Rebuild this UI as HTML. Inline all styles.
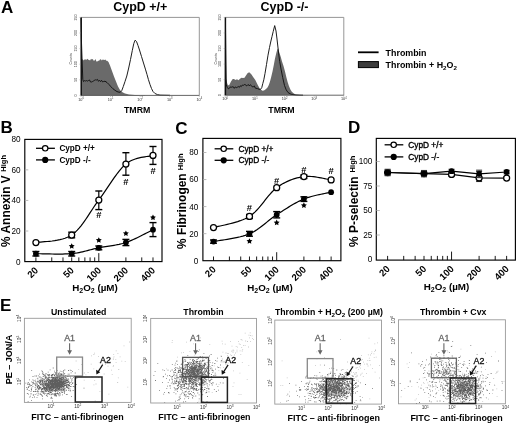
<!DOCTYPE html>
<html><head><meta charset="utf-8"><style>
html,body{margin:0;padding:0;background:#fff;}
svg{display:block;filter:blur(0.4px);}
text{font-family:'Liberation Sans', sans-serif;}
</style></head><body>
<svg width="520" height="424" viewBox="0 0 520 424">
<rect width="520" height="424" fill="#fff"/>
<text x="1.00" y="12.80" font-size="17" font-weight="700" text-anchor="start" fill="#000">A</text>
<text x="140.30" y="10.60" font-size="12.5" font-weight="700" text-anchor="middle" fill="#000">CypD +/+</text>
<text x="284.50" y="10.60" font-size="12.5" font-weight="700" text-anchor="middle" fill="#000">CypD -/-</text>
<path d="M81.00,95.40 L81.00,58.50 L82.00,59.18 L82.90,59.51 L83.80,60.51 L84.70,59.37 L85.60,59.54 L86.50,59.80 L87.40,58.80 L88.30,59.71 L89.20,60.07 L90.10,60.55 L91.00,58.78 L91.90,59.38 L92.80,58.88 L93.70,60.81 L94.60,60.56 L95.50,58.92 L96.40,61.42 L97.30,61.43 L98.20,60.67 L99.10,60.63 L100.00,59.49 L100.90,59.17 L101.80,60.56 L102.70,59.40 L103.60,59.79 L104.50,59.98 L105.40,59.48 L106.30,60.66 L107.20,60.66 L108.50,62.00 L110.00,65.50 L112.00,71.00 L114.00,76.50 L116.00,81.50 L118.00,86.50 L120.00,90.00 L122.00,92.00 L125.00,93.50 L129.00,94.40 L135.00,95.00 L145.00,95.30 L145.00,95.40 Z" fill="#6a6a6a" stroke="none" stroke-width="1" stroke-linejoin="round"/>
<path d="M81.00,17.60 L81.40,40.00 L82.30,66.00 L82.80,79.50 L83.50,81.56 L84.50,80.65 L85.50,80.99 L86.50,80.60 L87.50,81.05 L88.50,80.48 L89.50,79.98 L90.50,81.99 L91.50,81.99 L92.50,81.55 L93.50,81.18 L94.50,80.08 L95.50,79.84 L96.50,80.01 L97.50,79.40 L98.50,81.35 L99.50,80.32 L100.50,81.57 L101.50,80.28 L102.50,81.88 L103.50,81.57 L105.00,81.20 L107.00,82.50 L109.00,84.50 L111.00,86.80 L113.00,88.80 L115.00,90.30 L117.00,91.60 L119.00,92.20 L120.30,92.20 L121.80,90.50 L123.30,86.50 L125.00,81.50 L126.80,76.00 L128.70,68.00 L130.50,59.50 L132.30,50.50 L133.80,43.50 L135.10,40.20 L136.50,41.50 L138.00,45.50 L139.50,50.00 L141.50,56.50 L143.50,63.00 L145.40,69.10 L147.00,74.50 L148.40,79.50 L150.00,84.50 L151.50,88.50 L153.00,91.50 L155.10,93.60 L157.50,94.60 L160.00,95.10 L170.00,95.30" fill="none" stroke="#111" stroke-width="0.95" stroke-linejoin="round"/>
<line x1="81.00" y1="17.40" x2="199.30" y2="17.40" stroke="#8a8a8a" stroke-width="0.9"/>
<line x1="199.30" y1="17.40" x2="199.30" y2="95.40" stroke="#8a8a8a" stroke-width="0.9"/>
<line x1="81.00" y1="95.40" x2="199.30" y2="95.40" stroke="#555" stroke-width="0.9"/>
<line x1="81.20" y1="17.40" x2="81.20" y2="95.40" stroke="#111" stroke-width="1.5"/>
<line x1="79.50" y1="95.40" x2="81.00" y2="95.40" stroke="#888" stroke-width="0.5"/>
<text x="0.00" y="0.00" transform="translate(77.00,95.40) rotate(-90)" font-size="3.6" font-weight="400" text-anchor="middle" fill="#333">0</text>
<line x1="79.50" y1="79.80" x2="81.00" y2="79.80" stroke="#888" stroke-width="0.5"/>
<text x="0.00" y="0.00" transform="translate(77.00,79.80) rotate(-90)" font-size="3.6" font-weight="400" text-anchor="middle" fill="#333">50</text>
<line x1="79.50" y1="64.20" x2="81.00" y2="64.20" stroke="#888" stroke-width="0.5"/>
<text x="0.00" y="0.00" transform="translate(77.00,64.20) rotate(-90)" font-size="3.6" font-weight="400" text-anchor="middle" fill="#333">100</text>
<line x1="79.50" y1="48.60" x2="81.00" y2="48.60" stroke="#888" stroke-width="0.5"/>
<text x="0.00" y="0.00" transform="translate(77.00,48.60) rotate(-90)" font-size="3.6" font-weight="400" text-anchor="middle" fill="#333">150</text>
<line x1="79.50" y1="33.00" x2="81.00" y2="33.00" stroke="#888" stroke-width="0.5"/>
<text x="0.00" y="0.00" transform="translate(77.00,33.00) rotate(-90)" font-size="3.6" font-weight="400" text-anchor="middle" fill="#333">200</text>
<line x1="79.50" y1="17.40" x2="81.00" y2="17.40" stroke="#888" stroke-width="0.5"/>
<text x="0.00" y="0.00" transform="translate(77.00,17.40) rotate(-90)" font-size="3.6" font-weight="400" text-anchor="middle" fill="#333">250</text>
<text x="0.00" y="0.00" transform="translate(72.40,58.90) rotate(-90)" font-size="3.6" font-weight="400" text-anchor="middle" fill="#444">Counts</text>
<line x1="81.00" y1="95.40" x2="81.00" y2="96.90" stroke="#888" stroke-width="0.5"/>
<text x="81.00" y="100.60" font-size="3.8" font-weight="400" text-anchor="middle" fill="#333">10<tspan font-size="2.6" dy="-1.4">0</tspan></text>
<line x1="110.58" y1="95.40" x2="110.58" y2="96.90" stroke="#888" stroke-width="0.5"/>
<text x="110.58" y="100.60" font-size="3.8" font-weight="400" text-anchor="middle" fill="#333">10<tspan font-size="2.6" dy="-1.4">1</tspan></text>
<line x1="140.15" y1="95.40" x2="140.15" y2="96.90" stroke="#888" stroke-width="0.5"/>
<text x="140.15" y="100.60" font-size="3.8" font-weight="400" text-anchor="middle" fill="#333">10<tspan font-size="2.6" dy="-1.4">2</tspan></text>
<line x1="169.73" y1="95.40" x2="169.73" y2="96.90" stroke="#888" stroke-width="0.5"/>
<text x="169.73" y="100.60" font-size="3.8" font-weight="400" text-anchor="middle" fill="#333">10<tspan font-size="2.6" dy="-1.4">3</tspan></text>
<line x1="199.30" y1="95.40" x2="199.30" y2="96.90" stroke="#888" stroke-width="0.5"/>
<text x="199.30" y="100.60" font-size="3.8" font-weight="400" text-anchor="middle" fill="#333">10<tspan font-size="2.6" dy="-1.4">4</tspan></text>
<text x="137.20" y="112.70" font-size="8.8" font-weight="700" text-anchor="middle" fill="#000">TMRM</text>
<path d="M225.20,95.20 L225.20,84.00 L226.20,79.00 L227.50,84.50 L229.00,85.50 L231.00,81.50 L232.70,79.10 L234.00,79.08 L235.50,79.94 L237.00,79.35 L238.50,80.16 L240.00,78.72 L241.50,77.63 L243.00,78.03 L244.50,77.70 L246.00,75.39 L247.50,73.26 L249.20,72.20 L251.30,74.20 L253.30,77.30 L255.30,80.00 L257.50,84.50 L259.80,88.80 L262.40,90.80 L264.00,90.50 L266.00,88.90 L267.50,87.50 L268.80,85.00 L270.00,81.50 L271.20,77.00 L272.50,71.50 L273.80,65.00 L275.00,58.50 L276.30,53.00 L277.40,49.30 L278.20,48.50 L279.30,52.50 L280.70,56.80 L282.00,61.50 L283.50,66.00 L285.00,71.50 L286.30,77.00 L287.60,82.00 L289.00,86.20 L290.40,89.50 L291.80,91.70 L293.50,93.20 L295.40,94.40 L300.00,95.00 L310.00,95.20 Z" fill="#6a6a6a" stroke="none" stroke-width="1" stroke-linejoin="round"/>
<path d="M225.40,95.00 L225.50,27.50 L225.90,60.00 L226.30,85.00 L227.30,87.43 L228.30,88.82 L229.30,88.36 L230.30,86.95 L231.30,87.22 L232.30,86.89 L233.30,86.77 L234.30,88.34 L235.30,86.91 L236.30,87.64 L237.30,87.24 L238.30,86.48 L239.30,87.42 L240.30,85.79 L241.30,86.57 L242.30,85.04 L243.30,85.36 L244.30,84.58 L245.30,84.47 L246.30,85.87 L247.30,85.47 L248.30,84.47 L249.30,85.95 L250.30,84.76 L251.30,85.51 L252.30,86.89 L253.30,86.78 L254.30,85.91 L255.30,88.14 L257.50,88.60 L259.00,89.20 L260.50,89.40 L261.80,87.50 L262.80,83.50 L263.80,79.80 L265.00,73.50 L266.50,64.50 L268.00,55.20 L269.50,47.50 L270.70,42.00 L272.00,36.50 L273.20,31.50 L274.70,25.60 L276.00,31.00 L277.00,39.00 L277.80,46.00 L278.70,54.00 L279.70,61.50 L281.00,69.00 L282.70,77.50 L284.50,85.50 L286.20,89.80 L288.00,92.50 L291.00,94.30 L296.00,95.00 L303.00,95.20" fill="none" stroke="#111" stroke-width="0.95" stroke-linejoin="round"/>
<line x1="225.20" y1="17.40" x2="343.80" y2="17.40" stroke="#8a8a8a" stroke-width="0.9"/>
<line x1="343.80" y1="17.40" x2="343.80" y2="95.20" stroke="#8a8a8a" stroke-width="0.9"/>
<line x1="225.20" y1="95.20" x2="343.80" y2="95.20" stroke="#555" stroke-width="0.9"/>
<line x1="225.40" y1="17.40" x2="225.40" y2="95.20" stroke="#111" stroke-width="1.5"/>
<line x1="223.70" y1="95.20" x2="225.20" y2="95.20" stroke="#888" stroke-width="0.5"/>
<text x="0.00" y="0.00" transform="translate(221.20,95.20) rotate(-90)" font-size="3.6" font-weight="400" text-anchor="middle" fill="#333">0</text>
<line x1="223.70" y1="79.64" x2="225.20" y2="79.64" stroke="#888" stroke-width="0.5"/>
<text x="0.00" y="0.00" transform="translate(221.20,79.64) rotate(-90)" font-size="3.6" font-weight="400" text-anchor="middle" fill="#333">50</text>
<line x1="223.70" y1="64.08" x2="225.20" y2="64.08" stroke="#888" stroke-width="0.5"/>
<text x="0.00" y="0.00" transform="translate(221.20,64.08) rotate(-90)" font-size="3.6" font-weight="400" text-anchor="middle" fill="#333">100</text>
<line x1="223.70" y1="48.52" x2="225.20" y2="48.52" stroke="#888" stroke-width="0.5"/>
<text x="0.00" y="0.00" transform="translate(221.20,48.52) rotate(-90)" font-size="3.6" font-weight="400" text-anchor="middle" fill="#333">150</text>
<line x1="223.70" y1="32.96" x2="225.20" y2="32.96" stroke="#888" stroke-width="0.5"/>
<text x="0.00" y="0.00" transform="translate(221.20,32.96) rotate(-90)" font-size="3.6" font-weight="400" text-anchor="middle" fill="#333">200</text>
<line x1="223.70" y1="17.40" x2="225.20" y2="17.40" stroke="#888" stroke-width="0.5"/>
<text x="0.00" y="0.00" transform="translate(221.20,17.40) rotate(-90)" font-size="3.6" font-weight="400" text-anchor="middle" fill="#333">250</text>
<text x="0.00" y="0.00" transform="translate(216.60,58.80) rotate(-90)" font-size="3.6" font-weight="400" text-anchor="middle" fill="#444">Counts</text>
<line x1="225.20" y1="95.20" x2="225.20" y2="96.70" stroke="#888" stroke-width="0.5"/>
<text x="225.20" y="100.40" font-size="3.8" font-weight="400" text-anchor="middle" fill="#333">10<tspan font-size="2.6" dy="-1.4">0</tspan></text>
<line x1="254.85" y1="95.20" x2="254.85" y2="96.70" stroke="#888" stroke-width="0.5"/>
<text x="254.85" y="100.40" font-size="3.8" font-weight="400" text-anchor="middle" fill="#333">10<tspan font-size="2.6" dy="-1.4">1</tspan></text>
<line x1="284.50" y1="95.20" x2="284.50" y2="96.70" stroke="#888" stroke-width="0.5"/>
<text x="284.50" y="100.40" font-size="3.8" font-weight="400" text-anchor="middle" fill="#333">10<tspan font-size="2.6" dy="-1.4">2</tspan></text>
<line x1="314.15" y1="95.20" x2="314.15" y2="96.70" stroke="#888" stroke-width="0.5"/>
<text x="314.15" y="100.40" font-size="3.8" font-weight="400" text-anchor="middle" fill="#333">10<tspan font-size="2.6" dy="-1.4">3</tspan></text>
<line x1="343.80" y1="95.20" x2="343.80" y2="96.70" stroke="#888" stroke-width="0.5"/>
<text x="343.80" y="100.40" font-size="3.8" font-weight="400" text-anchor="middle" fill="#333">10<tspan font-size="2.6" dy="-1.4">4</tspan></text>
<text x="281.50" y="112.70" font-size="8.8" font-weight="700" text-anchor="middle" fill="#000">TMRM</text>
<line x1="358.00" y1="52.30" x2="378.60" y2="52.30" stroke="#000" stroke-width="1.8"/>
<rect x="358.40" y="61.60" width="20.00" height="6.00" stroke="#000" stroke-width="1.0" fill="#3c3c3c"/>
<text x="385.60" y="56.00" font-size="8.9" font-weight="700" text-anchor="start" fill="#000">Thrombin</text>
<text x="385.60" y="68.30" font-size="8.9" font-weight="700" text-anchor="start" fill="#000">Thrombin + H<tspan font-size="6.2" dy="1.8">2</tspan><tspan dy="-1.8">O</tspan><tspan font-size="6.2" dy="1.8">2</tspan></text>
<text x="0.40" y="132.60" font-size="17" font-weight="700" text-anchor="start" fill="#000">B</text>
<rect x="24.80" y="139.40" width="137.20" height="122.20" stroke="#000" stroke-width="1.15" fill="none"/>
<text x="20.60" y="264.50" font-size="8.2" font-weight="400" text-anchor="end" fill="#000">0</text>
<line x1="24.80" y1="231.02" x2="28.30" y2="231.02" stroke="#aaa" stroke-width="0.8"/>
<text x="20.60" y="233.92" font-size="8.2" font-weight="400" text-anchor="end" fill="#000">20</text>
<line x1="24.80" y1="200.44" x2="28.30" y2="200.44" stroke="#aaa" stroke-width="0.8"/>
<text x="20.60" y="203.34" font-size="8.2" font-weight="400" text-anchor="end" fill="#000">40</text>
<line x1="24.80" y1="169.86" x2="28.30" y2="169.86" stroke="#aaa" stroke-width="0.8"/>
<text x="20.60" y="172.76" font-size="8.2" font-weight="400" text-anchor="end" fill="#000">60</text>
<text x="20.60" y="142.18" font-size="8.2" font-weight="400" text-anchor="end" fill="#000">80</text>
<line x1="35.90" y1="261.60" x2="35.90" y2="257.40" stroke="#000" stroke-width="0.9"/>
<line x1="51.75" y1="261.60" x2="51.75" y2="257.40" stroke="#000" stroke-width="0.9"/>
<line x1="62.99" y1="261.60" x2="62.99" y2="257.40" stroke="#000" stroke-width="0.9"/>
<line x1="71.71" y1="261.60" x2="71.71" y2="257.40" stroke="#000" stroke-width="0.9"/>
<line x1="78.84" y1="261.60" x2="78.84" y2="257.40" stroke="#000" stroke-width="0.9"/>
<line x1="84.87" y1="261.60" x2="84.87" y2="257.40" stroke="#000" stroke-width="0.9"/>
<line x1="90.09" y1="261.60" x2="90.09" y2="257.40" stroke="#000" stroke-width="0.9"/>
<line x1="94.69" y1="261.60" x2="94.69" y2="257.40" stroke="#000" stroke-width="0.9"/>
<line x1="98.81" y1="261.60" x2="98.81" y2="253.10" stroke="#000" stroke-width="0.9"/>
<line x1="125.90" y1="261.60" x2="125.90" y2="257.40" stroke="#000" stroke-width="0.9"/>
<line x1="141.75" y1="261.60" x2="141.75" y2="257.40" stroke="#000" stroke-width="0.9"/>
<line x1="152.99" y1="261.60" x2="152.99" y2="257.40" stroke="#000" stroke-width="0.9"/>
<text x="0.00" y="0.00" transform="translate(38.80,271.00) rotate(-45)" font-size="9.6" font-weight="700" text-anchor="end" fill="#000">20</text>
<text x="0.00" y="0.00" transform="translate(74.61,271.00) rotate(-45)" font-size="9.6" font-weight="700" text-anchor="end" fill="#000">50</text>
<text x="0.00" y="0.00" transform="translate(101.71,271.00) rotate(-45)" font-size="9.6" font-weight="700" text-anchor="end" fill="#000">100</text>
<text x="0.00" y="0.00" transform="translate(128.80,271.00) rotate(-45)" font-size="9.6" font-weight="700" text-anchor="end" fill="#000">200</text>
<text x="0.00" y="0.00" transform="translate(155.89,271.00) rotate(-45)" font-size="9.6" font-weight="700" text-anchor="end" fill="#000">400</text>
<text x="95.00" y="290.50" font-size="9.8" font-weight="700" text-anchor="middle" fill="#000">H<tspan font-size="7" dy="2">2</tspan><tspan dy="-2">O</tspan><tspan font-size="7" dy="2">2</tspan><tspan dy="-2"> (µM)</tspan></text>
<text x="0.00" y="0.00" transform="translate(10.30,246.90) rotate(-90)" font-size="11.9" font-weight="700" text-anchor="start" fill="#000">% Annexin V</text>
<text x="0.00" y="0.00" transform="translate(6.10,171.80) rotate(-90)" font-size="7.6" font-weight="700" text-anchor="start" fill="#000">High</text>
<line x1="36.00" y1="148.30" x2="54.90" y2="148.30" stroke="#000" stroke-width="1.3"/>
<circle cx="45.2" cy="148.3" r="2.7" fill="#fff" stroke="#000" stroke-width="1.2"/>
<text x="59.40" y="151.30" font-size="8.2" font-weight="700" text-anchor="start" fill="#000">CypD +/+</text>
<line x1="36.00" y1="159.90" x2="54.90" y2="159.90" stroke="#000" stroke-width="1.3"/>
<circle cx="45.2" cy="159.9" r="3.1" fill="#000"/>
<text x="59.40" y="162.90" font-size="8.2" font-weight="700" text-anchor="start" fill="#000">CypD -/-</text>
<path d="M35.90,242.60 L37.17,242.38 L38.72,242.20 L40.52,242.04 L42.54,241.88 L44.74,241.71 L47.09,241.51 L49.56,241.28 L52.11,240.99 L54.72,240.63 L57.35,240.19 L59.96,239.65 L62.53,239.00 L65.03,238.23 L67.41,237.31 L69.65,236.24 L71.71,235.00 L73.65,233.57 L75.52,231.94 L77.33,230.15 L79.10,228.20 L80.83,226.12 L82.51,223.93 L84.17,221.64 L85.81,219.28 L87.42,216.86 L89.03,214.40 L90.63,211.93 L92.24,209.46 L93.85,207.02 L95.48,204.61 L97.13,202.27 L98.81,200.00 L100.50,197.73 L102.19,195.36 L103.89,192.92 L105.58,190.43 L107.27,187.90 L108.97,185.37 L110.66,182.84 L112.35,180.35 L114.05,177.91 L115.74,175.54 L117.43,173.26 L119.13,171.10 L120.82,169.07 L122.51,167.20 L124.21,165.50 L125.90,164.00 L127.64,162.69 L129.47,161.56 L131.37,160.57 L133.31,159.72 L135.28,159.00 L137.25,158.39 L139.21,157.88 L141.14,157.45 L143.01,157.09 L144.82,156.79 L146.53,156.53 L148.12,156.30 L149.59,156.09 L150.90,155.88 L152.04,155.65 L152.99,155.40" fill="none" stroke="#000" stroke-width="1.2" stroke-linejoin="round" fill="none"/>
<line x1="71.71" y1="232.20" x2="71.71" y2="237.80" stroke="#000" stroke-width="1.2"/>
<line x1="68.21" y1="232.20" x2="75.21" y2="232.20" stroke="#000" stroke-width="1.4"/>
<line x1="68.21" y1="237.80" x2="75.21" y2="237.80" stroke="#000" stroke-width="1.4"/>
<line x1="98.81" y1="191.00" x2="98.81" y2="209.60" stroke="#000" stroke-width="1.2"/>
<line x1="95.31" y1="191.00" x2="102.31" y2="191.00" stroke="#000" stroke-width="1.4"/>
<line x1="95.31" y1="209.60" x2="102.31" y2="209.60" stroke="#000" stroke-width="1.4"/>
<line x1="125.90" y1="152.70" x2="125.90" y2="175.20" stroke="#000" stroke-width="1.2"/>
<line x1="122.40" y1="152.70" x2="129.40" y2="152.70" stroke="#000" stroke-width="1.4"/>
<line x1="122.40" y1="175.20" x2="129.40" y2="175.20" stroke="#000" stroke-width="1.4"/>
<line x1="152.99" y1="146.50" x2="152.99" y2="164.40" stroke="#000" stroke-width="1.2"/>
<line x1="149.49" y1="146.50" x2="156.49" y2="146.50" stroke="#000" stroke-width="1.4"/>
<line x1="149.49" y1="164.40" x2="156.49" y2="164.40" stroke="#000" stroke-width="1.4"/>
<circle cx="35.90" cy="242.60" r="3.0" fill="#fff" stroke="#000" stroke-width="1.25"/>
<circle cx="71.71" cy="235.00" r="3.0" fill="#fff" stroke="#000" stroke-width="1.25"/>
<circle cx="98.81" cy="200.00" r="3.0" fill="#fff" stroke="#000" stroke-width="1.25"/>
<circle cx="125.90" cy="164.00" r="3.0" fill="#fff" stroke="#000" stroke-width="1.25"/>
<circle cx="152.99" cy="155.40" r="3.0" fill="#fff" stroke="#000" stroke-width="1.25"/>
<path d="M35.90,253.70 L37.17,253.71 L38.72,253.73 L40.52,253.77 L42.54,253.82 L44.74,253.87 L47.09,253.92 L49.56,253.97 L52.11,254.01 L54.72,254.04 L57.35,254.06 L59.96,254.06 L62.53,254.03 L65.03,253.97 L67.41,253.89 L69.65,253.76 L71.71,253.60 L73.65,253.39 L75.52,253.14 L77.33,252.86 L79.10,252.54 L80.83,252.19 L82.51,251.82 L84.17,251.43 L85.81,251.02 L87.42,250.61 L89.03,250.19 L90.63,249.77 L92.24,249.35 L93.85,248.94 L95.48,248.54 L97.13,248.16 L98.81,247.80 L100.50,247.47 L102.19,247.16 L103.89,246.88 L105.58,246.62 L107.27,246.36 L108.97,246.11 L110.66,245.85 L112.35,245.59 L114.05,245.31 L115.74,245.01 L117.43,244.69 L119.13,244.34 L120.82,243.95 L122.51,243.52 L124.21,243.04 L125.90,242.50 L127.64,241.88 L129.47,241.17 L131.37,240.38 L133.31,239.53 L135.28,238.62 L137.25,237.69 L139.21,236.73 L141.14,235.77 L143.01,234.82 L144.82,233.89 L146.53,233.01 L148.12,232.18 L149.59,231.41 L150.90,230.74 L152.04,230.16 L152.99,229.70" fill="none" stroke="#000" stroke-width="1.2" stroke-linejoin="round" fill="none"/>
<line x1="35.90" y1="251.50" x2="35.90" y2="256.00" stroke="#000" stroke-width="1.2"/>
<line x1="32.40" y1="251.50" x2="39.40" y2="251.50" stroke="#000" stroke-width="1.4"/>
<line x1="32.40" y1="256.00" x2="39.40" y2="256.00" stroke="#000" stroke-width="1.4"/>
<line x1="71.71" y1="251.50" x2="71.71" y2="256.00" stroke="#000" stroke-width="1.2"/>
<line x1="68.21" y1="251.50" x2="75.21" y2="251.50" stroke="#000" stroke-width="1.4"/>
<line x1="68.21" y1="256.00" x2="75.21" y2="256.00" stroke="#000" stroke-width="1.4"/>
<line x1="98.81" y1="246.00" x2="98.81" y2="249.80" stroke="#000" stroke-width="1.2"/>
<line x1="95.31" y1="246.00" x2="102.31" y2="246.00" stroke="#000" stroke-width="1.4"/>
<line x1="95.31" y1="249.80" x2="102.31" y2="249.80" stroke="#000" stroke-width="1.4"/>
<line x1="125.90" y1="239.40" x2="125.90" y2="245.60" stroke="#000" stroke-width="1.2"/>
<line x1="122.40" y1="239.40" x2="129.40" y2="239.40" stroke="#000" stroke-width="1.4"/>
<line x1="122.40" y1="245.60" x2="129.40" y2="245.60" stroke="#000" stroke-width="1.4"/>
<line x1="152.99" y1="222.60" x2="152.99" y2="236.60" stroke="#000" stroke-width="1.2"/>
<line x1="149.49" y1="222.60" x2="156.49" y2="222.60" stroke="#000" stroke-width="1.4"/>
<line x1="149.49" y1="236.60" x2="156.49" y2="236.60" stroke="#000" stroke-width="1.4"/>
<circle cx="35.90" cy="253.70" r="2.9" fill="#000"/>
<circle cx="71.71" cy="253.60" r="2.9" fill="#000"/>
<circle cx="98.81" cy="247.80" r="2.9" fill="#000"/>
<circle cx="125.90" cy="242.50" r="2.9" fill="#000"/>
<circle cx="152.99" cy="229.70" r="2.9" fill="#000"/>
<path d="M71.71,243.20 L72.63,245.05 L74.66,245.34 L73.19,246.78 L73.54,248.81 L71.71,247.85 L69.89,248.81 L70.24,246.78 L68.77,245.34 L70.80,245.05 Z" fill="#000" stroke="none" stroke-width="1" stroke-linejoin="round"/>
<path d="M98.81,237.20 L99.72,239.05 L101.76,239.34 L100.28,240.78 L100.63,242.81 L98.81,241.85 L96.99,242.81 L97.33,240.78 L95.86,239.34 L97.90,239.05 Z" fill="#000" stroke="none" stroke-width="1" stroke-linejoin="round"/>
<path d="M125.90,230.40 L126.81,232.25 L128.85,232.54 L127.37,233.98 L127.72,236.01 L125.90,235.05 L124.08,236.01 L124.43,233.98 L122.95,232.54 L124.99,232.25 Z" fill="#000" stroke="none" stroke-width="1" stroke-linejoin="round"/>
<path d="M152.99,214.50 L153.90,216.35 L155.94,216.64 L154.47,218.08 L154.81,220.11 L152.99,219.15 L151.17,220.11 L151.52,218.08 L150.04,216.64 L152.08,216.35 Z" fill="#000" stroke="none" stroke-width="1" stroke-linejoin="round"/>
<text x="98.81" y="218.30" font-size="9.4" font-weight="700" text-anchor="middle" fill="#000">#</text>
<text x="125.90" y="184.90" font-size="9.4" font-weight="700" text-anchor="middle" fill="#000">#</text>
<text x="152.99" y="173.60" font-size="9.4" font-weight="700" text-anchor="middle" fill="#000">#</text>
<text x="175.30" y="134.00" font-size="17" font-weight="700" text-anchor="start" fill="#000">C</text>
<rect x="202.90" y="138.40" width="138.00" height="122.30" stroke="#000" stroke-width="1.15" fill="none"/>
<text x="198.40" y="263.60" font-size="8.2" font-weight="400" text-anchor="end" fill="#000">0</text>
<line x1="202.90" y1="233.65" x2="206.40" y2="233.65" stroke="#aaa" stroke-width="0.8"/>
<text x="198.40" y="236.55" font-size="8.2" font-weight="400" text-anchor="end" fill="#000">20</text>
<line x1="202.90" y1="206.60" x2="206.40" y2="206.60" stroke="#aaa" stroke-width="0.8"/>
<text x="198.40" y="209.50" font-size="8.2" font-weight="400" text-anchor="end" fill="#000">40</text>
<line x1="202.90" y1="179.55" x2="206.40" y2="179.55" stroke="#aaa" stroke-width="0.8"/>
<text x="198.40" y="182.45" font-size="8.2" font-weight="400" text-anchor="end" fill="#000">60</text>
<line x1="202.90" y1="152.50" x2="206.40" y2="152.50" stroke="#aaa" stroke-width="0.8"/>
<text x="198.40" y="155.40" font-size="8.2" font-weight="400" text-anchor="end" fill="#000">80</text>
<line x1="213.50" y1="260.70" x2="213.50" y2="256.50" stroke="#000" stroke-width="0.9"/>
<line x1="229.42" y1="260.70" x2="229.42" y2="256.50" stroke="#000" stroke-width="0.9"/>
<line x1="240.71" y1="260.70" x2="240.71" y2="256.50" stroke="#000" stroke-width="0.9"/>
<line x1="249.47" y1="260.70" x2="249.47" y2="256.50" stroke="#000" stroke-width="0.9"/>
<line x1="256.63" y1="260.70" x2="256.63" y2="256.50" stroke="#000" stroke-width="0.9"/>
<line x1="262.68" y1="260.70" x2="262.68" y2="256.50" stroke="#000" stroke-width="0.9"/>
<line x1="267.93" y1="260.70" x2="267.93" y2="256.50" stroke="#000" stroke-width="0.9"/>
<line x1="272.55" y1="260.70" x2="272.55" y2="256.50" stroke="#000" stroke-width="0.9"/>
<line x1="276.69" y1="260.70" x2="276.69" y2="252.20" stroke="#000" stroke-width="0.9"/>
<line x1="303.90" y1="260.70" x2="303.90" y2="256.50" stroke="#000" stroke-width="0.9"/>
<line x1="319.82" y1="260.70" x2="319.82" y2="256.50" stroke="#000" stroke-width="0.9"/>
<line x1="331.11" y1="260.70" x2="331.11" y2="256.50" stroke="#000" stroke-width="0.9"/>
<text x="0.00" y="0.00" transform="translate(216.40,270.10) rotate(-45)" font-size="9.6" font-weight="700" text-anchor="end" fill="#000">20</text>
<text x="0.00" y="0.00" transform="translate(252.37,270.10) rotate(-45)" font-size="9.6" font-weight="700" text-anchor="end" fill="#000">50</text>
<text x="0.00" y="0.00" transform="translate(279.59,270.10) rotate(-45)" font-size="9.6" font-weight="700" text-anchor="end" fill="#000">100</text>
<text x="0.00" y="0.00" transform="translate(306.80,270.10) rotate(-45)" font-size="9.6" font-weight="700" text-anchor="end" fill="#000">200</text>
<text x="0.00" y="0.00" transform="translate(334.01,270.10) rotate(-45)" font-size="9.6" font-weight="700" text-anchor="end" fill="#000">400</text>
<text x="270.00" y="290.50" font-size="9.8" font-weight="700" text-anchor="middle" fill="#000">H<tspan font-size="7" dy="2">2</tspan><tspan dy="-2">O</tspan><tspan font-size="7" dy="2">2</tspan><tspan dy="-2"> (µM)</tspan></text>
<text x="0.00" y="0.00" transform="translate(186.40,249.00) rotate(-90)" font-size="11.95" font-weight="700" text-anchor="start" fill="#000">% Fibrinogen</text>
<text x="0.00" y="0.00" transform="translate(182.60,170.30) rotate(-90)" font-size="7.6" font-weight="700" text-anchor="start" fill="#000">High</text>
<line x1="214.60" y1="148.80" x2="233.30" y2="148.80" stroke="#000" stroke-width="1.3"/>
<circle cx="223.7" cy="148.8" r="2.7" fill="#fff" stroke="#000" stroke-width="1.2"/>
<text x="238.40" y="151.80" font-size="8.3" font-weight="400" text-anchor="start" fill="#000" stroke="#000" stroke-width="0.35">CypD +/+</text>
<line x1="214.60" y1="160.30" x2="233.30" y2="160.30" stroke="#000" stroke-width="1.3"/>
<circle cx="223.7" cy="160.3" r="3.1" fill="#000"/>
<text x="238.40" y="163.30" font-size="8.3" font-weight="400" text-anchor="start" fill="#000" stroke="#000" stroke-width="0.35">CypD -/-</text>
<path d="M213.50,227.60 L214.78,227.24 L216.34,226.86 L218.14,226.44 L220.17,226.00 L222.38,225.51 L224.74,224.99 L227.22,224.42 L229.79,223.79 L232.41,223.11 L235.04,222.37 L237.67,221.57 L240.25,220.69 L242.76,219.74 L245.15,218.71 L247.40,217.60 L249.47,216.40 L251.42,215.05 L253.29,213.53 L255.12,211.85 L256.89,210.04 L258.62,208.13 L260.32,206.15 L261.99,204.11 L263.63,202.04 L265.25,199.98 L266.87,197.94 L268.48,195.96 L270.09,194.05 L271.71,192.24 L273.35,190.56 L275.00,189.04 L276.69,187.70 L278.39,186.50 L280.09,185.37 L281.79,184.32 L283.49,183.35 L285.19,182.45 L286.89,181.62 L288.59,180.85 L290.29,180.15 L291.99,179.51 L293.70,178.93 L295.40,178.41 L297.10,177.95 L298.80,177.54 L300.50,177.18 L302.20,176.87 L303.90,176.60 L305.65,176.42 L307.49,176.35 L309.39,176.37 L311.34,176.49 L313.32,176.68 L315.30,176.93 L317.27,177.22 L319.21,177.56 L321.09,177.91 L322.90,178.27 L324.62,178.63 L326.22,178.97 L327.69,179.28 L329.01,179.55 L330.16,179.76 L331.11,179.90" fill="none" stroke="#000" stroke-width="1.2" stroke-linejoin="round" fill="none"/>
<line x1="249.47" y1="214.50" x2="249.47" y2="218.50" stroke="#000" stroke-width="1.2"/>
<line x1="245.97" y1="214.50" x2="252.97" y2="214.50" stroke="#000" stroke-width="1.4"/>
<line x1="245.97" y1="218.50" x2="252.97" y2="218.50" stroke="#000" stroke-width="1.4"/>
<line x1="303.90" y1="175.00" x2="303.90" y2="178.50" stroke="#000" stroke-width="1.2"/>
<line x1="300.40" y1="175.00" x2="307.40" y2="175.00" stroke="#000" stroke-width="1.4"/>
<line x1="300.40" y1="178.50" x2="307.40" y2="178.50" stroke="#000" stroke-width="1.4"/>
<circle cx="213.50" cy="227.60" r="3.0" fill="#fff" stroke="#000" stroke-width="1.25"/>
<circle cx="249.47" cy="216.40" r="3.0" fill="#fff" stroke="#000" stroke-width="1.25"/>
<circle cx="276.69" cy="187.70" r="3.0" fill="#fff" stroke="#000" stroke-width="1.25"/>
<circle cx="303.90" cy="176.60" r="3.0" fill="#fff" stroke="#000" stroke-width="1.25"/>
<circle cx="331.11" cy="179.90" r="3.0" fill="#fff" stroke="#000" stroke-width="1.25"/>
<path d="M213.50,241.60 L214.78,241.35 L216.34,241.08 L218.14,240.78 L220.17,240.46 L222.38,240.12 L224.74,239.74 L227.22,239.34 L229.79,238.89 L232.41,238.41 L235.04,237.90 L237.67,237.33 L240.25,236.73 L242.76,236.07 L245.15,235.37 L247.40,234.61 L249.47,233.80 L251.42,232.91 L253.29,231.93 L255.12,230.87 L256.89,229.74 L258.62,228.55 L260.32,227.32 L261.99,226.04 L263.63,224.74 L265.25,223.43 L266.87,222.11 L268.48,220.80 L270.09,219.50 L271.71,218.23 L273.35,217.00 L275.00,215.82 L276.69,214.70 L278.39,213.61 L280.09,212.51 L281.79,211.42 L283.49,210.33 L285.19,209.24 L286.89,208.17 L288.59,207.12 L290.29,206.08 L291.99,205.07 L293.70,204.09 L295.40,203.13 L297.10,202.22 L298.80,201.34 L300.50,200.51 L302.20,199.73 L303.90,199.00 L305.65,198.32 L307.49,197.68 L309.39,197.08 L311.34,196.51 L313.32,195.99 L315.30,195.50 L317.27,195.04 L319.21,194.62 L321.09,194.23 L322.90,193.86 L324.62,193.52 L326.22,193.21 L327.69,192.93 L329.01,192.66 L330.16,192.42 L331.11,192.20" fill="none" stroke="#000" stroke-width="1.2" stroke-linejoin="round" fill="none"/>
<line x1="213.50" y1="240.00" x2="213.50" y2="243.20" stroke="#000" stroke-width="1.2"/>
<line x1="210.00" y1="240.00" x2="217.00" y2="240.00" stroke="#000" stroke-width="1.4"/>
<line x1="210.00" y1="243.20" x2="217.00" y2="243.20" stroke="#000" stroke-width="1.4"/>
<line x1="249.47" y1="231.40" x2="249.47" y2="236.20" stroke="#000" stroke-width="1.2"/>
<line x1="245.97" y1="231.40" x2="252.97" y2="231.40" stroke="#000" stroke-width="1.4"/>
<line x1="245.97" y1="236.20" x2="252.97" y2="236.20" stroke="#000" stroke-width="1.4"/>
<line x1="276.69" y1="211.60" x2="276.69" y2="217.90" stroke="#000" stroke-width="1.2"/>
<line x1="273.19" y1="211.60" x2="280.19" y2="211.60" stroke="#000" stroke-width="1.4"/>
<line x1="273.19" y1="217.90" x2="280.19" y2="217.90" stroke="#000" stroke-width="1.4"/>
<line x1="303.90" y1="196.80" x2="303.90" y2="201.40" stroke="#000" stroke-width="1.2"/>
<line x1="300.40" y1="196.80" x2="307.40" y2="196.80" stroke="#000" stroke-width="1.4"/>
<line x1="300.40" y1="201.40" x2="307.40" y2="201.40" stroke="#000" stroke-width="1.4"/>
<circle cx="213.50" cy="241.60" r="2.9" fill="#000"/>
<circle cx="249.47" cy="233.80" r="2.9" fill="#000"/>
<circle cx="276.69" cy="214.70" r="2.9" fill="#000"/>
<circle cx="303.90" cy="199.00" r="2.9" fill="#000"/>
<circle cx="331.11" cy="192.20" r="2.9" fill="#000"/>
<path d="M249.47,238.20 L250.38,240.05 L252.42,240.34 L250.95,241.78 L251.30,243.81 L249.47,242.85 L247.65,243.81 L248.00,241.78 L246.53,240.34 L248.56,240.05 Z" fill="#000" stroke="none" stroke-width="1" stroke-linejoin="round"/>
<path d="M276.69,219.60 L277.60,221.45 L279.64,221.74 L278.16,223.18 L278.51,225.21 L276.69,224.25 L274.86,225.21 L275.21,223.18 L273.74,221.74 L275.78,221.45 Z" fill="#000" stroke="none" stroke-width="1" stroke-linejoin="round"/>
<path d="M303.90,202.30 L304.81,204.15 L306.85,204.44 L305.37,205.88 L305.72,207.91 L303.90,206.95 L302.08,207.91 L302.43,205.88 L300.95,204.44 L302.99,204.15 Z" fill="#000" stroke="none" stroke-width="1" stroke-linejoin="round"/>
<text x="249.47" y="211.00" font-size="9.4" font-weight="700" text-anchor="middle" fill="#000">#</text>
<text x="276.69" y="184.30" font-size="9.4" font-weight="700" text-anchor="middle" fill="#000">#</text>
<text x="303.90" y="172.60" font-size="9.4" font-weight="700" text-anchor="middle" fill="#000">#</text>
<text x="331.11" y="173.60" font-size="9.4" font-weight="700" text-anchor="middle" fill="#000">#</text>
<text x="348.00" y="133.30" font-size="17" font-weight="700" text-anchor="start" fill="#000">D</text>
<rect x="376.30" y="138.40" width="139.10" height="121.70" stroke="#000" stroke-width="1.15" fill="none"/>
<text x="372.40" y="262.40" font-size="8.2" font-weight="400" text-anchor="end" fill="#000">0</text>
<line x1="376.30" y1="235.00" x2="379.80" y2="235.00" stroke="#aaa" stroke-width="0.8"/>
<text x="372.40" y="237.90" font-size="8.2" font-weight="400" text-anchor="end" fill="#000">25</text>
<line x1="376.30" y1="210.50" x2="379.80" y2="210.50" stroke="#aaa" stroke-width="0.8"/>
<text x="372.40" y="213.40" font-size="8.2" font-weight="400" text-anchor="end" fill="#000">50</text>
<line x1="376.30" y1="186.00" x2="379.80" y2="186.00" stroke="#aaa" stroke-width="0.8"/>
<text x="372.40" y="188.90" font-size="8.2" font-weight="400" text-anchor="end" fill="#000">75</text>
<line x1="376.30" y1="161.50" x2="379.80" y2="161.50" stroke="#aaa" stroke-width="0.8"/>
<text x="372.40" y="164.40" font-size="8.2" font-weight="400" text-anchor="end" fill="#000">100</text>
<line x1="387.60" y1="260.10" x2="387.60" y2="255.90" stroke="#000" stroke-width="0.9"/>
<line x1="403.71" y1="260.10" x2="403.71" y2="255.90" stroke="#000" stroke-width="0.9"/>
<line x1="415.14" y1="260.10" x2="415.14" y2="255.90" stroke="#000" stroke-width="0.9"/>
<line x1="424.01" y1="260.10" x2="424.01" y2="255.90" stroke="#000" stroke-width="0.9"/>
<line x1="431.26" y1="260.10" x2="431.26" y2="255.90" stroke="#000" stroke-width="0.9"/>
<line x1="437.38" y1="260.10" x2="437.38" y2="255.90" stroke="#000" stroke-width="0.9"/>
<line x1="442.69" y1="260.10" x2="442.69" y2="255.90" stroke="#000" stroke-width="0.9"/>
<line x1="447.37" y1="260.10" x2="447.37" y2="255.90" stroke="#000" stroke-width="0.9"/>
<line x1="451.56" y1="260.10" x2="451.56" y2="251.60" stroke="#000" stroke-width="0.9"/>
<line x1="479.10" y1="260.10" x2="479.10" y2="255.90" stroke="#000" stroke-width="0.9"/>
<line x1="495.21" y1="260.10" x2="495.21" y2="255.90" stroke="#000" stroke-width="0.9"/>
<line x1="506.64" y1="260.10" x2="506.64" y2="255.90" stroke="#000" stroke-width="0.9"/>
<text x="0.00" y="0.00" transform="translate(390.50,269.50) rotate(-45)" font-size="9.6" font-weight="700" text-anchor="end" fill="#000">20</text>
<text x="0.00" y="0.00" transform="translate(426.91,269.50) rotate(-45)" font-size="9.6" font-weight="700" text-anchor="end" fill="#000">50</text>
<text x="0.00" y="0.00" transform="translate(454.46,269.50) rotate(-45)" font-size="9.6" font-weight="700" text-anchor="end" fill="#000">100</text>
<text x="0.00" y="0.00" transform="translate(482.00,269.50) rotate(-45)" font-size="9.6" font-weight="700" text-anchor="end" fill="#000">200</text>
<text x="0.00" y="0.00" transform="translate(509.54,269.50) rotate(-45)" font-size="9.6" font-weight="700" text-anchor="end" fill="#000">400</text>
<text x="446.50" y="289.50" font-size="9.8" font-weight="700" text-anchor="middle" fill="#000">H<tspan font-size="7" dy="2">2</tspan><tspan dy="-2">O</tspan><tspan font-size="7" dy="2">2</tspan><tspan dy="-2"> (µM)</tspan></text>
<text x="0.00" y="0.00" transform="translate(357.90,247.00) rotate(-90)" font-size="12.0" font-weight="700" text-anchor="start" fill="#000">% P-selectin</text>
<text x="0.00" y="0.00" transform="translate(354.60,172.40) rotate(-90)" font-size="7.6" font-weight="700" text-anchor="start" fill="#000">High</text>
<line x1="384.60" y1="144.80" x2="403.30" y2="144.80" stroke="#000" stroke-width="1.3"/>
<circle cx="393.7" cy="144.8" r="2.7" fill="#fff" stroke="#000" stroke-width="1.2"/>
<text x="408.30" y="147.80" font-size="8.3" font-weight="400" text-anchor="start" fill="#000" stroke="#000" stroke-width="0.35">CypD +/+</text>
<line x1="384.60" y1="156.90" x2="403.30" y2="156.90" stroke="#000" stroke-width="1.3"/>
<circle cx="393.7" cy="156.9" r="3.1" fill="#000"/>
<text x="408.30" y="159.90" font-size="8.3" font-weight="400" text-anchor="start" fill="#000" stroke="#000" stroke-width="0.35">CypD -/-</text>
<path d="M387.60,172.50 L424.01,173.60 L451.56,174.40 L479.10,177.90 L506.64,178.10" fill="none" stroke="#000" stroke-width="1.2" stroke-linejoin="round" fill="none"/>
<line x1="387.60" y1="170.00" x2="387.60" y2="175.00" stroke="#333" stroke-width="0.9"/>
<line x1="384.60" y1="170.00" x2="390.60" y2="170.00" stroke="#333" stroke-width="1.1"/>
<line x1="384.60" y1="175.00" x2="390.60" y2="175.00" stroke="#333" stroke-width="1.1"/>
<line x1="424.01" y1="171.00" x2="424.01" y2="176.20" stroke="#333" stroke-width="0.9"/>
<line x1="421.01" y1="171.00" x2="427.01" y2="171.00" stroke="#333" stroke-width="1.1"/>
<line x1="421.01" y1="176.20" x2="427.01" y2="176.20" stroke="#333" stroke-width="1.1"/>
<line x1="451.56" y1="172.50" x2="451.56" y2="176.50" stroke="#333" stroke-width="0.9"/>
<line x1="448.56" y1="172.50" x2="454.56" y2="172.50" stroke="#333" stroke-width="1.1"/>
<line x1="448.56" y1="176.50" x2="454.56" y2="176.50" stroke="#333" stroke-width="1.1"/>
<line x1="479.10" y1="171.50" x2="479.10" y2="181.50" stroke="#333" stroke-width="0.9"/>
<line x1="476.10" y1="171.50" x2="482.10" y2="171.50" stroke="#333" stroke-width="1.1"/>
<line x1="476.10" y1="181.50" x2="482.10" y2="181.50" stroke="#333" stroke-width="1.1"/>
<line x1="506.64" y1="176.50" x2="506.64" y2="179.70" stroke="#333" stroke-width="0.9"/>
<line x1="503.64" y1="176.50" x2="509.64" y2="176.50" stroke="#333" stroke-width="1.1"/>
<line x1="503.64" y1="179.70" x2="509.64" y2="179.70" stroke="#333" stroke-width="1.1"/>
<circle cx="387.60" cy="172.50" r="3.0" fill="#fff" stroke="#000" stroke-width="1.25"/>
<circle cx="424.01" cy="173.60" r="3.0" fill="#fff" stroke="#000" stroke-width="1.25"/>
<circle cx="451.56" cy="174.40" r="3.0" fill="#fff" stroke="#000" stroke-width="1.25"/>
<circle cx="479.10" cy="177.90" r="3.0" fill="#fff" stroke="#000" stroke-width="1.25"/>
<circle cx="506.64" cy="178.10" r="3.0" fill="#fff" stroke="#000" stroke-width="1.25"/>
<path d="M387.60,172.50 L424.01,173.60 L451.56,171.20 L479.10,173.90 L506.64,172.00" fill="none" stroke="#000" stroke-width="1.2" stroke-linejoin="round" fill="none"/>
<line x1="387.60" y1="169.30" x2="387.60" y2="175.70" stroke="#333" stroke-width="0.9"/>
<line x1="384.60" y1="169.30" x2="390.60" y2="169.30" stroke="#333" stroke-width="1.1"/>
<line x1="384.60" y1="175.70" x2="390.60" y2="175.70" stroke="#333" stroke-width="1.1"/>
<line x1="424.01" y1="170.50" x2="424.01" y2="176.80" stroke="#333" stroke-width="0.9"/>
<line x1="421.01" y1="170.50" x2="427.01" y2="170.50" stroke="#333" stroke-width="1.1"/>
<line x1="421.01" y1="176.80" x2="427.01" y2="176.80" stroke="#333" stroke-width="1.1"/>
<line x1="451.56" y1="169.30" x2="451.56" y2="173.20" stroke="#333" stroke-width="0.9"/>
<line x1="448.56" y1="169.30" x2="454.56" y2="169.30" stroke="#333" stroke-width="1.1"/>
<line x1="448.56" y1="173.20" x2="454.56" y2="173.20" stroke="#333" stroke-width="1.1"/>
<line x1="479.10" y1="170.20" x2="479.10" y2="177.60" stroke="#333" stroke-width="0.9"/>
<line x1="476.10" y1="170.20" x2="482.10" y2="170.20" stroke="#333" stroke-width="1.1"/>
<line x1="476.10" y1="177.60" x2="482.10" y2="177.60" stroke="#333" stroke-width="1.1"/>
<line x1="506.64" y1="170.30" x2="506.64" y2="173.80" stroke="#333" stroke-width="0.9"/>
<line x1="503.64" y1="170.30" x2="509.64" y2="170.30" stroke="#333" stroke-width="1.1"/>
<line x1="503.64" y1="173.80" x2="509.64" y2="173.80" stroke="#333" stroke-width="1.1"/>
<circle cx="387.60" cy="172.50" r="2.9" fill="#000"/>
<circle cx="424.01" cy="173.60" r="2.9" fill="#000"/>
<circle cx="451.56" cy="171.20" r="2.9" fill="#000"/>
<circle cx="479.10" cy="173.90" r="2.9" fill="#000"/>
<circle cx="506.64" cy="172.00" r="2.9" fill="#000"/>
<text x="0.00" y="311.40" font-size="17" font-weight="700" text-anchor="start" fill="#000">E</text>
<text x="78.75" y="314.90" font-size="8.75" font-weight="700" text-anchor="middle" fill="#000">Unstimulated</text>
<path d="M53.6,385.6h0.8v0.8h-0.8zM53.8,381.8h0.8v0.8h-0.8zM48.9,382.7h0.8v0.8h-0.8zM63.1,384.2h0.8v0.8h-0.8zM62.6,383.5h0.8v0.8h-0.8zM58.1,383.6h0.8v0.8h-0.8zM43.8,388.1h0.8v0.8h-0.8zM58.9,385.0h0.8v0.8h-0.8zM43.6,376.3h0.8v0.8h-0.8zM49.2,381.5h0.8v0.8h-0.8zM57.5,382.6h0.8v0.8h-0.8zM59.0,379.8h0.8v0.8h-0.8zM57.5,384.6h0.8v0.8h-0.8zM50.8,391.4h0.8v0.8h-0.8zM59.2,388.1h0.8v0.8h-0.8zM51.1,380.1h0.8v0.8h-0.8zM53.0,382.8h0.8v0.8h-0.8zM59.8,383.8h0.8v0.8h-0.8zM52.3,379.0h0.8v0.8h-0.8zM51.8,389.0h0.8v0.8h-0.8zM49.8,384.7h0.8v0.8h-0.8zM58.3,375.9h0.8v0.8h-0.8zM55.7,389.0h0.8v0.8h-0.8zM41.4,383.0h0.8v0.8h-0.8zM54.6,379.4h0.8v0.8h-0.8zM58.8,382.4h0.8v0.8h-0.8zM45.2,387.9h0.8v0.8h-0.8zM60.0,386.9h0.8v0.8h-0.8zM65.4,383.7h0.8v0.8h-0.8zM56.2,377.0h0.8v0.8h-0.8zM59.6,379.8h0.8v0.8h-0.8zM52.2,377.6h0.8v0.8h-0.8zM48.7,381.3h0.8v0.8h-0.8zM64.3,372.9h0.8v0.8h-0.8zM45.3,385.2h0.8v0.8h-0.8zM65.4,384.7h0.8v0.8h-0.8zM42.2,372.9h0.8v0.8h-0.8zM57.9,379.4h0.8v0.8h-0.8zM47.6,388.3h0.8v0.8h-0.8zM63.0,383.0h0.8v0.8h-0.8zM57.1,384.9h0.8v0.8h-0.8zM66.4,384.8h0.8v0.8h-0.8zM59.0,385.2h0.8v0.8h-0.8zM44.5,390.0h0.8v0.8h-0.8zM62.0,384.8h0.8v0.8h-0.8zM41.7,381.5h0.8v0.8h-0.8zM61.2,374.2h0.8v0.8h-0.8zM54.1,387.8h0.8v0.8h-0.8zM46.3,391.3h0.8v0.8h-0.8zM59.2,382.0h0.8v0.8h-0.8zM57.6,385.8h0.8v0.8h-0.8zM56.2,388.2h0.8v0.8h-0.8zM50.8,381.6h0.8v0.8h-0.8zM62.6,382.5h0.8v0.8h-0.8zM49.3,388.0h0.8v0.8h-0.8zM65.5,380.0h0.8v0.8h-0.8zM45.8,383.4h0.8v0.8h-0.8zM54.3,381.8h0.8v0.8h-0.8zM65.1,377.4h0.8v0.8h-0.8zM64.1,376.4h0.8v0.8h-0.8zM49.9,386.5h0.8v0.8h-0.8zM63.2,386.2h0.8v0.8h-0.8zM57.8,383.5h0.8v0.8h-0.8zM56.4,385.6h0.8v0.8h-0.8zM54.1,384.4h0.8v0.8h-0.8zM59.3,382.7h0.8v0.8h-0.8zM60.7,385.1h0.8v0.8h-0.8zM69.3,383.1h0.8v0.8h-0.8zM52.4,381.6h0.8v0.8h-0.8zM55.3,387.3h0.8v0.8h-0.8zM53.0,385.1h0.8v0.8h-0.8zM68.1,370.1h0.8v0.8h-0.8zM47.6,385.0h0.8v0.8h-0.8zM58.1,383.9h0.8v0.8h-0.8zM52.4,386.4h0.8v0.8h-0.8zM57.3,380.5h0.8v0.8h-0.8zM72.2,383.0h0.8v0.8h-0.8zM51.5,383.0h0.8v0.8h-0.8zM53.8,382.9h0.8v0.8h-0.8zM36.4,382.7h0.8v0.8h-0.8zM62.4,377.0h0.8v0.8h-0.8zM54.9,387.5h0.8v0.8h-0.8zM61.3,389.3h0.8v0.8h-0.8zM43.6,382.6h0.8v0.8h-0.8zM53.0,386.1h0.8v0.8h-0.8zM63.0,370.0h0.8v0.8h-0.8zM62.9,375.7h0.8v0.8h-0.8zM60.1,375.8h0.8v0.8h-0.8zM56.6,388.4h0.8v0.8h-0.8zM54.3,384.0h0.8v0.8h-0.8zM60.9,383.2h0.8v0.8h-0.8zM54.8,390.1h0.8v0.8h-0.8zM62.7,381.0h0.8v0.8h-0.8zM74.4,375.9h0.8v0.8h-0.8zM61.7,381.2h0.8v0.8h-0.8zM56.3,386.2h0.8v0.8h-0.8zM56.9,385.8h0.8v0.8h-0.8zM44.8,377.2h0.8v0.8h-0.8zM59.6,378.2h0.8v0.8h-0.8zM48.2,377.0h0.8v0.8h-0.8zM64.2,385.6h0.8v0.8h-0.8zM65.6,377.7h0.8v0.8h-0.8zM55.4,377.8h0.8v0.8h-0.8zM60.7,389.8h0.8v0.8h-0.8zM49.2,390.8h0.8v0.8h-0.8zM62.2,381.6h0.8v0.8h-0.8zM41.7,390.9h0.8v0.8h-0.8zM54.7,380.4h0.8v0.8h-0.8zM58.1,384.7h0.8v0.8h-0.8zM65.8,377.4h0.8v0.8h-0.8zM63.3,389.1h0.8v0.8h-0.8zM65.5,381.2h0.8v0.8h-0.8zM50.2,388.2h0.8v0.8h-0.8zM56.2,383.5h0.8v0.8h-0.8zM65.3,380.9h0.8v0.8h-0.8zM39.4,382.9h0.8v0.8h-0.8zM42.5,388.1h0.8v0.8h-0.8zM57.6,380.0h0.8v0.8h-0.8zM55.3,386.9h0.8v0.8h-0.8zM55.9,389.1h0.8v0.8h-0.8zM54.9,387.9h0.8v0.8h-0.8zM65.7,389.4h0.8v0.8h-0.8zM50.7,387.5h0.8v0.8h-0.8zM42.3,379.4h0.8v0.8h-0.8zM41.7,389.3h0.8v0.8h-0.8zM46.8,383.9h0.8v0.8h-0.8zM54.0,383.1h0.8v0.8h-0.8zM51.3,384.5h0.8v0.8h-0.8zM67.8,382.0h0.8v0.8h-0.8zM59.1,387.3h0.8v0.8h-0.8zM54.0,377.4h0.8v0.8h-0.8zM51.5,388.4h0.8v0.8h-0.8zM43.9,381.5h0.8v0.8h-0.8zM62.4,386.0h0.8v0.8h-0.8zM55.4,386.7h0.8v0.8h-0.8zM56.5,377.6h0.8v0.8h-0.8zM44.5,381.2h0.8v0.8h-0.8zM61.8,379.8h0.8v0.8h-0.8zM49.1,380.2h0.8v0.8h-0.8zM44.7,383.6h0.8v0.8h-0.8zM47.2,385.5h0.8v0.8h-0.8zM39.0,386.2h0.8v0.8h-0.8zM50.9,374.6h0.8v0.8h-0.8zM60.4,381.3h0.8v0.8h-0.8zM39.9,380.6h0.8v0.8h-0.8zM57.4,380.8h0.8v0.8h-0.8zM60.8,385.9h0.8v0.8h-0.8zM60.0,384.1h0.8v0.8h-0.8zM64.6,385.1h0.8v0.8h-0.8zM58.5,373.2h0.8v0.8h-0.8zM61.6,388.4h0.8v0.8h-0.8zM53.3,381.1h0.8v0.8h-0.8zM68.8,373.7h0.8v0.8h-0.8zM58.6,393.8h0.8v0.8h-0.8zM48.9,386.9h0.8v0.8h-0.8zM68.5,381.2h0.8v0.8h-0.8zM59.3,386.8h0.8v0.8h-0.8zM49.1,383.3h0.8v0.8h-0.8zM57.4,386.6h0.8v0.8h-0.8zM55.1,382.2h0.8v0.8h-0.8zM48.3,382.1h0.8v0.8h-0.8zM61.6,382.9h0.8v0.8h-0.8zM49.5,379.8h0.8v0.8h-0.8zM73.9,386.4h0.8v0.8h-0.8zM59.8,370.8h0.8v0.8h-0.8zM59.7,384.8h0.8v0.8h-0.8zM67.1,383.8h0.8v0.8h-0.8zM54.9,385.5h0.8v0.8h-0.8zM41.9,389.1h0.8v0.8h-0.8zM57.6,379.6h0.8v0.8h-0.8zM64.6,390.4h0.8v0.8h-0.8zM45.6,381.0h0.8v0.8h-0.8zM57.4,383.7h0.8v0.8h-0.8zM52.6,378.9h0.8v0.8h-0.8zM70.1,386.3h0.8v0.8h-0.8zM47.1,377.7h0.8v0.8h-0.8zM67.2,386.4h0.8v0.8h-0.8zM68.0,385.5h0.8v0.8h-0.8zM49.3,384.9h0.8v0.8h-0.8zM40.4,381.1h0.8v0.8h-0.8zM55.0,385.5h0.8v0.8h-0.8zM50.3,383.0h0.8v0.8h-0.8zM58.6,384.5h0.8v0.8h-0.8zM59.8,383.6h0.8v0.8h-0.8zM53.1,386.9h0.8v0.8h-0.8zM55.7,379.2h0.8v0.8h-0.8zM51.0,383.5h0.8v0.8h-0.8zM54.6,383.9h0.8v0.8h-0.8zM55.4,383.9h0.8v0.8h-0.8zM54.4,377.4h0.8v0.8h-0.8zM58.3,387.6h0.8v0.8h-0.8zM58.4,381.9h0.8v0.8h-0.8zM58.5,378.3h0.8v0.8h-0.8zM42.2,384.6h0.8v0.8h-0.8zM48.9,387.1h0.8v0.8h-0.8zM47.8,371.8h0.8v0.8h-0.8zM48.2,391.0h0.8v0.8h-0.8zM52.7,377.1h0.8v0.8h-0.8zM50.1,386.0h0.8v0.8h-0.8zM58.8,383.5h0.8v0.8h-0.8zM65.7,385.3h0.8v0.8h-0.8zM55.2,385.8h0.8v0.8h-0.8zM66.9,386.4h0.8v0.8h-0.8zM62.5,377.4h0.8v0.8h-0.8zM54.3,386.5h0.8v0.8h-0.8zM53.3,388.2h0.8v0.8h-0.8zM59.5,386.8h0.8v0.8h-0.8zM53.9,394.8h0.8v0.8h-0.8zM64.0,381.2h0.8v0.8h-0.8zM56.0,394.9h0.8v0.8h-0.8zM53.0,387.3h0.8v0.8h-0.8zM62.2,382.4h0.8v0.8h-0.8zM47.3,384.7h0.8v0.8h-0.8zM57.9,388.0h0.8v0.8h-0.8zM60.8,382.6h0.8v0.8h-0.8zM61.3,384.9h0.8v0.8h-0.8zM56.8,383.2h0.8v0.8h-0.8zM53.7,386.4h0.8v0.8h-0.8zM48.1,380.9h0.8v0.8h-0.8zM55.4,376.4h0.8v0.8h-0.8zM52.3,374.2h0.8v0.8h-0.8zM50.6,386.1h0.8v0.8h-0.8zM59.3,382.4h0.8v0.8h-0.8zM53.8,376.7h0.8v0.8h-0.8zM68.1,384.1h0.8v0.8h-0.8zM63.0,378.3h0.8v0.8h-0.8zM54.1,374.9h0.8v0.8h-0.8zM60.8,386.8h0.8v0.8h-0.8zM42.2,384.1h0.8v0.8h-0.8zM59.7,374.6h0.8v0.8h-0.8zM42.7,379.5h0.8v0.8h-0.8zM51.0,377.1h0.8v0.8h-0.8zM55.6,384.2h0.8v0.8h-0.8zM59.8,385.8h0.8v0.8h-0.8zM65.8,387.3h0.8v0.8h-0.8zM46.3,381.7h0.8v0.8h-0.8zM48.0,378.9h0.8v0.8h-0.8zM54.8,383.1h0.8v0.8h-0.8zM58.8,375.5h0.8v0.8h-0.8zM46.8,383.8h0.8v0.8h-0.8zM54.0,381.8h0.8v0.8h-0.8zM54.9,379.6h0.8v0.8h-0.8zM60.2,384.2h0.8v0.8h-0.8zM54.8,380.0h0.8v0.8h-0.8zM54.2,370.7h0.8v0.8h-0.8zM48.6,383.9h0.8v0.8h-0.8zM44.9,385.0h0.8v0.8h-0.8zM56.4,376.7h0.8v0.8h-0.8zM53.6,381.8h0.8v0.8h-0.8zM58.6,385.5h0.8v0.8h-0.8zM55.1,379.2h0.8v0.8h-0.8zM54.4,382.9h0.8v0.8h-0.8zM60.5,383.9h0.8v0.8h-0.8zM50.4,377.4h0.8v0.8h-0.8zM52.8,379.9h0.8v0.8h-0.8zM47.7,383.3h0.8v0.8h-0.8zM52.0,383.9h0.8v0.8h-0.8zM59.0,380.8h0.8v0.8h-0.8zM71.5,380.0h0.8v0.8h-0.8zM63.0,382.8h0.8v0.8h-0.8zM63.1,371.4h0.8v0.8h-0.8zM50.2,384.7h0.8v0.8h-0.8zM59.6,393.3h0.8v0.8h-0.8zM57.6,388.7h0.8v0.8h-0.8zM60.7,386.9h0.8v0.8h-0.8zM58.9,382.0h0.8v0.8h-0.8zM58.9,377.8h0.8v0.8h-0.8zM63.6,377.6h0.8v0.8h-0.8zM57.1,392.6h0.8v0.8h-0.8zM53.8,383.3h0.8v0.8h-0.8zM63.4,382.4h0.8v0.8h-0.8zM49.8,384.8h0.8v0.8h-0.8zM59.4,385.9h0.8v0.8h-0.8zM50.0,391.6h0.8v0.8h-0.8zM66.9,382.0h0.8v0.8h-0.8zM57.2,380.9h0.8v0.8h-0.8zM65.2,378.9h0.8v0.8h-0.8zM60.1,380.4h0.8v0.8h-0.8zM50.6,386.8h0.8v0.8h-0.8zM64.6,382.1h0.8v0.8h-0.8zM50.7,387.2h0.8v0.8h-0.8zM55.0,384.5h0.8v0.8h-0.8zM65.9,387.2h0.8v0.8h-0.8zM51.8,393.9h0.8v0.8h-0.8zM55.4,386.6h0.8v0.8h-0.8zM50.9,383.3h0.8v0.8h-0.8zM43.2,392.4h0.8v0.8h-0.8zM64.9,376.6h0.8v0.8h-0.8zM44.9,376.7h0.8v0.8h-0.8zM63.5,380.1h0.8v0.8h-0.8zM55.0,381.7h0.8v0.8h-0.8zM54.5,378.2h0.8v0.8h-0.8zM55.5,376.5h0.8v0.8h-0.8zM54.9,384.5h0.8v0.8h-0.8zM58.6,381.7h0.8v0.8h-0.8zM49.1,384.4h0.8v0.8h-0.8zM52.0,390.6h0.8v0.8h-0.8zM60.7,382.0h0.8v0.8h-0.8zM52.1,380.2h0.8v0.8h-0.8zM48.9,382.1h0.8v0.8h-0.8zM57.4,385.2h0.8v0.8h-0.8zM59.3,392.3h0.8v0.8h-0.8zM50.5,383.6h0.8v0.8h-0.8zM74.8,372.6h0.8v0.8h-0.8zM51.8,384.2h0.8v0.8h-0.8zM56.4,384.8h0.8v0.8h-0.8zM53.7,384.9h0.8v0.8h-0.8zM55.7,386.5h0.8v0.8h-0.8zM42.2,380.3h0.8v0.8h-0.8zM55.4,378.3h0.8v0.8h-0.8zM48.1,386.7h0.8v0.8h-0.8zM50.9,386.4h0.8v0.8h-0.8zM60.5,383.9h0.8v0.8h-0.8zM58.9,382.2h0.8v0.8h-0.8zM45.6,383.9h0.8v0.8h-0.8zM58.5,380.3h0.8v0.8h-0.8zM54.7,386.6h0.8v0.8h-0.8zM49.3,386.6h0.8v0.8h-0.8zM68.3,379.2h0.8v0.8h-0.8zM56.4,382.3h0.8v0.8h-0.8zM66.1,383.4h0.8v0.8h-0.8zM61.6,379.3h0.8v0.8h-0.8zM55.3,383.0h0.8v0.8h-0.8zM43.0,390.9h0.8v0.8h-0.8zM61.6,374.4h0.8v0.8h-0.8zM60.5,381.9h0.8v0.8h-0.8zM58.5,384.4h0.8v0.8h-0.8zM45.0,383.1h0.8v0.8h-0.8zM65.7,379.4h0.8v0.8h-0.8zM48.3,377.5h0.8v0.8h-0.8zM46.9,385.4h0.8v0.8h-0.8zM67.1,383.8h0.8v0.8h-0.8zM57.1,393.1h0.8v0.8h-0.8zM51.8,380.3h0.8v0.8h-0.8zM59.0,385.2h0.8v0.8h-0.8zM48.3,378.4h0.8v0.8h-0.8zM57.4,384.0h0.8v0.8h-0.8zM46.3,383.0h0.8v0.8h-0.8zM51.6,385.5h0.8v0.8h-0.8zM54.6,382.7h0.8v0.8h-0.8zM52.9,388.1h0.8v0.8h-0.8zM65.0,380.4h0.8v0.8h-0.8zM61.2,379.0h0.8v0.8h-0.8zM55.9,386.4h0.8v0.8h-0.8zM65.9,380.3h0.8v0.8h-0.8zM54.9,384.0h0.8v0.8h-0.8zM45.0,384.2h0.8v0.8h-0.8zM50.7,385.2h0.8v0.8h-0.8zM47.5,374.8h0.8v0.8h-0.8zM55.6,384.2h0.8v0.8h-0.8zM51.6,387.5h0.8v0.8h-0.8zM53.5,380.5h0.8v0.8h-0.8zM58.7,375.6h0.8v0.8h-0.8zM50.7,383.4h0.8v0.8h-0.8zM61.3,381.7h0.8v0.8h-0.8zM57.5,379.8h0.8v0.8h-0.8zM57.5,390.5h0.8v0.8h-0.8zM50.6,394.4h0.8v0.8h-0.8zM50.9,383.6h0.8v0.8h-0.8zM56.6,387.6h0.8v0.8h-0.8zM46.8,374.3h0.8v0.8h-0.8zM59.6,386.3h0.8v0.8h-0.8zM59.7,394.7h0.8v0.8h-0.8zM56.8,384.1h0.8v0.8h-0.8zM61.8,384.1h0.8v0.8h-0.8zM66.9,376.2h0.8v0.8h-0.8zM52.8,367.6h0.8v0.8h-0.8zM61.0,380.8h0.8v0.8h-0.8zM61.8,392.3h0.8v0.8h-0.8zM55.3,381.9h0.8v0.8h-0.8zM51.9,379.6h0.8v0.8h-0.8zM51.0,386.4h0.8v0.8h-0.8zM55.6,383.3h0.8v0.8h-0.8zM54.2,387.4h0.8v0.8h-0.8zM58.8,382.1h0.8v0.8h-0.8zM60.0,381.9h0.8v0.8h-0.8zM47.4,390.5h0.8v0.8h-0.8zM58.6,378.4h0.8v0.8h-0.8zM62.9,383.9h0.8v0.8h-0.8zM44.5,391.5h0.8v0.8h-0.8zM57.7,386.9h0.8v0.8h-0.8zM56.7,382.2h0.8v0.8h-0.8zM44.6,388.6h0.8v0.8h-0.8zM55.6,381.7h0.8v0.8h-0.8zM57.8,383.2h0.8v0.8h-0.8zM60.1,380.9h0.8v0.8h-0.8zM55.1,373.3h0.8v0.8h-0.8zM52.4,386.4h0.8v0.8h-0.8zM64.7,380.5h0.8v0.8h-0.8zM54.5,390.4h0.8v0.8h-0.8zM53.1,386.6h0.8v0.8h-0.8zM67.0,382.1h0.8v0.8h-0.8zM63.9,379.0h0.8v0.8h-0.8zM56.8,382.6h0.8v0.8h-0.8zM56.2,388.1h0.8v0.8h-0.8zM72.0,378.4h0.8v0.8h-0.8zM51.4,385.7h0.8v0.8h-0.8zM48.0,386.1h0.8v0.8h-0.8zM59.3,381.4h0.8v0.8h-0.8zM59.1,375.6h0.8v0.8h-0.8zM60.6,375.5h0.8v0.8h-0.8zM50.5,381.0h0.8v0.8h-0.8zM52.6,387.3h0.8v0.8h-0.8zM55.9,381.2h0.8v0.8h-0.8zM59.1,389.9h0.8v0.8h-0.8zM55.4,384.7h0.8v0.8h-0.8zM64.0,383.4h0.8v0.8h-0.8zM46.5,395.3h0.8v0.8h-0.8zM70.7,372.4h0.8v0.8h-0.8zM55.1,385.0h0.8v0.8h-0.8zM62.1,385.4h0.8v0.8h-0.8zM53.5,378.4h0.8v0.8h-0.8zM56.1,387.7h0.8v0.8h-0.8zM47.8,379.1h0.8v0.8h-0.8zM55.2,374.2h0.8v0.8h-0.8zM53.6,381.2h0.8v0.8h-0.8zM58.5,379.5h0.8v0.8h-0.8zM49.2,381.9h0.8v0.8h-0.8zM55.0,380.1h0.8v0.8h-0.8zM55.5,386.5h0.8v0.8h-0.8zM63.6,390.0h0.8v0.8h-0.8zM49.9,381.7h0.8v0.8h-0.8zM38.1,393.5h0.8v0.8h-0.8zM50.3,383.4h0.8v0.8h-0.8zM59.0,376.5h0.8v0.8h-0.8zM58.6,382.6h0.8v0.8h-0.8zM42.7,385.7h0.8v0.8h-0.8zM63.7,373.7h0.8v0.8h-0.8zM61.0,383.5h0.8v0.8h-0.8zM58.7,384.7h0.8v0.8h-0.8zM64.4,381.1h0.8v0.8h-0.8zM61.4,380.6h0.8v0.8h-0.8zM60.4,378.8h0.8v0.8h-0.8zM54.6,391.0h0.8v0.8h-0.8zM58.5,382.0h0.8v0.8h-0.8zM47.4,380.2h0.8v0.8h-0.8zM56.7,387.2h0.8v0.8h-0.8zM58.3,385.2h0.8v0.8h-0.8zM55.1,389.3h0.8v0.8h-0.8zM52.7,380.8h0.8v0.8h-0.8zM61.5,382.7h0.8v0.8h-0.8zM53.4,380.6h0.8v0.8h-0.8zM53.6,386.1h0.8v0.8h-0.8zM57.8,377.3h0.8v0.8h-0.8zM58.3,383.6h0.8v0.8h-0.8zM48.4,387.3h0.8v0.8h-0.8zM53.4,381.7h0.8v0.8h-0.8zM60.9,388.5h0.8v0.8h-0.8zM50.6,385.5h0.8v0.8h-0.8zM49.3,394.2h0.8v0.8h-0.8zM51.9,388.9h0.8v0.8h-0.8zM50.9,387.2h0.8v0.8h-0.8zM70.8,369.9h0.8v0.8h-0.8zM52.4,385.6h0.8v0.8h-0.8zM54.7,380.1h0.8v0.8h-0.8zM70.3,381.9h0.8v0.8h-0.8zM44.0,388.1h0.8v0.8h-0.8zM43.4,389.5h0.8v0.8h-0.8zM51.4,384.1h0.8v0.8h-0.8zM64.1,382.7h0.8v0.8h-0.8zM45.7,376.3h0.8v0.8h-0.8zM63.6,385.6h0.8v0.8h-0.8zM49.7,387.6h0.8v0.8h-0.8zM58.8,385.7h0.8v0.8h-0.8zM39.7,383.2h0.8v0.8h-0.8zM61.6,385.8h0.8v0.8h-0.8zM61.5,371.2h0.8v0.8h-0.8zM56.5,385.2h0.8v0.8h-0.8zM73.1,376.9h0.8v0.8h-0.8zM53.1,383.4h0.8v0.8h-0.8zM61.5,380.4h0.8v0.8h-0.8zM63.3,378.7h0.8v0.8h-0.8zM57.2,380.5h0.8v0.8h-0.8zM56.5,379.8h0.8v0.8h-0.8zM44.3,389.2h0.8v0.8h-0.8zM57.5,380.3h0.8v0.8h-0.8zM56.8,387.4h0.8v0.8h-0.8zM48.6,383.2h0.8v0.8h-0.8zM59.1,385.1h0.8v0.8h-0.8zM53.0,373.7h0.8v0.8h-0.8zM64.0,383.7h0.8v0.8h-0.8zM55.5,381.8h0.8v0.8h-0.8zM57.2,380.9h0.8v0.8h-0.8zM48.3,380.4h0.8v0.8h-0.8zM51.2,380.7h0.8v0.8h-0.8zM47.3,386.8h0.8v0.8h-0.8zM46.3,387.0h0.8v0.8h-0.8zM48.3,385.4h0.8v0.8h-0.8zM64.9,383.0h0.8v0.8h-0.8zM50.3,383.8h0.8v0.8h-0.8zM56.4,375.0h0.8v0.8h-0.8zM51.2,384.2h0.8v0.8h-0.8zM52.1,383.7h0.8v0.8h-0.8zM60.5,386.1h0.8v0.8h-0.8zM61.7,385.1h0.8v0.8h-0.8zM53.4,383.2h0.8v0.8h-0.8zM53.5,381.8h0.8v0.8h-0.8zM54.1,375.3h0.8v0.8h-0.8zM53.1,383.2h0.8v0.8h-0.8zM48.6,383.6h0.8v0.8h-0.8zM59.0,381.9h0.8v0.8h-0.8zM69.8,369.7h0.8v0.8h-0.8zM53.9,374.9h0.8v0.8h-0.8zM62.2,394.5h0.8v0.8h-0.8zM38.0,385.4h0.8v0.8h-0.8zM59.0,381.3h0.8v0.8h-0.8zM59.2,372.4h0.8v0.8h-0.8zM61.3,384.2h0.8v0.8h-0.8zM55.5,380.4h0.8v0.8h-0.8zM59.8,380.4h0.8v0.8h-0.8zM56.9,380.6h0.8v0.8h-0.8zM39.8,384.5h0.8v0.8h-0.8zM56.8,386.4h0.8v0.8h-0.8zM49.3,383.5h0.8v0.8h-0.8zM59.7,383.3h0.8v0.8h-0.8zM64.0,391.3h0.8v0.8h-0.8zM49.1,374.9h0.8v0.8h-0.8zM61.3,389.5h0.8v0.8h-0.8zM61.8,386.1h0.8v0.8h-0.8zM51.1,380.2h0.8v0.8h-0.8zM61.5,378.3h0.8v0.8h-0.8zM42.8,379.8h0.8v0.8h-0.8zM72.7,390.1h0.8v0.8h-0.8zM50.6,380.2h0.8v0.8h-0.8zM57.0,379.5h0.8v0.8h-0.8zM64.5,381.8h0.8v0.8h-0.8zM47.8,389.8h0.8v0.8h-0.8zM51.3,384.5h0.8v0.8h-0.8zM55.3,381.6h0.8v0.8h-0.8zM57.6,379.7h0.8v0.8h-0.8zM42.6,374.2h0.8v0.8h-0.8zM46.6,380.5h0.8v0.8h-0.8zM55.2,383.3h0.8v0.8h-0.8zM59.2,383.2h0.8v0.8h-0.8zM49.9,380.4h0.8v0.8h-0.8zM40.7,383.8h0.8v0.8h-0.8zM58.7,385.1h0.8v0.8h-0.8zM54.5,382.3h0.8v0.8h-0.8zM61.9,382.5h0.8v0.8h-0.8zM60.5,385.2h0.8v0.8h-0.8zM56.9,388.9h0.8v0.8h-0.8zM51.4,381.8h0.8v0.8h-0.8zM49.8,380.0h0.8v0.8h-0.8zM66.2,390.0h0.8v0.8h-0.8zM55.5,385.6h0.8v0.8h-0.8zM63.5,385.9h0.8v0.8h-0.8zM63.7,376.4h0.8v0.8h-0.8zM50.9,385.6h0.8v0.8h-0.8zM65.3,382.5h0.8v0.8h-0.8zM49.4,382.0h0.8v0.8h-0.8zM50.8,379.6h0.8v0.8h-0.8zM65.8,379.2h0.8v0.8h-0.8zM55.5,392.9h0.8v0.8h-0.8zM63.6,383.8h0.8v0.8h-0.8zM51.1,385.4h0.8v0.8h-0.8zM66.6,384.8h0.8v0.8h-0.8zM64.1,382.6h0.8v0.8h-0.8zM59.0,381.8h0.8v0.8h-0.8zM58.3,388.7h0.8v0.8h-0.8zM45.4,383.8h0.8v0.8h-0.8zM57.0,380.3h0.8v0.8h-0.8zM53.2,386.9h0.8v0.8h-0.8zM69.3,384.5h0.8v0.8h-0.8zM57.6,375.7h0.8v0.8h-0.8zM68.8,382.1h0.8v0.8h-0.8zM55.1,378.0h0.8v0.8h-0.8zM55.0,378.1h0.8v0.8h-0.8zM55.9,385.1h0.8v0.8h-0.8zM55.6,384.3h0.8v0.8h-0.8zM49.5,390.2h0.8v0.8h-0.8zM50.8,375.2h0.8v0.8h-0.8zM54.1,379.7h0.8v0.8h-0.8zM48.4,382.1h0.8v0.8h-0.8zM57.4,377.5h0.8v0.8h-0.8zM54.4,389.7h0.8v0.8h-0.8zM60.1,381.9h0.8v0.8h-0.8zM56.3,382.4h0.8v0.8h-0.8zM55.0,386.4h0.8v0.8h-0.8zM54.7,372.1h0.8v0.8h-0.8zM55.2,379.0h0.8v0.8h-0.8zM59.9,379.8h0.8v0.8h-0.8zM56.4,392.9h0.8v0.8h-0.8zM48.1,378.6h0.8v0.8h-0.8zM45.6,373.1h0.8v0.8h-0.8zM42.3,386.0h0.8v0.8h-0.8zM50.9,375.0h0.8v0.8h-0.8zM45.1,386.9h0.8v0.8h-0.8zM50.0,381.9h0.8v0.8h-0.8zM57.7,389.0h0.8v0.8h-0.8zM68.8,386.4h0.8v0.8h-0.8zM56.4,383.8h0.8v0.8h-0.8zM67.9,388.3h0.8v0.8h-0.8zM53.2,385.4h0.8v0.8h-0.8zM57.4,383.1h0.8v0.8h-0.8zM51.9,377.3h0.8v0.8h-0.8zM51.7,376.4h0.8v0.8h-0.8zM63.9,384.7h0.8v0.8h-0.8zM47.0,390.3h0.8v0.8h-0.8zM61.6,373.7h0.8v0.8h-0.8zM68.2,385.5h0.8v0.8h-0.8zM69.7,376.0h0.8v0.8h-0.8zM59.1,384.6h0.8v0.8h-0.8zM56.8,383.7h0.8v0.8h-0.8zM62.7,375.5h0.8v0.8h-0.8zM46.7,377.5h0.8v0.8h-0.8zM51.5,380.7h0.8v0.8h-0.8zM57.9,384.0h0.8v0.8h-0.8zM55.6,379.9h0.8v0.8h-0.8zM52.3,387.7h0.8v0.8h-0.8zM60.7,383.0h0.8v0.8h-0.8zM53.1,390.4h0.8v0.8h-0.8zM51.2,386.4h0.8v0.8h-0.8zM63.4,381.0h0.8v0.8h-0.8zM61.1,377.4h0.8v0.8h-0.8zM62.4,383.3h0.8v0.8h-0.8zM44.4,387.2h0.8v0.8h-0.8zM49.2,389.5h0.8v0.8h-0.8zM50.7,382.8h0.8v0.8h-0.8zM57.3,381.3h0.8v0.8h-0.8zM57.2,380.3h0.8v0.8h-0.8zM60.0,382.6h0.8v0.8h-0.8zM56.8,370.3h0.8v0.8h-0.8zM63.4,382.4h0.8v0.8h-0.8zM43.0,384.7h0.8v0.8h-0.8zM58.6,387.6h0.8v0.8h-0.8zM47.9,390.9h0.8v0.8h-0.8zM54.3,394.1h0.8v0.8h-0.8zM54.4,386.3h0.8v0.8h-0.8zM52.8,378.2h0.8v0.8h-0.8zM63.0,386.4h0.8v0.8h-0.8zM66.1,385.9h0.8v0.8h-0.8zM51.4,375.9h0.8v0.8h-0.8zM50.9,380.4h0.8v0.8h-0.8zM49.7,386.3h0.8v0.8h-0.8zM57.6,381.6h0.8v0.8h-0.8zM56.6,382.3h0.8v0.8h-0.8zM56.8,386.3h0.8v0.8h-0.8zM62.0,379.3h0.8v0.8h-0.8zM44.9,390.6h0.8v0.8h-0.8zM56.2,388.0h0.8v0.8h-0.8zM44.0,382.7h0.8v0.8h-0.8zM55.6,376.4h0.8v0.8h-0.8zM51.8,386.7h0.8v0.8h-0.8zM62.9,389.6h0.8v0.8h-0.8zM49.4,377.2h0.8v0.8h-0.8zM59.0,387.0h0.8v0.8h-0.8zM56.7,377.0h0.8v0.8h-0.8zM60.8,386.1h0.8v0.8h-0.8zM59.2,380.4h0.8v0.8h-0.8zM57.5,386.5h0.8v0.8h-0.8zM51.5,375.0h0.8v0.8h-0.8zM57.7,385.0h0.8v0.8h-0.8zM55.5,387.1h0.8v0.8h-0.8zM51.3,383.1h0.8v0.8h-0.8zM53.3,385.9h0.8v0.8h-0.8zM66.4,380.8h0.8v0.8h-0.8zM69.6,388.6h0.8v0.8h-0.8zM60.9,385.2h0.8v0.8h-0.8zM67.7,381.0h0.8v0.8h-0.8zM54.6,378.3h0.8v0.8h-0.8zM58.7,388.9h0.8v0.8h-0.8zM59.1,384.6h0.8v0.8h-0.8zM54.0,384.0h0.8v0.8h-0.8zM45.5,388.8h0.8v0.8h-0.8zM52.5,378.3h0.8v0.8h-0.8zM50.2,379.8h0.8v0.8h-0.8zM61.3,387.3h0.8v0.8h-0.8zM45.9,388.2h0.8v0.8h-0.8zM61.5,379.8h0.8v0.8h-0.8zM45.1,380.7h0.8v0.8h-0.8zM51.0,385.1h0.8v0.8h-0.8zM52.9,374.0h0.8v0.8h-0.8zM57.0,375.9h0.8v0.8h-0.8zM61.7,376.9h0.8v0.8h-0.8zM50.6,379.6h0.8v0.8h-0.8zM51.6,389.4h0.8v0.8h-0.8zM61.3,385.2h0.8v0.8h-0.8zM57.6,375.8h0.8v0.8h-0.8zM51.8,380.9h0.8v0.8h-0.8zM48.6,386.1h0.8v0.8h-0.8zM50.2,380.3h0.8v0.8h-0.8zM48.1,374.4h0.8v0.8h-0.8zM59.5,388.7h0.8v0.8h-0.8zM56.6,378.5h0.8v0.8h-0.8zM36.6,385.7h0.8v0.8h-0.8zM63.8,383.6h0.8v0.8h-0.8zM61.8,389.2h0.8v0.8h-0.8zM63.2,380.3h0.8v0.8h-0.8zM62.7,385.9h0.8v0.8h-0.8zM44.7,382.3h0.8v0.8h-0.8zM45.5,383.5h0.8v0.8h-0.8zM59.4,377.8h0.8v0.8h-0.8zM41.1,390.4h0.8v0.8h-0.8zM58.0,389.5h0.8v0.8h-0.8zM46.2,388.8h0.8v0.8h-0.8zM69.8,390.8h0.8v0.8h-0.8zM53.9,384.4h0.8v0.8h-0.8zM54.3,387.7h0.8v0.8h-0.8zM62.6,382.7h0.8v0.8h-0.8zM45.9,387.4h0.8v0.8h-0.8zM52.1,386.3h0.8v0.8h-0.8zM57.2,390.3h0.8v0.8h-0.8zM63.3,380.2h0.8v0.8h-0.8zM57.8,390.9h0.8v0.8h-0.8zM51.6,385.4h0.8v0.8h-0.8zM63.6,388.0h0.8v0.8h-0.8zM59.0,376.7h0.8v0.8h-0.8zM46.6,385.1h0.8v0.8h-0.8zM58.1,394.4h0.8v0.8h-0.8zM49.4,388.9h0.8v0.8h-0.8zM60.7,374.9h0.8v0.8h-0.8zM49.7,384.4h0.8v0.8h-0.8zM51.9,382.7h0.8v0.8h-0.8zM58.6,379.0h0.8v0.8h-0.8zM58.6,379.8h0.8v0.8h-0.8zM51.6,385.9h0.8v0.8h-0.8zM51.4,384.8h0.8v0.8h-0.8zM66.5,382.1h0.8v0.8h-0.8zM54.4,386.5h0.8v0.8h-0.8zM52.8,388.3h0.8v0.8h-0.8zM46.5,386.8h0.8v0.8h-0.8zM51.8,379.8h0.8v0.8h-0.8zM67.7,377.9h0.8v0.8h-0.8zM67.6,384.8h0.8v0.8h-0.8zM65.5,377.6h0.8v0.8h-0.8zM63.7,388.9h0.8v0.8h-0.8zM54.6,382.5h0.8v0.8h-0.8zM72.4,382.2h0.8v0.8h-0.8zM52.4,380.5h0.8v0.8h-0.8zM58.5,384.3h0.8v0.8h-0.8zM56.6,390.8h0.8v0.8h-0.8zM53.1,385.4h0.8v0.8h-0.8zM65.5,377.5h0.8v0.8h-0.8zM62.6,390.7h0.8v0.8h-0.8zM46.0,379.0h0.8v0.8h-0.8zM48.2,375.3h0.8v0.8h-0.8zM58.5,374.3h0.8v0.8h-0.8zM58.8,389.4h0.8v0.8h-0.8zM44.2,382.7h0.8v0.8h-0.8zM42.1,388.0h0.8v0.8h-0.8zM50.3,382.4h0.8v0.8h-0.8zM55.7,385.5h0.8v0.8h-0.8zM53.0,383.4h0.8v0.8h-0.8zM51.6,384.0h0.8v0.8h-0.8zM47.2,384.2h0.8v0.8h-0.8zM42.0,382.2h0.8v0.8h-0.8zM68.7,382.1h0.8v0.8h-0.8zM46.6,385.1h0.8v0.8h-0.8zM48.6,376.2h0.8v0.8h-0.8zM50.3,386.9h0.8v0.8h-0.8zM58.0,382.3h0.8v0.8h-0.8zM48.9,378.8h0.8v0.8h-0.8zM64.7,383.2h0.8v0.8h-0.8zM48.8,374.1h0.8v0.8h-0.8zM45.9,395.3h0.8v0.8h-0.8zM47.4,383.5h0.8v0.8h-0.8zM56.8,382.2h0.8v0.8h-0.8zM53.4,377.0h0.8v0.8h-0.8zM48.1,391.5h0.8v0.8h-0.8zM50.1,387.4h0.8v0.8h-0.8zM43.6,383.0h0.8v0.8h-0.8zM57.2,387.6h0.8v0.8h-0.8zM47.6,386.6h0.8v0.8h-0.8zM58.1,379.4h0.8v0.8h-0.8zM58.7,378.6h0.8v0.8h-0.8zM49.8,383.5h0.8v0.8h-0.8zM36.5,384.4h0.8v0.8h-0.8zM48.4,377.1h0.8v0.8h-0.8zM52.4,386.8h0.8v0.8h-0.8zM52.6,389.1h0.8v0.8h-0.8zM47.3,377.9h0.8v0.8h-0.8zM66.1,383.8h0.8v0.8h-0.8zM61.9,378.6h0.8v0.8h-0.8zM61.0,383.7h0.8v0.8h-0.8zM59.9,382.7h0.8v0.8h-0.8zM63.7,379.3h0.8v0.8h-0.8zM48.7,377.0h0.8v0.8h-0.8zM63.4,378.9h0.8v0.8h-0.8zM48.1,379.5h0.8v0.8h-0.8zM52.3,377.6h0.8v0.8h-0.8zM53.4,380.4h0.8v0.8h-0.8zM51.5,379.1h0.8v0.8h-0.8zM55.6,380.9h0.8v0.8h-0.8zM56.2,384.1h0.8v0.8h-0.8zM57.7,372.8h0.8v0.8h-0.8zM51.7,379.8h0.8v0.8h-0.8zM60.7,375.3h0.8v0.8h-0.8zM50.4,382.2h0.8v0.8h-0.8zM53.0,387.8h0.8v0.8h-0.8zM52.3,387.8h0.8v0.8h-0.8zM45.2,375.8h0.8v0.8h-0.8zM63.8,384.2h0.8v0.8h-0.8zM58.8,383.3h0.8v0.8h-0.8zM58.7,377.2h0.8v0.8h-0.8zM62.0,380.0h0.8v0.8h-0.8zM62.2,382.8h0.8v0.8h-0.8zM41.7,378.5h0.8v0.8h-0.8zM63.2,381.6h0.8v0.8h-0.8zM52.6,384.4h0.8v0.8h-0.8zM52.4,380.9h0.8v0.8h-0.8zM56.1,383.6h0.8v0.8h-0.8zM65.9,382.2h0.8v0.8h-0.8zM68.4,390.0h0.8v0.8h-0.8zM67.3,386.7h0.8v0.8h-0.8zM56.3,383.6h0.8v0.8h-0.8zM54.4,379.8h0.8v0.8h-0.8zM54.9,380.2h0.8v0.8h-0.8zM66.8,384.4h0.8v0.8h-0.8zM52.3,374.6h0.8v0.8h-0.8zM55.0,381.2h0.8v0.8h-0.8zM47.8,378.6h0.8v0.8h-0.8zM39.8,387.2h0.8v0.8h-0.8zM54.9,394.9h0.8v0.8h-0.8zM55.2,382.4h0.8v0.8h-0.8zM65.4,382.7h0.8v0.8h-0.8zM56.5,381.2h0.8v0.8h-0.8zM51.2,390.3h0.8v0.8h-0.8zM62.3,390.2h0.8v0.8h-0.8zM52.9,383.4h0.8v0.8h-0.8zM49.3,388.1h0.8v0.8h-0.8zM45.7,386.6h0.8v0.8h-0.8zM63.0,388.8h0.8v0.8h-0.8zM48.8,388.7h0.8v0.8h-0.8zM50.4,380.1h0.8v0.8h-0.8zM46.2,389.3h0.8v0.8h-0.8zM66.8,379.2h0.8v0.8h-0.8zM50.1,382.0h0.8v0.8h-0.8zM72.8,385.9h0.8v0.8h-0.8zM51.6,375.2h0.8v0.8h-0.8zM50.7,389.0h0.8v0.8h-0.8zM68.3,380.5h0.8v0.8h-0.8zM50.6,381.2h0.8v0.8h-0.8zM42.3,388.5h0.8v0.8h-0.8zM47.8,388.7h0.8v0.8h-0.8zM43.5,378.4h0.8v0.8h-0.8zM57.4,379.4h0.8v0.8h-0.8zM60.8,382.6h0.8v0.8h-0.8zM47.2,386.7h0.8v0.8h-0.8zM61.2,373.7h0.8v0.8h-0.8zM68.0,384.1h0.8v0.8h-0.8zM60.6,374.0h0.8v0.8h-0.8zM50.4,382.0h0.8v0.8h-0.8zM62.8,375.6h0.8v0.8h-0.8zM49.2,374.4h0.8v0.8h-0.8zM53.7,384.8h0.8v0.8h-0.8zM43.7,381.5h0.8v0.8h-0.8zM58.9,390.0h0.8v0.8h-0.8zM60.0,381.2h0.8v0.8h-0.8zM47.2,379.6h0.8v0.8h-0.8zM50.8,384.2h0.8v0.8h-0.8zM55.0,390.7h0.8v0.8h-0.8zM57.4,378.0h0.8v0.8h-0.8zM66.1,386.3h0.8v0.8h-0.8zM56.1,379.7h0.8v0.8h-0.8zM42.4,379.7h0.8v0.8h-0.8zM61.7,378.8h0.8v0.8h-0.8zM46.2,384.9h0.8v0.8h-0.8zM57.1,385.7h0.8v0.8h-0.8zM59.9,389.0h0.8v0.8h-0.8zM49.5,388.1h0.8v0.8h-0.8zM48.5,386.9h0.8v0.8h-0.8zM56.6,384.0h0.8v0.8h-0.8zM62.1,382.3h0.8v0.8h-0.8zM63.1,386.3h0.8v0.8h-0.8zM56.3,380.4h0.8v0.8h-0.8zM50.1,381.2h0.8v0.8h-0.8zM54.0,383.1h0.8v0.8h-0.8zM76.1,383.9h0.8v0.8h-0.8zM60.7,378.6h0.8v0.8h-0.8zM50.4,382.1h0.8v0.8h-0.8zM56.7,378.2h0.8v0.8h-0.8zM66.6,379.4h0.8v0.8h-0.8zM62.9,371.6h0.8v0.8h-0.8zM55.3,384.3h0.8v0.8h-0.8zM56.7,385.7h0.8v0.8h-0.8zM57.3,383.6h0.8v0.8h-0.8zM42.2,381.1h0.8v0.8h-0.8zM39.1,387.6h0.8v0.8h-0.8zM57.5,382.0h0.8v0.8h-0.8zM49.7,381.0h0.8v0.8h-0.8zM68.2,389.7h0.8v0.8h-0.8zM55.0,389.0h0.8v0.8h-0.8zM44.3,375.3h0.8v0.8h-0.8zM52.0,379.4h0.8v0.8h-0.8zM51.5,384.3h0.8v0.8h-0.8zM76.4,377.9h0.8v0.8h-0.8zM55.7,384.3h0.8v0.8h-0.8zM55.1,387.3h0.8v0.8h-0.8zM67.7,376.1h0.8v0.8h-0.8zM56.5,381.7h0.8v0.8h-0.8zM57.8,375.8h0.8v0.8h-0.8zM43.2,373.7h0.8v0.8h-0.8zM59.0,383.6h0.8v0.8h-0.8zM55.9,372.2h0.8v0.8h-0.8zM52.8,379.9h0.8v0.8h-0.8zM45.6,379.9h0.8v0.8h-0.8zM60.2,385.1h0.8v0.8h-0.8zM55.2,385.4h0.8v0.8h-0.8zM51.2,383.8h0.8v0.8h-0.8zM55.7,385.6h0.8v0.8h-0.8zM54.9,382.5h0.8v0.8h-0.8zM54.4,380.2h0.8v0.8h-0.8zM70.9,383.9h0.8v0.8h-0.8zM58.3,393.2h0.8v0.8h-0.8zM65.1,375.0h0.8v0.8h-0.8zM60.2,386.4h0.8v0.8h-0.8zM68.5,387.8h0.8v0.8h-0.8zM60.7,377.1h0.8v0.8h-0.8zM49.3,384.9h0.8v0.8h-0.8zM58.9,378.0h0.8v0.8h-0.8zM52.7,381.5h0.8v0.8h-0.8zM55.8,384.6h0.8v0.8h-0.8zM53.4,377.6h0.8v0.8h-0.8zM64.0,389.5h0.8v0.8h-0.8zM54.6,387.8h0.8v0.8h-0.8zM58.5,385.8h0.8v0.8h-0.8zM58.7,379.2h0.8v0.8h-0.8zM59.4,387.3h0.8v0.8h-0.8zM49.2,392.7h0.8v0.8h-0.8zM69.9,389.9h0.8v0.8h-0.8zM69.2,385.1h0.8v0.8h-0.8zM53.0,380.5h0.8v0.8h-0.8zM49.7,384.2h0.8v0.8h-0.8zM55.1,386.1h0.8v0.8h-0.8zM41.4,395.0h0.8v0.8h-0.8zM71.2,381.4h0.8v0.8h-0.8zM60.1,384.8h0.8v0.8h-0.8zM57.3,381.9h0.8v0.8h-0.8zM54.5,379.4h0.8v0.8h-0.8zM56.6,382.8h0.8v0.8h-0.8zM57.6,378.9h0.8v0.8h-0.8zM55.6,383.2h0.8v0.8h-0.8zM59.6,377.8h0.8v0.8h-0.8zM58.3,387.3h0.8v0.8h-0.8zM59.5,381.0h0.8v0.8h-0.8zM52.0,382.3h0.8v0.8h-0.8zM60.4,389.7h0.8v0.8h-0.8zM54.3,380.2h0.8v0.8h-0.8zM58.0,383.7h0.8v0.8h-0.8zM49.1,380.3h0.8v0.8h-0.8zM54.7,386.2h0.8v0.8h-0.8zM47.1,379.2h0.8v0.8h-0.8zM58.8,377.1h0.8v0.8h-0.8zM56.1,384.6h0.8v0.8h-0.8zM54.6,378.5h0.8v0.8h-0.8zM55.0,381.6h0.8v0.8h-0.8zM57.7,379.0h0.8v0.8h-0.8zM62.9,374.6h0.8v0.8h-0.8zM54.1,383.2h0.8v0.8h-0.8zM62.0,379.6h0.8v0.8h-0.8zM59.2,380.1h0.8v0.8h-0.8zM60.5,390.5h0.8v0.8h-0.8zM52.6,385.4h0.8v0.8h-0.8zM48.9,388.2h0.8v0.8h-0.8zM63.8,382.4h0.8v0.8h-0.8zM47.5,385.7h0.8v0.8h-0.8zM63.3,387.2h0.8v0.8h-0.8zM61.0,374.1h0.8v0.8h-0.8zM50.7,390.0h0.8v0.8h-0.8zM46.9,389.1h0.8v0.8h-0.8zM68.4,385.2h0.8v0.8h-0.8zM63.1,380.8h0.8v0.8h-0.8zM46.9,383.4h0.8v0.8h-0.8zM54.0,383.0h0.8v0.8h-0.8zM60.2,381.9h0.8v0.8h-0.8zM56.7,384.9h0.8v0.8h-0.8zM55.3,391.5h0.8v0.8h-0.8zM58.4,383.1h0.8v0.8h-0.8zM53.9,380.3h0.8v0.8h-0.8zM64.7,382.8h0.8v0.8h-0.8zM47.9,381.2h0.8v0.8h-0.8zM54.4,381.1h0.8v0.8h-0.8zM62.9,377.0h0.8v0.8h-0.8zM58.8,383.4h0.8v0.8h-0.8zM47.2,384.1h0.8v0.8h-0.8zM54.7,385.4h0.8v0.8h-0.8zM52.2,384.8h0.8v0.8h-0.8zM43.8,379.3h0.8v0.8h-0.8zM60.8,387.3h0.8v0.8h-0.8zM55.3,380.3h0.8v0.8h-0.8zM62.9,372.7h0.8v0.8h-0.8zM49.8,386.7h0.8v0.8h-0.8zM59.9,377.9h0.8v0.8h-0.8zM42.3,391.0h0.8v0.8h-0.8zM56.4,378.9h0.8v0.8h-0.8zM55.8,387.1h0.8v0.8h-0.8zM37.4,389.9h0.8v0.8h-0.8zM60.5,373.0h0.8v0.8h-0.8zM60.7,374.4h0.8v0.8h-0.8zM63.3,384.1h0.8v0.8h-0.8zM71.0,378.7h0.8v0.8h-0.8zM55.4,387.8h0.8v0.8h-0.8zM50.9,380.3h0.8v0.8h-0.8zM52.8,383.0h0.8v0.8h-0.8zM47.9,386.0h0.8v0.8h-0.8zM59.1,383.0h0.8v0.8h-0.8zM67.2,380.4h0.8v0.8h-0.8zM64.4,379.7h0.8v0.8h-0.8zM60.6,373.7h0.8v0.8h-0.8zM56.7,382.1h0.8v0.8h-0.8zM51.9,380.6h0.8v0.8h-0.8zM53.0,380.0h0.8v0.8h-0.8zM40.1,381.9h0.8v0.8h-0.8zM51.6,381.0h0.8v0.8h-0.8zM48.0,383.2h0.8v0.8h-0.8zM60.8,381.4h0.8v0.8h-0.8zM52.0,389.6h0.8v0.8h-0.8zM62.2,386.6h0.8v0.8h-0.8zM63.4,380.8h0.8v0.8h-0.8zM54.5,388.2h0.8v0.8h-0.8zM51.5,382.9h0.8v0.8h-0.8zM58.0,384.5h0.8v0.8h-0.8zM53.5,387.7h0.8v0.8h-0.8zM54.1,386.5h0.8v0.8h-0.8zM62.8,385.3h0.8v0.8h-0.8zM60.5,377.2h0.8v0.8h-0.8zM46.3,381.1h0.8v0.8h-0.8zM58.7,389.6h0.8v0.8h-0.8zM46.9,385.3h0.8v0.8h-0.8zM49.4,380.3h0.8v0.8h-0.8zM53.5,386.4h0.8v0.8h-0.8zM56.8,388.3h0.8v0.8h-0.8zM48.5,387.8h0.8v0.8h-0.8zM61.8,382.7h0.8v0.8h-0.8zM58.7,380.1h0.8v0.8h-0.8zM47.8,382.0h0.8v0.8h-0.8zM50.9,396.7h0.8v0.8h-0.8zM52.0,390.9h0.8v0.8h-0.8zM56.8,384.3h0.8v0.8h-0.8zM60.5,379.0h0.8v0.8h-0.8zM61.7,384.1h0.8v0.8h-0.8zM44.8,386.9h0.8v0.8h-0.8zM59.2,384.7h0.8v0.8h-0.8zM66.4,380.1h0.8v0.8h-0.8zM58.9,386.1h0.8v0.8h-0.8zM49.1,389.2h0.8v0.8h-0.8zM45.3,378.1h0.8v0.8h-0.8zM59.0,377.7h0.8v0.8h-0.8zM54.6,375.6h0.8v0.8h-0.8zM55.9,377.8h0.8v0.8h-0.8zM57.7,375.8h0.8v0.8h-0.8zM58.5,381.5h0.8v0.8h-0.8zM55.8,382.7h0.8v0.8h-0.8zM56.3,376.9h0.8v0.8h-0.8zM37.6,385.0h0.8v0.8h-0.8zM48.9,381.6h0.8v0.8h-0.8zM58.3,373.7h0.8v0.8h-0.8zM50.1,380.8h0.8v0.8h-0.8zM48.0,385.3h0.8v0.8h-0.8zM54.4,379.4h0.8v0.8h-0.8zM48.5,387.4h0.8v0.8h-0.8zM50.8,386.2h0.8v0.8h-0.8zM58.5,374.1h0.8v0.8h-0.8zM47.9,383.8h0.8v0.8h-0.8zM57.7,386.4h0.8v0.8h-0.8zM60.9,387.2h0.8v0.8h-0.8zM52.8,382.4h0.8v0.8h-0.8zM60.8,380.6h0.8v0.8h-0.8zM62.7,375.1h0.8v0.8h-0.8zM59.9,381.8h0.8v0.8h-0.8zM41.7,388.9h0.8v0.8h-0.8zM57.5,382.9h0.8v0.8h-0.8zM47.9,381.7h0.8v0.8h-0.8zM65.9,378.2h0.8v0.8h-0.8zM31.3,381.5h0.8v0.8h-0.8zM47.0,383.3h0.8v0.8h-0.8zM52.6,379.2h0.8v0.8h-0.8zM49.5,388.4h0.8v0.8h-0.8zM45.4,393.0h0.8v0.8h-0.8zM51.6,378.4h0.8v0.8h-0.8zM60.8,385.1h0.8v0.8h-0.8zM48.1,387.2h0.8v0.8h-0.8zM42.6,380.1h0.8v0.8h-0.8zM63.2,381.1h0.8v0.8h-0.8zM46.3,386.3h0.8v0.8h-0.8zM61.7,382.3h0.8v0.8h-0.8zM42.8,382.7h0.8v0.8h-0.8zM58.3,386.3h0.8v0.8h-0.8zM68.2,380.6h0.8v0.8h-0.8zM52.0,383.2h0.8v0.8h-0.8zM63.7,377.9h0.8v0.8h-0.8zM64.4,369.6h0.8v0.8h-0.8zM60.9,379.4h0.8v0.8h-0.8zM58.6,385.9h0.8v0.8h-0.8zM47.2,383.5h0.8v0.8h-0.8zM57.0,385.6h0.8v0.8h-0.8zM48.9,379.2h0.8v0.8h-0.8zM42.0,396.0h0.8v0.8h-0.8zM54.0,382.2h0.8v0.8h-0.8zM45.0,388.3h0.8v0.8h-0.8zM51.7,390.0h0.8v0.8h-0.8zM61.3,382.6h0.8v0.8h-0.8zM60.4,377.5h0.8v0.8h-0.8zM53.1,380.6h0.8v0.8h-0.8zM46.6,384.0h0.8v0.8h-0.8zM54.4,389.7h0.8v0.8h-0.8zM32.1,382.3h0.8v0.8h-0.8zM49.0,381.6h0.8v0.8h-0.8zM58.3,384.6h0.8v0.8h-0.8zM55.6,380.9h0.8v0.8h-0.8zM58.8,384.4h0.8v0.8h-0.8zM42.6,383.1h0.8v0.8h-0.8zM45.8,378.6h0.8v0.8h-0.8zM56.4,383.2h0.8v0.8h-0.8zM56.2,379.0h0.8v0.8h-0.8zM54.0,379.0h0.8v0.8h-0.8zM58.0,385.9h0.8v0.8h-0.8zM67.6,387.6h0.8v0.8h-0.8zM49.8,381.5h0.8v0.8h-0.8zM48.9,385.1h0.8v0.8h-0.8zM69.1,384.9h0.8v0.8h-0.8zM40.1,378.8h0.8v0.8h-0.8zM46.4,386.3h0.8v0.8h-0.8zM55.4,384.4h0.8v0.8h-0.8zM67.7,378.0h0.8v0.8h-0.8zM49.5,392.6h0.8v0.8h-0.8zM57.7,379.3h0.8v0.8h-0.8zM41.3,377.5h0.8v0.8h-0.8zM38.4,385.1h0.8v0.8h-0.8zM55.7,387.6h0.8v0.8h-0.8zM54.4,380.0h0.8v0.8h-0.8zM50.2,392.3h0.8v0.8h-0.8zM43.1,385.1h0.8v0.8h-0.8zM55.5,385.9h0.8v0.8h-0.8zM52.6,385.6h0.8v0.8h-0.8zM61.0,381.8h0.8v0.8h-0.8zM52.2,382.5h0.8v0.8h-0.8zM48.7,382.8h0.8v0.8h-0.8zM53.3,384.2h0.8v0.8h-0.8zM64.6,388.1h0.8v0.8h-0.8zM52.3,386.1h0.8v0.8h-0.8zM57.4,386.3h0.8v0.8h-0.8zM55.5,384.3h0.8v0.8h-0.8zM52.1,379.8h0.8v0.8h-0.8zM61.4,388.4h0.8v0.8h-0.8zM60.0,384.6h0.8v0.8h-0.8zM57.2,380.8h0.8v0.8h-0.8zM43.0,387.3h0.8v0.8h-0.8zM56.8,380.4h0.8v0.8h-0.8zM48.7,389.6h0.8v0.8h-0.8zM42.8,392.4h0.8v0.8h-0.8zM59.8,393.5h0.8v0.8h-0.8zM50.4,383.5h0.8v0.8h-0.8zM51.9,384.1h0.8v0.8h-0.8zM53.9,379.8h0.8v0.8h-0.8zM62.8,378.7h0.8v0.8h-0.8zM51.8,385.9h0.8v0.8h-0.8zM51.6,381.4h0.8v0.8h-0.8zM57.8,381.1h0.8v0.8h-0.8zM46.7,383.5h0.8v0.8h-0.8zM41.9,395.6h0.8v0.8h-0.8zM30.6,391.3h0.8v0.8h-0.8zM34.6,383.5h0.8v0.8h-0.8zM40.5,387.2h0.8v0.8h-0.8zM55.8,395.9h0.8v0.8h-0.8zM36.5,393.4h0.8v0.8h-0.8zM57.4,390.4h0.8v0.8h-0.8zM35.0,390.9h0.8v0.8h-0.8zM43.3,387.7h0.8v0.8h-0.8zM41.2,389.5h0.8v0.8h-0.8zM59.0,392.2h0.8v0.8h-0.8zM42.1,391.4h0.8v0.8h-0.8zM63.3,380.1h0.8v0.8h-0.8zM63.6,377.7h0.8v0.8h-0.8zM51.6,389.1h0.8v0.8h-0.8zM63.7,387.2h0.8v0.8h-0.8zM38.5,380.9h0.8v0.8h-0.8zM28.7,390.1h0.8v0.8h-0.8zM41.7,381.4h0.8v0.8h-0.8zM51.5,381.1h0.8v0.8h-0.8zM39.1,382.9h0.8v0.8h-0.8zM65.9,394.2h0.8v0.8h-0.8zM42.7,376.3h0.8v0.8h-0.8zM48.2,386.0h0.8v0.8h-0.8zM49.2,388.9h0.8v0.8h-0.8zM40.6,391.0h0.8v0.8h-0.8zM55.4,386.8h0.8v0.8h-0.8zM39.5,382.8h0.8v0.8h-0.8zM53.6,379.1h0.8v0.8h-0.8zM42.6,381.2h0.8v0.8h-0.8zM26.8,389.1h0.8v0.8h-0.8zM44.4,385.8h0.8v0.8h-0.8zM55.9,376.8h0.8v0.8h-0.8zM43.8,387.3h0.8v0.8h-0.8zM55.4,379.2h0.8v0.8h-0.8zM53.9,386.9h0.8v0.8h-0.8zM62.1,392.3h0.8v0.8h-0.8zM51.7,398.2h0.8v0.8h-0.8zM44.7,383.1h0.8v0.8h-0.8zM40.3,380.0h0.8v0.8h-0.8zM44.3,374.5h0.8v0.8h-0.8zM43.6,388.1h0.8v0.8h-0.8zM57.4,383.5h0.8v0.8h-0.8zM62.5,381.7h0.8v0.8h-0.8zM43.0,374.5h0.8v0.8h-0.8zM34.9,380.9h0.8v0.8h-0.8zM63.4,388.6h0.8v0.8h-0.8zM30.9,388.6h0.8v0.8h-0.8zM50.7,384.2h0.8v0.8h-0.8zM45.0,383.8h0.8v0.8h-0.8zM37.9,375.4h0.8v0.8h-0.8zM43.6,393.0h0.8v0.8h-0.8zM62.6,384.0h0.8v0.8h-0.8zM35.3,384.4h0.8v0.8h-0.8zM55.9,387.6h0.8v0.8h-0.8zM37.4,387.7h0.8v0.8h-0.8zM42.1,388.5h0.8v0.8h-0.8zM39.6,377.1h0.8v0.8h-0.8zM45.4,389.9h0.8v0.8h-0.8zM30.8,385.0h0.8v0.8h-0.8zM55.7,383.4h0.8v0.8h-0.8zM36.6,397.2h0.8v0.8h-0.8zM55.1,391.5h0.8v0.8h-0.8zM32.9,394.9h0.8v0.8h-0.8zM53.9,393.2h0.8v0.8h-0.8zM33.1,381.8h0.8v0.8h-0.8zM47.1,374.5h0.8v0.8h-0.8zM52.7,388.8h0.8v0.8h-0.8zM39.1,388.7h0.8v0.8h-0.8zM54.4,387.3h0.8v0.8h-0.8zM51.2,394.2h0.8v0.8h-0.8zM38.7,386.5h0.8v0.8h-0.8zM38.2,391.5h0.8v0.8h-0.8zM39.6,388.3h0.8v0.8h-0.8zM46.4,386.0h0.8v0.8h-0.8zM66.0,385.1h0.8v0.8h-0.8zM62.3,390.3h0.8v0.8h-0.8zM61.1,384.6h0.8v0.8h-0.8zM56.2,389.9h0.8v0.8h-0.8zM37.1,387.1h0.8v0.8h-0.8zM43.1,385.4h0.8v0.8h-0.8zM60.8,381.5h0.8v0.8h-0.8zM39.1,381.9h0.8v0.8h-0.8zM44.9,388.8h0.8v0.8h-0.8zM66.5,387.3h0.8v0.8h-0.8zM50.4,381.4h0.8v0.8h-0.8zM51.9,393.3h0.8v0.8h-0.8zM61.3,374.5h0.8v0.8h-0.8zM55.7,394.6h0.8v0.8h-0.8zM54.9,377.1h0.8v0.8h-0.8zM40.9,388.9h0.8v0.8h-0.8zM49.8,381.0h0.8v0.8h-0.8zM33.7,391.1h0.8v0.8h-0.8zM28.2,393.7h0.8v0.8h-0.8zM44.9,387.3h0.8v0.8h-0.8zM28.2,382.2h0.8v0.8h-0.8zM53.2,377.2h0.8v0.8h-0.8zM70.2,377.6h0.8v0.8h-0.8zM29.6,385.8h0.8v0.8h-0.8zM50.6,389.7h0.8v0.8h-0.8zM40.1,384.4h0.8v0.8h-0.8zM41.8,382.3h0.8v0.8h-0.8zM47.8,386.5h0.8v0.8h-0.8zM36.9,387.0h0.8v0.8h-0.8zM44.5,385.1h0.8v0.8h-0.8zM58.3,375.8h0.8v0.8h-0.8zM47.8,379.5h0.8v0.8h-0.8zM40.8,394.1h0.8v0.8h-0.8zM31.3,385.0h0.8v0.8h-0.8zM37.4,391.0h0.8v0.8h-0.8zM32.6,376.1h0.8v0.8h-0.8zM51.0,383.6h0.8v0.8h-0.8zM40.8,391.7h0.8v0.8h-0.8zM33.8,383.5h0.8v0.8h-0.8zM46.5,387.9h0.8v0.8h-0.8zM38.3,391.4h0.8v0.8h-0.8zM72.3,383.3h0.8v0.8h-0.8zM67.7,373.7h0.8v0.8h-0.8zM62.0,383.6h0.8v0.8h-0.8zM46.4,383.7h0.8v0.8h-0.8zM36.9,378.4h0.8v0.8h-0.8zM39.8,392.9h0.8v0.8h-0.8zM58.7,383.6h0.8v0.8h-0.8zM38.2,381.6h0.8v0.8h-0.8zM29.9,395.8h0.8v0.8h-0.8zM52.9,386.2h0.8v0.8h-0.8zM38.6,379.8h0.8v0.8h-0.8zM60.9,390.0h0.8v0.8h-0.8zM33.0,391.2h0.8v0.8h-0.8zM31.1,389.2h0.8v0.8h-0.8zM32.9,383.2h0.8v0.8h-0.8zM50.8,388.0h0.8v0.8h-0.8zM57.1,380.9h0.8v0.8h-0.8zM64.1,393.2h0.8v0.8h-0.8zM44.6,388.2h0.8v0.8h-0.8zM35.1,384.7h0.8v0.8h-0.8zM28.4,386.1h0.8v0.8h-0.8zM47.1,393.2h0.8v0.8h-0.8zM56.4,390.2h0.8v0.8h-0.8zM40.2,384.3h0.8v0.8h-0.8zM40.5,386.8h0.8v0.8h-0.8zM25.4,382.7h0.8v0.8h-0.8zM45.0,382.7h0.8v0.8h-0.8zM65.2,385.0h0.8v0.8h-0.8zM64.0,392.2h0.8v0.8h-0.8zM38.6,387.8h0.8v0.8h-0.8zM60.7,383.7h0.8v0.8h-0.8zM45.8,382.4h0.8v0.8h-0.8zM45.4,383.6h0.8v0.8h-0.8zM45.7,391.2h0.8v0.8h-0.8zM61.8,386.3h0.8v0.8h-0.8zM47.2,390.4h0.8v0.8h-0.8zM41.1,379.6h0.8v0.8h-0.8zM58.4,380.3h0.8v0.8h-0.8zM56.1,380.1h0.8v0.8h-0.8zM67.2,379.7h0.8v0.8h-0.8zM55.1,394.1h0.8v0.8h-0.8zM32.9,394.0h0.8v0.8h-0.8zM34.6,375.6h0.8v0.8h-0.8zM53.6,389.5h0.8v0.8h-0.8zM42.2,371.3h0.8v0.8h-0.8zM44.0,383.9h0.8v0.8h-0.8zM40.0,383.9h0.8v0.8h-0.8zM66.8,394.3h0.8v0.8h-0.8zM40.2,381.6h0.8v0.8h-0.8zM49.6,391.6h0.8v0.8h-0.8zM53.6,379.0h0.8v0.8h-0.8zM46.7,386.4h0.8v0.8h-0.8zM62.4,392.3h0.8v0.8h-0.8zM51.1,392.5h0.8v0.8h-0.8zM39.8,394.3h0.8v0.8h-0.8zM39.5,387.8h0.8v0.8h-0.8zM56.0,380.4h0.8v0.8h-0.8zM36.1,375.6h0.8v0.8h-0.8zM46.7,385.3h0.8v0.8h-0.8zM40.7,388.4h0.8v0.8h-0.8zM45.8,384.1h0.8v0.8h-0.8zM54.5,395.5h0.8v0.8h-0.8zM39.2,380.3h0.8v0.8h-0.8zM37.3,386.1h0.8v0.8h-0.8zM51.9,380.7h0.8v0.8h-0.8zM57.0,379.8h0.8v0.8h-0.8zM54.9,388.0h0.8v0.8h-0.8zM50.4,397.8h0.8v0.8h-0.8zM41.4,384.6h0.8v0.8h-0.8zM50.6,390.5h0.8v0.8h-0.8zM28.2,387.1h0.8v0.8h-0.8zM35.6,389.1h0.8v0.8h-0.8zM61.5,385.9h0.8v0.8h-0.8zM43.4,386.6h0.8v0.8h-0.8zM51.6,386.5h0.8v0.8h-0.8zM39.8,381.4h0.8v0.8h-0.8zM42.5,392.4h0.8v0.8h-0.8zM43.4,393.2h0.8v0.8h-0.8zM48.1,385.5h0.8v0.8h-0.8zM60.1,378.3h0.8v0.8h-0.8zM32.5,379.4h0.8v0.8h-0.8zM37.9,389.2h0.8v0.8h-0.8zM52.0,374.1h0.8v0.8h-0.8zM62.7,382.2h0.8v0.8h-0.8zM37.5,395.0h0.8v0.8h-0.8zM43.7,378.6h0.8v0.8h-0.8zM36.8,381.5h0.8v0.8h-0.8zM32.3,383.7h0.8v0.8h-0.8zM55.5,387.6h0.8v0.8h-0.8zM27.7,401.3h0.8v0.8h-0.8zM32.5,386.2h0.8v0.8h-0.8zM45.1,389.9h0.8v0.8h-0.8zM40.7,388.2h0.8v0.8h-0.8zM70.6,386.1h0.8v0.8h-0.8zM31.4,387.4h0.8v0.8h-0.8zM34.8,383.5h0.8v0.8h-0.8zM47.0,387.5h0.8v0.8h-0.8zM41.2,390.4h0.8v0.8h-0.8zM42.3,378.2h0.8v0.8h-0.8zM55.5,383.5h0.8v0.8h-0.8zM59.6,381.9h0.8v0.8h-0.8zM51.7,387.4h0.8v0.8h-0.8zM30.9,393.5h0.8v0.8h-0.8zM58.1,388.4h0.8v0.8h-0.8zM53.0,382.8h0.8v0.8h-0.8zM44.6,386.9h0.8v0.8h-0.8zM49.9,389.6h0.8v0.8h-0.8zM42.1,381.6h0.8v0.8h-0.8zM37.8,387.9h0.8v0.8h-0.8zM39.6,382.5h0.8v0.8h-0.8zM41.4,370.5h0.8v0.8h-0.8zM40.5,384.2h0.8v0.8h-0.8zM54.2,374.4h0.8v0.8h-0.8zM40.9,388.3h0.8v0.8h-0.8zM50.7,392.3h0.8v0.8h-0.8zM57.7,379.6h0.8v0.8h-0.8zM52.5,383.7h0.8v0.8h-0.8zM34.8,394.3h0.8v0.8h-0.8zM36.9,380.7h0.8v0.8h-0.8zM39.7,380.8h0.8v0.8h-0.8zM57.1,387.7h0.8v0.8h-0.8zM61.9,387.9h0.8v0.8h-0.8zM37.1,391.5h0.8v0.8h-0.8zM36.6,383.0h0.8v0.8h-0.8zM42.6,385.8h0.8v0.8h-0.8zM59.4,382.1h0.8v0.8h-0.8zM49.0,385.4h0.8v0.8h-0.8zM29.2,379.4h0.8v0.8h-0.8zM42.0,387.9h0.8v0.8h-0.8zM48.6,388.3h0.8v0.8h-0.8zM45.3,383.0h0.8v0.8h-0.8zM50.0,379.9h0.8v0.8h-0.8zM28.1,383.7h0.8v0.8h-0.8zM27.0,382.7h0.8v0.8h-0.8zM35.5,382.4h0.8v0.8h-0.8zM44.1,381.0h0.8v0.8h-0.8zM39.5,375.9h0.8v0.8h-0.8zM46.5,380.6h0.8v0.8h-0.8zM49.7,369.5h0.8v0.8h-0.8zM34.8,387.0h0.8v0.8h-0.8zM45.9,386.2h0.8v0.8h-0.8zM26.2,386.9h0.8v0.8h-0.8zM46.5,380.1h0.8v0.8h-0.8zM53.9,385.3h0.8v0.8h-0.8zM44.9,383.0h0.8v0.8h-0.8zM51.5,386.1h0.8v0.8h-0.8zM58.8,388.1h0.8v0.8h-0.8zM37.1,384.3h0.8v0.8h-0.8zM56.1,383.5h0.8v0.8h-0.8zM49.4,388.5h0.8v0.8h-0.8zM42.5,372.3h0.8v0.8h-0.8zM46.3,386.8h0.8v0.8h-0.8zM46.4,381.3h0.8v0.8h-0.8zM59.7,384.8h0.8v0.8h-0.8zM37.0,381.5h0.8v0.8h-0.8zM49.1,379.4h0.8v0.8h-0.8zM32.3,397.0h0.8v0.8h-0.8zM60.9,391.6h0.8v0.8h-0.8zM61.6,389.0h0.8v0.8h-0.8zM60.1,388.4h0.8v0.8h-0.8zM61.6,382.8h0.8v0.8h-0.8zM46.3,390.0h0.8v0.8h-0.8zM43.6,391.8h0.8v0.8h-0.8zM45.7,389.5h0.8v0.8h-0.8zM45.8,377.1h0.8v0.8h-0.8zM48.2,393.1h0.8v0.8h-0.8zM58.8,395.4h0.8v0.8h-0.8zM51.6,382.2h0.8v0.8h-0.8zM44.9,374.6h0.8v0.8h-0.8zM42.4,390.8h0.8v0.8h-0.8zM54.9,393.2h0.8v0.8h-0.8zM33.2,381.9h0.8v0.8h-0.8zM51.3,397.4h0.8v0.8h-0.8zM30.4,393.5h0.8v0.8h-0.8zM50.0,382.8h0.8v0.8h-0.8zM72.0,371.2h0.8v0.8h-0.8zM43.9,386.8h0.8v0.8h-0.8zM71.2,395.9h0.8v0.8h-0.8zM72.9,386.3h0.8v0.8h-0.8zM56.9,393.4h0.8v0.8h-0.8zM51.1,387.6h0.8v0.8h-0.8zM42.4,383.2h0.8v0.8h-0.8zM29.4,396.7h0.8v0.8h-0.8zM39.1,373.7h0.8v0.8h-0.8zM48.0,385.4h0.8v0.8h-0.8zM46.9,396.0h0.8v0.8h-0.8zM43.4,384.1h0.8v0.8h-0.8zM35.4,385.5h0.8v0.8h-0.8zM39.2,386.8h0.8v0.8h-0.8zM83.6,387.8h0.8v0.8h-0.8zM34.0,396.6h0.8v0.8h-0.8zM55.5,390.3h0.8v0.8h-0.8zM53.6,390.3h0.8v0.8h-0.8zM53.1,393.7h0.8v0.8h-0.8zM57.2,393.3h0.8v0.8h-0.8zM38.4,385.6h0.8v0.8h-0.8zM35.6,391.1h0.8v0.8h-0.8zM55.1,382.9h0.8v0.8h-0.8zM52.0,400.6h0.8v0.8h-0.8zM60.1,379.2h0.8v0.8h-0.8zM43.5,389.2h0.8v0.8h-0.8zM44.2,387.8h0.8v0.8h-0.8zM59.4,387.5h0.8v0.8h-0.8zM31.0,389.7h0.8v0.8h-0.8zM43.5,386.2h0.8v0.8h-0.8zM37.6,377.7h0.8v0.8h-0.8zM29.1,383.6h0.8v0.8h-0.8zM31.3,370.0h0.8v0.8h-0.8zM59.0,378.9h0.8v0.8h-0.8zM35.6,388.6h0.8v0.8h-0.8zM35.1,389.4h0.8v0.8h-0.8zM38.7,387.3h0.8v0.8h-0.8zM46.0,385.6h0.8v0.8h-0.8zM44.2,393.7h0.8v0.8h-0.8zM37.9,388.6h0.8v0.8h-0.8zM46.7,388.4h0.8v0.8h-0.8zM57.1,377.0h0.8v0.8h-0.8zM48.1,384.6h0.8v0.8h-0.8zM40.8,380.7h0.8v0.8h-0.8zM34.9,379.7h0.8v0.8h-0.8zM31.0,400.0h0.8v0.8h-0.8zM65.9,385.6h0.8v0.8h-0.8zM54.0,380.0h0.8v0.8h-0.8zM46.5,393.8h0.8v0.8h-0.8zM44.2,379.8h0.8v0.8h-0.8zM41.7,379.9h0.8v0.8h-0.8zM27.3,384.2h0.8v0.8h-0.8zM39.7,380.9h0.8v0.8h-0.8zM33.6,380.2h0.8v0.8h-0.8zM47.6,393.6h0.8v0.8h-0.8zM42.1,398.4h0.8v0.8h-0.8zM30.2,384.7h0.8v0.8h-0.8zM46.0,388.8h0.8v0.8h-0.8zM58.8,382.4h0.8v0.8h-0.8zM29.2,384.5h0.8v0.8h-0.8zM48.4,381.6h0.8v0.8h-0.8zM55.9,395.2h0.8v0.8h-0.8zM26.9,387.7h0.8v0.8h-0.8zM57.4,374.6h0.8v0.8h-0.8zM47.3,384.3h0.8v0.8h-0.8zM26.9,393.1h0.8v0.8h-0.8zM47.4,382.8h0.8v0.8h-0.8z" fill="#1a1a1a" fill-opacity="0.7"/>
<path d="M81.2,364.2h0.8v0.8h-0.8zM78.3,369.3h0.8v0.8h-0.8zM117.9,377.4h0.8v0.8h-0.8zM98.1,356.2h0.8v0.8h-0.8zM94.8,400.6h0.8v0.8h-0.8zM111.8,373.9h0.8v0.8h-0.8zM99.5,390.9h0.8v0.8h-0.8zM115.4,359.3h0.8v0.8h-0.8zM111.0,369.8h0.8v0.8h-0.8zM101.9,363.5h0.8v0.8h-0.8zM93.4,368.5h0.8v0.8h-0.8zM94.0,352.8h0.8v0.8h-0.8zM83.8,379.8h0.8v0.8h-0.8zM75.7,360.6h0.8v0.8h-0.8zM113.1,365.3h0.8v0.8h-0.8zM90.8,363.7h0.8v0.8h-0.8zM119.7,356.4h0.8v0.8h-0.8zM108.5,393.8h0.8v0.8h-0.8zM83.9,372.6h0.8v0.8h-0.8zM117.3,382.1h0.8v0.8h-0.8zM93.5,354.1h0.8v0.8h-0.8zM97.5,369.9h0.8v0.8h-0.8zM112.8,366.3h0.8v0.8h-0.8zM95.6,383.6h0.8v0.8h-0.8zM118.4,369.1h0.8v0.8h-0.8zM94.3,380.2h0.8v0.8h-0.8zM124.8,361.3h0.8v0.8h-0.8zM127.4,386.7h0.8v0.8h-0.8zM93.5,384.4h0.8v0.8h-0.8zM91.1,355.4h0.8v0.8h-0.8zM112.9,357.7h0.8v0.8h-0.8zM112.9,359.3h0.8v0.8h-0.8zM85.5,374.4h0.8v0.8h-0.8zM108.1,360.6h0.8v0.8h-0.8zM109.7,360.9h0.8v0.8h-0.8zM98.9,362.2h0.8v0.8h-0.8zM113.3,354.0h0.8v0.8h-0.8zM87.7,372.1h0.8v0.8h-0.8zM117.5,352.9h0.8v0.8h-0.8zM103.7,373.6h0.8v0.8h-0.8zM98.4,377.1h0.8v0.8h-0.8zM115.7,362.3h0.8v0.8h-0.8zM113.6,356.4h0.8v0.8h-0.8zM109.4,359.0h0.8v0.8h-0.8zM129.3,341.6h0.8v0.8h-0.8zM91.3,376.4h0.8v0.8h-0.8zM92.1,376.8h0.8v0.8h-0.8zM97.0,371.8h0.8v0.8h-0.8zM115.8,350.5h0.8v0.8h-0.8zM107.6,365.7h0.8v0.8h-0.8zM123.6,345.4h0.8v0.8h-0.8zM98.5,370.7h0.8v0.8h-0.8zM105.2,364.0h0.8v0.8h-0.8zM103.2,361.2h0.8v0.8h-0.8zM121.4,360.8h0.8v0.8h-0.8z" fill="#1a1a1a" fill-opacity="0.3"/>
<rect x="24.40" y="318.30" width="106.80" height="84.10" stroke="#999" stroke-width="0.9" fill="none"/>
<text x="51.10" y="408.00" font-size="4.8" font-weight="400" text-anchor="middle" fill="#333">10<tspan font-size="3.3" dy="-1.8">1</tspan></text>
<text x="0.00" y="0.00" transform="translate(21.10,381.38) rotate(-90)" font-size="4.8" font-weight="400" text-anchor="middle" fill="#333">10<tspan font-size="3.3" dy="-1.8">1</tspan></text>
<text x="77.80" y="408.00" font-size="4.8" font-weight="400" text-anchor="middle" fill="#333">10<tspan font-size="3.3" dy="-1.8">2</tspan></text>
<text x="0.00" y="0.00" transform="translate(21.10,360.35) rotate(-90)" font-size="4.8" font-weight="400" text-anchor="middle" fill="#333">10<tspan font-size="3.3" dy="-1.8">2</tspan></text>
<text x="104.50" y="408.00" font-size="4.8" font-weight="400" text-anchor="middle" fill="#333">10<tspan font-size="3.3" dy="-1.8">3</tspan></text>
<text x="0.00" y="0.00" transform="translate(21.10,339.32) rotate(-90)" font-size="4.8" font-weight="400" text-anchor="middle" fill="#333">10<tspan font-size="3.3" dy="-1.8">3</tspan></text>
<text x="131.20" y="408.00" font-size="4.8" font-weight="400" text-anchor="middle" fill="#333">10<tspan font-size="3.3" dy="-1.8">4</tspan></text>
<text x="0.00" y="0.00" transform="translate(21.10,318.30) rotate(-90)" font-size="4.8" font-weight="400" text-anchor="middle" fill="#333">10<tspan font-size="3.3" dy="-1.8">4</tspan></text>
<rect x="56.70" y="357.10" width="25.80" height="18.90" stroke="#888" stroke-width="1.3" fill="none"/>
<rect x="75.30" y="377.00" width="26.70" height="25.00" stroke="#222" stroke-width="1.5" fill="none"/>
<text x="69.60" y="341.30" font-size="8.9" font-weight="400" text-anchor="middle" fill="#666" stroke="#666" stroke-width="0.3">A1</text>
<line x1="69.60" y1="343.20" x2="69.60" y2="352.50" stroke="#666" stroke-width="1.1"/>
<path d="M67.20,350.20 L69.60,354.80 L72.00,350.20 Z" fill="#666" stroke="none" stroke-width="1" stroke-linejoin="round"/>
<text x="105.40" y="362.60" font-size="8.9" font-weight="400" text-anchor="middle" fill="#111" stroke="#111" stroke-width="0.3">A2</text>
<line x1="102.70" y1="364.70" x2="97.60" y2="372.60" stroke="#111" stroke-width="1.2"/>
<path d="M96.40,374.50 L96.10,369.70 L100.20,372.20 Z" fill="#111" stroke="none" stroke-width="1" stroke-linejoin="round"/>
<text x="77.50" y="420.00" font-size="8.95" font-weight="700" text-anchor="middle" fill="#000">FITC – anti-fibrinogen</text>
<text x="203.50" y="314.90" font-size="8.75" font-weight="700" text-anchor="middle" fill="#000">Thrombin</text>
<path d="M190.6,371.8h0.8v0.8h-0.8zM189.2,379.8h0.8v0.8h-0.8zM184.4,377.8h0.8v0.8h-0.8zM190.2,377.0h0.8v0.8h-0.8zM194.9,366.9h0.8v0.8h-0.8zM189.5,361.8h0.8v0.8h-0.8zM185.7,369.5h0.8v0.8h-0.8zM200.9,368.2h0.8v0.8h-0.8zM195.0,370.3h0.8v0.8h-0.8zM182.7,377.4h0.8v0.8h-0.8zM208.1,373.5h0.8v0.8h-0.8zM202.6,374.2h0.8v0.8h-0.8zM200.6,383.6h0.8v0.8h-0.8zM179.8,370.1h0.8v0.8h-0.8zM181.1,374.1h0.8v0.8h-0.8zM190.0,368.0h0.8v0.8h-0.8zM196.7,383.0h0.8v0.8h-0.8zM203.8,381.4h0.8v0.8h-0.8zM194.0,374.7h0.8v0.8h-0.8zM204.5,376.4h0.8v0.8h-0.8zM200.8,368.9h0.8v0.8h-0.8zM189.7,368.6h0.8v0.8h-0.8zM203.0,365.2h0.8v0.8h-0.8zM194.5,373.6h0.8v0.8h-0.8zM192.2,370.5h0.8v0.8h-0.8zM196.4,367.1h0.8v0.8h-0.8zM194.2,380.1h0.8v0.8h-0.8zM188.8,380.0h0.8v0.8h-0.8zM202.9,381.8h0.8v0.8h-0.8zM186.2,383.9h0.8v0.8h-0.8zM201.2,379.9h0.8v0.8h-0.8zM200.9,370.1h0.8v0.8h-0.8zM200.6,372.2h0.8v0.8h-0.8zM189.4,369.3h0.8v0.8h-0.8zM189.6,371.9h0.8v0.8h-0.8zM180.5,376.3h0.8v0.8h-0.8zM182.2,377.8h0.8v0.8h-0.8zM204.2,378.0h0.8v0.8h-0.8zM206.0,379.8h0.8v0.8h-0.8zM211.8,368.8h0.8v0.8h-0.8zM186.5,372.3h0.8v0.8h-0.8zM185.4,381.8h0.8v0.8h-0.8zM174.7,375.4h0.8v0.8h-0.8zM200.6,374.9h0.8v0.8h-0.8zM200.1,364.7h0.8v0.8h-0.8zM189.7,372.0h0.8v0.8h-0.8zM197.1,375.3h0.8v0.8h-0.8zM205.0,362.7h0.8v0.8h-0.8zM195.6,385.7h0.8v0.8h-0.8zM203.5,372.1h0.8v0.8h-0.8zM200.2,369.8h0.8v0.8h-0.8zM203.9,367.3h0.8v0.8h-0.8zM199.8,372.8h0.8v0.8h-0.8zM187.3,374.5h0.8v0.8h-0.8zM192.8,368.3h0.8v0.8h-0.8zM194.6,366.8h0.8v0.8h-0.8zM202.2,374.0h0.8v0.8h-0.8zM201.3,375.2h0.8v0.8h-0.8zM195.5,363.6h0.8v0.8h-0.8zM191.0,372.8h0.8v0.8h-0.8zM189.4,372.5h0.8v0.8h-0.8zM190.5,369.9h0.8v0.8h-0.8zM186.5,370.4h0.8v0.8h-0.8zM184.8,379.9h0.8v0.8h-0.8zM195.5,375.0h0.8v0.8h-0.8zM199.7,369.1h0.8v0.8h-0.8zM201.9,360.1h0.8v0.8h-0.8zM188.5,373.3h0.8v0.8h-0.8zM206.6,377.1h0.8v0.8h-0.8zM199.9,375.9h0.8v0.8h-0.8zM189.2,372.0h0.8v0.8h-0.8zM188.4,373.6h0.8v0.8h-0.8zM183.8,372.0h0.8v0.8h-0.8zM189.5,375.7h0.8v0.8h-0.8zM188.6,375.2h0.8v0.8h-0.8zM197.1,374.8h0.8v0.8h-0.8zM199.5,365.8h0.8v0.8h-0.8zM194.1,371.3h0.8v0.8h-0.8zM201.6,368.2h0.8v0.8h-0.8zM195.7,363.9h0.8v0.8h-0.8zM190.9,368.3h0.8v0.8h-0.8zM193.0,368.5h0.8v0.8h-0.8zM192.8,373.7h0.8v0.8h-0.8zM185.5,378.0h0.8v0.8h-0.8zM188.7,385.4h0.8v0.8h-0.8zM202.0,374.8h0.8v0.8h-0.8zM194.1,380.3h0.8v0.8h-0.8zM195.7,362.1h0.8v0.8h-0.8zM198.5,373.0h0.8v0.8h-0.8zM174.6,364.7h0.8v0.8h-0.8zM203.7,372.6h0.8v0.8h-0.8zM187.8,362.3h0.8v0.8h-0.8zM185.1,382.9h0.8v0.8h-0.8zM175.7,378.2h0.8v0.8h-0.8zM211.8,370.1h0.8v0.8h-0.8zM186.1,376.6h0.8v0.8h-0.8zM198.1,373.8h0.8v0.8h-0.8zM191.8,363.0h0.8v0.8h-0.8zM197.3,376.1h0.8v0.8h-0.8zM196.4,374.8h0.8v0.8h-0.8zM194.4,377.4h0.8v0.8h-0.8zM220.0,364.6h0.8v0.8h-0.8zM195.4,364.9h0.8v0.8h-0.8zM179.2,374.5h0.8v0.8h-0.8zM204.1,364.7h0.8v0.8h-0.8zM189.6,369.5h0.8v0.8h-0.8zM182.2,365.3h0.8v0.8h-0.8zM193.8,369.3h0.8v0.8h-0.8zM191.5,366.7h0.8v0.8h-0.8zM203.8,384.1h0.8v0.8h-0.8zM186.9,364.0h0.8v0.8h-0.8zM202.9,379.3h0.8v0.8h-0.8zM208.9,364.4h0.8v0.8h-0.8zM192.5,360.5h0.8v0.8h-0.8zM196.4,363.7h0.8v0.8h-0.8zM179.4,378.9h0.8v0.8h-0.8zM196.5,359.3h0.8v0.8h-0.8zM186.9,388.2h0.8v0.8h-0.8zM174.2,372.2h0.8v0.8h-0.8zM208.6,380.5h0.8v0.8h-0.8zM194.4,367.3h0.8v0.8h-0.8zM196.1,367.8h0.8v0.8h-0.8zM195.8,378.2h0.8v0.8h-0.8zM193.8,379.2h0.8v0.8h-0.8zM203.1,365.3h0.8v0.8h-0.8zM191.1,366.4h0.8v0.8h-0.8zM196.0,360.8h0.8v0.8h-0.8zM185.3,359.8h0.8v0.8h-0.8zM196.7,365.9h0.8v0.8h-0.8zM202.9,375.2h0.8v0.8h-0.8zM196.7,366.7h0.8v0.8h-0.8zM180.5,367.5h0.8v0.8h-0.8zM193.2,371.5h0.8v0.8h-0.8zM191.6,372.4h0.8v0.8h-0.8zM204.2,377.6h0.8v0.8h-0.8zM183.6,377.8h0.8v0.8h-0.8zM186.1,374.7h0.8v0.8h-0.8zM194.7,377.5h0.8v0.8h-0.8zM199.2,364.0h0.8v0.8h-0.8zM192.1,374.8h0.8v0.8h-0.8zM191.4,382.0h0.8v0.8h-0.8zM182.1,377.1h0.8v0.8h-0.8zM194.4,368.9h0.8v0.8h-0.8zM192.1,370.6h0.8v0.8h-0.8zM195.3,368.2h0.8v0.8h-0.8zM190.3,388.0h0.8v0.8h-0.8zM189.4,376.1h0.8v0.8h-0.8zM201.4,365.3h0.8v0.8h-0.8zM199.3,367.3h0.8v0.8h-0.8zM173.2,375.3h0.8v0.8h-0.8zM169.3,375.1h0.8v0.8h-0.8zM198.6,382.1h0.8v0.8h-0.8zM198.1,377.8h0.8v0.8h-0.8zM197.9,371.3h0.8v0.8h-0.8zM201.2,368.5h0.8v0.8h-0.8zM195.2,367.4h0.8v0.8h-0.8zM190.8,374.8h0.8v0.8h-0.8zM178.1,370.5h0.8v0.8h-0.8zM185.3,372.8h0.8v0.8h-0.8zM208.2,364.0h0.8v0.8h-0.8zM191.4,370.2h0.8v0.8h-0.8zM186.9,368.4h0.8v0.8h-0.8zM200.3,369.4h0.8v0.8h-0.8zM187.1,365.6h0.8v0.8h-0.8zM186.2,378.5h0.8v0.8h-0.8zM185.3,361.2h0.8v0.8h-0.8zM185.5,373.4h0.8v0.8h-0.8zM195.7,371.4h0.8v0.8h-0.8zM199.1,363.0h0.8v0.8h-0.8zM184.9,371.0h0.8v0.8h-0.8zM193.1,359.0h0.8v0.8h-0.8zM191.3,362.1h0.8v0.8h-0.8zM199.9,372.2h0.8v0.8h-0.8zM205.8,381.7h0.8v0.8h-0.8zM196.5,369.4h0.8v0.8h-0.8zM184.1,369.3h0.8v0.8h-0.8zM200.6,372.7h0.8v0.8h-0.8zM192.8,363.2h0.8v0.8h-0.8zM190.4,382.9h0.8v0.8h-0.8zM190.5,380.1h0.8v0.8h-0.8zM173.7,383.4h0.8v0.8h-0.8zM184.5,364.4h0.8v0.8h-0.8zM189.6,367.2h0.8v0.8h-0.8zM205.2,367.9h0.8v0.8h-0.8zM190.7,367.8h0.8v0.8h-0.8zM198.5,378.2h0.8v0.8h-0.8zM199.5,361.3h0.8v0.8h-0.8zM190.5,375.3h0.8v0.8h-0.8zM176.8,373.4h0.8v0.8h-0.8zM199.8,379.7h0.8v0.8h-0.8zM196.3,376.3h0.8v0.8h-0.8zM199.3,372.8h0.8v0.8h-0.8zM177.7,385.5h0.8v0.8h-0.8zM198.0,370.4h0.8v0.8h-0.8zM186.1,387.1h0.8v0.8h-0.8zM195.3,376.9h0.8v0.8h-0.8zM189.5,373.8h0.8v0.8h-0.8zM192.5,378.4h0.8v0.8h-0.8zM177.7,385.1h0.8v0.8h-0.8zM192.5,376.4h0.8v0.8h-0.8zM200.3,367.3h0.8v0.8h-0.8zM198.9,363.6h0.8v0.8h-0.8zM194.3,366.6h0.8v0.8h-0.8zM200.7,379.4h0.8v0.8h-0.8zM183.0,375.2h0.8v0.8h-0.8zM186.7,364.0h0.8v0.8h-0.8zM191.8,378.1h0.8v0.8h-0.8zM201.5,367.0h0.8v0.8h-0.8zM190.3,381.1h0.8v0.8h-0.8zM192.2,382.9h0.8v0.8h-0.8zM207.4,372.8h0.8v0.8h-0.8zM186.2,370.8h0.8v0.8h-0.8zM198.8,369.4h0.8v0.8h-0.8zM193.1,374.5h0.8v0.8h-0.8zM180.3,371.0h0.8v0.8h-0.8zM189.4,366.9h0.8v0.8h-0.8zM194.4,369.1h0.8v0.8h-0.8zM189.0,381.1h0.8v0.8h-0.8zM204.0,368.6h0.8v0.8h-0.8zM188.1,362.9h0.8v0.8h-0.8zM178.2,383.6h0.8v0.8h-0.8zM192.7,366.5h0.8v0.8h-0.8zM181.8,380.9h0.8v0.8h-0.8zM190.0,375.8h0.8v0.8h-0.8zM199.8,365.5h0.8v0.8h-0.8zM181.3,372.8h0.8v0.8h-0.8zM196.5,369.6h0.8v0.8h-0.8zM191.5,374.3h0.8v0.8h-0.8zM185.0,377.2h0.8v0.8h-0.8zM200.1,363.6h0.8v0.8h-0.8zM185.9,370.3h0.8v0.8h-0.8zM187.3,370.8h0.8v0.8h-0.8zM200.9,361.8h0.8v0.8h-0.8zM195.4,368.7h0.8v0.8h-0.8zM186.7,364.0h0.8v0.8h-0.8zM176.1,374.8h0.8v0.8h-0.8zM203.5,364.4h0.8v0.8h-0.8zM198.0,363.2h0.8v0.8h-0.8zM196.1,369.4h0.8v0.8h-0.8zM189.5,363.4h0.8v0.8h-0.8zM188.2,369.7h0.8v0.8h-0.8zM202.9,374.0h0.8v0.8h-0.8zM195.9,367.2h0.8v0.8h-0.8zM194.3,376.2h0.8v0.8h-0.8zM202.9,375.7h0.8v0.8h-0.8zM207.1,368.1h0.8v0.8h-0.8zM185.2,380.8h0.8v0.8h-0.8zM206.6,375.1h0.8v0.8h-0.8zM192.7,372.6h0.8v0.8h-0.8zM190.0,370.1h0.8v0.8h-0.8zM192.6,374.3h0.8v0.8h-0.8zM183.5,376.3h0.8v0.8h-0.8zM193.8,370.3h0.8v0.8h-0.8zM194.8,369.2h0.8v0.8h-0.8zM194.8,380.5h0.8v0.8h-0.8zM189.2,377.4h0.8v0.8h-0.8zM188.0,371.1h0.8v0.8h-0.8zM194.5,367.8h0.8v0.8h-0.8zM200.7,361.3h0.8v0.8h-0.8zM191.1,372.1h0.8v0.8h-0.8zM193.4,370.6h0.8v0.8h-0.8zM184.7,373.3h0.8v0.8h-0.8zM203.3,373.9h0.8v0.8h-0.8zM191.3,364.3h0.8v0.8h-0.8zM185.3,377.7h0.8v0.8h-0.8zM188.2,370.5h0.8v0.8h-0.8zM210.7,354.1h0.8v0.8h-0.8zM199.8,356.1h0.8v0.8h-0.8zM181.9,389.9h0.8v0.8h-0.8zM201.2,373.9h0.8v0.8h-0.8zM198.8,376.3h0.8v0.8h-0.8zM187.9,364.0h0.8v0.8h-0.8zM186.1,374.8h0.8v0.8h-0.8zM196.0,377.5h0.8v0.8h-0.8zM192.0,376.3h0.8v0.8h-0.8zM192.2,364.8h0.8v0.8h-0.8zM188.1,374.5h0.8v0.8h-0.8zM191.5,368.4h0.8v0.8h-0.8zM192.0,380.2h0.8v0.8h-0.8zM186.6,357.2h0.8v0.8h-0.8zM192.7,357.0h0.8v0.8h-0.8zM204.2,365.5h0.8v0.8h-0.8zM192.5,370.0h0.8v0.8h-0.8zM193.4,373.0h0.8v0.8h-0.8zM201.3,363.3h0.8v0.8h-0.8zM188.8,369.2h0.8v0.8h-0.8zM190.1,375.5h0.8v0.8h-0.8zM176.5,360.6h0.8v0.8h-0.8zM192.2,374.0h0.8v0.8h-0.8zM196.4,376.8h0.8v0.8h-0.8zM204.6,363.6h0.8v0.8h-0.8zM189.5,373.5h0.8v0.8h-0.8zM196.6,373.8h0.8v0.8h-0.8zM194.6,365.0h0.8v0.8h-0.8zM210.5,368.5h0.8v0.8h-0.8zM195.5,364.9h0.8v0.8h-0.8zM194.8,368.9h0.8v0.8h-0.8zM200.9,375.9h0.8v0.8h-0.8zM187.6,372.8h0.8v0.8h-0.8zM193.0,373.4h0.8v0.8h-0.8zM203.5,365.1h0.8v0.8h-0.8zM214.0,362.9h0.8v0.8h-0.8zM181.1,377.9h0.8v0.8h-0.8zM182.2,381.4h0.8v0.8h-0.8zM195.3,369.0h0.8v0.8h-0.8zM198.5,371.6h0.8v0.8h-0.8zM186.4,370.1h0.8v0.8h-0.8zM207.9,370.4h0.8v0.8h-0.8zM195.0,365.0h0.8v0.8h-0.8zM209.0,373.1h0.8v0.8h-0.8zM190.0,372.1h0.8v0.8h-0.8zM188.1,380.7h0.8v0.8h-0.8zM199.9,366.3h0.8v0.8h-0.8zM189.6,369.4h0.8v0.8h-0.8zM193.7,385.5h0.8v0.8h-0.8zM190.3,374.5h0.8v0.8h-0.8zM189.6,370.9h0.8v0.8h-0.8zM195.7,378.2h0.8v0.8h-0.8zM183.3,369.1h0.8v0.8h-0.8zM190.7,366.0h0.8v0.8h-0.8zM204.6,374.4h0.8v0.8h-0.8zM201.5,373.1h0.8v0.8h-0.8zM183.4,379.1h0.8v0.8h-0.8zM191.7,367.8h0.8v0.8h-0.8zM185.8,365.6h0.8v0.8h-0.8zM188.7,373.4h0.8v0.8h-0.8zM202.0,366.1h0.8v0.8h-0.8zM198.4,373.0h0.8v0.8h-0.8zM198.7,370.8h0.8v0.8h-0.8zM182.1,380.7h0.8v0.8h-0.8zM198.1,363.4h0.8v0.8h-0.8zM192.9,370.4h0.8v0.8h-0.8zM211.1,378.7h0.8v0.8h-0.8zM193.7,370.4h0.8v0.8h-0.8zM198.6,372.6h0.8v0.8h-0.8zM198.1,369.5h0.8v0.8h-0.8zM184.4,360.8h0.8v0.8h-0.8zM181.6,363.3h0.8v0.8h-0.8zM192.6,375.8h0.8v0.8h-0.8zM206.3,371.2h0.8v0.8h-0.8zM210.0,379.6h0.8v0.8h-0.8zM191.7,368.5h0.8v0.8h-0.8zM194.7,368.4h0.8v0.8h-0.8zM189.3,372.5h0.8v0.8h-0.8zM196.9,358.8h0.8v0.8h-0.8zM193.5,371.8h0.8v0.8h-0.8zM199.0,364.8h0.8v0.8h-0.8zM197.1,364.9h0.8v0.8h-0.8zM185.2,367.7h0.8v0.8h-0.8zM194.0,369.6h0.8v0.8h-0.8zM202.4,373.2h0.8v0.8h-0.8zM191.0,378.5h0.8v0.8h-0.8zM206.1,370.5h0.8v0.8h-0.8zM207.8,371.5h0.8v0.8h-0.8zM196.3,365.2h0.8v0.8h-0.8zM201.3,377.1h0.8v0.8h-0.8zM195.3,378.1h0.8v0.8h-0.8zM209.7,380.3h0.8v0.8h-0.8zM185.9,371.6h0.8v0.8h-0.8zM203.7,376.0h0.8v0.8h-0.8zM202.1,360.9h0.8v0.8h-0.8zM199.1,374.7h0.8v0.8h-0.8zM188.6,382.8h0.8v0.8h-0.8zM199.5,377.9h0.8v0.8h-0.8zM206.5,368.5h0.8v0.8h-0.8zM196.2,371.7h0.8v0.8h-0.8zM202.2,376.9h0.8v0.8h-0.8zM185.2,369.0h0.8v0.8h-0.8zM185.2,375.1h0.8v0.8h-0.8zM184.2,367.8h0.8v0.8h-0.8zM204.2,365.3h0.8v0.8h-0.8zM198.1,358.2h0.8v0.8h-0.8zM199.6,362.6h0.8v0.8h-0.8zM204.8,372.0h0.8v0.8h-0.8zM198.0,366.0h0.8v0.8h-0.8zM196.6,368.8h0.8v0.8h-0.8zM201.0,368.5h0.8v0.8h-0.8zM191.4,367.8h0.8v0.8h-0.8zM190.7,378.0h0.8v0.8h-0.8zM191.4,374.9h0.8v0.8h-0.8zM172.1,381.6h0.8v0.8h-0.8zM182.6,361.9h0.8v0.8h-0.8zM194.2,360.1h0.8v0.8h-0.8zM206.3,369.6h0.8v0.8h-0.8zM192.1,376.9h0.8v0.8h-0.8zM191.6,373.0h0.8v0.8h-0.8zM195.0,384.7h0.8v0.8h-0.8zM199.2,368.5h0.8v0.8h-0.8zM194.8,361.2h0.8v0.8h-0.8zM203.9,363.3h0.8v0.8h-0.8zM189.4,372.1h0.8v0.8h-0.8zM196.2,366.8h0.8v0.8h-0.8zM187.7,368.7h0.8v0.8h-0.8zM173.0,371.6h0.8v0.8h-0.8zM198.2,377.8h0.8v0.8h-0.8zM187.2,366.8h0.8v0.8h-0.8zM200.5,368.5h0.8v0.8h-0.8zM203.4,365.6h0.8v0.8h-0.8zM196.4,371.0h0.8v0.8h-0.8zM194.5,376.9h0.8v0.8h-0.8zM194.1,371.4h0.8v0.8h-0.8zM192.2,382.1h0.8v0.8h-0.8zM198.0,371.1h0.8v0.8h-0.8zM181.8,377.5h0.8v0.8h-0.8zM188.2,363.3h0.8v0.8h-0.8zM193.1,367.4h0.8v0.8h-0.8zM192.9,373.6h0.8v0.8h-0.8zM191.1,368.5h0.8v0.8h-0.8zM191.8,388.3h0.8v0.8h-0.8zM186.4,366.7h0.8v0.8h-0.8zM187.1,366.1h0.8v0.8h-0.8zM190.7,367.5h0.8v0.8h-0.8zM195.7,372.6h0.8v0.8h-0.8zM200.5,371.5h0.8v0.8h-0.8zM195.5,374.1h0.8v0.8h-0.8zM172.1,376.1h0.8v0.8h-0.8zM190.6,367.9h0.8v0.8h-0.8zM193.6,368.2h0.8v0.8h-0.8zM198.5,374.4h0.8v0.8h-0.8zM182.8,378.9h0.8v0.8h-0.8zM181.0,377.5h0.8v0.8h-0.8zM208.3,377.8h0.8v0.8h-0.8zM184.8,383.3h0.8v0.8h-0.8zM207.7,372.0h0.8v0.8h-0.8zM195.3,383.8h0.8v0.8h-0.8zM196.9,362.7h0.8v0.8h-0.8zM192.8,373.0h0.8v0.8h-0.8zM199.4,383.6h0.8v0.8h-0.8zM199.4,378.7h0.8v0.8h-0.8zM183.0,369.0h0.8v0.8h-0.8zM194.9,375.0h0.8v0.8h-0.8zM211.5,379.3h0.8v0.8h-0.8zM184.5,379.5h0.8v0.8h-0.8zM187.9,371.1h0.8v0.8h-0.8zM194.3,372.3h0.8v0.8h-0.8zM195.5,369.1h0.8v0.8h-0.8zM200.4,369.6h0.8v0.8h-0.8zM192.3,368.9h0.8v0.8h-0.8zM194.4,367.3h0.8v0.8h-0.8zM186.6,378.8h0.8v0.8h-0.8zM197.6,374.4h0.8v0.8h-0.8zM194.9,366.9h0.8v0.8h-0.8zM183.1,380.9h0.8v0.8h-0.8zM193.9,376.0h0.8v0.8h-0.8zM194.5,377.9h0.8v0.8h-0.8zM185.5,380.0h0.8v0.8h-0.8zM177.3,376.9h0.8v0.8h-0.8zM204.1,373.2h0.8v0.8h-0.8zM196.0,367.7h0.8v0.8h-0.8zM201.4,372.0h0.8v0.8h-0.8zM199.6,375.7h0.8v0.8h-0.8zM192.2,369.6h0.8v0.8h-0.8zM199.7,375.8h0.8v0.8h-0.8zM195.7,375.7h0.8v0.8h-0.8zM189.3,373.9h0.8v0.8h-0.8zM199.9,373.5h0.8v0.8h-0.8zM174.7,377.9h0.8v0.8h-0.8zM190.1,371.8h0.8v0.8h-0.8zM195.3,381.9h0.8v0.8h-0.8zM178.2,369.7h0.8v0.8h-0.8zM208.3,366.8h0.8v0.8h-0.8zM207.7,379.3h0.8v0.8h-0.8zM187.2,372.3h0.8v0.8h-0.8zM200.6,381.8h0.8v0.8h-0.8zM193.8,374.5h0.8v0.8h-0.8zM191.3,386.4h0.8v0.8h-0.8zM180.5,376.6h0.8v0.8h-0.8zM200.8,374.0h0.8v0.8h-0.8zM190.8,376.3h0.8v0.8h-0.8zM189.1,367.7h0.8v0.8h-0.8zM209.7,381.7h0.8v0.8h-0.8zM188.1,373.4h0.8v0.8h-0.8zM204.5,370.9h0.8v0.8h-0.8zM191.3,372.3h0.8v0.8h-0.8zM180.2,376.1h0.8v0.8h-0.8zM187.4,372.0h0.8v0.8h-0.8zM182.2,373.9h0.8v0.8h-0.8zM190.4,369.7h0.8v0.8h-0.8zM199.4,357.0h0.8v0.8h-0.8zM192.1,360.0h0.8v0.8h-0.8zM181.5,383.9h0.8v0.8h-0.8zM195.4,375.8h0.8v0.8h-0.8zM179.1,366.6h0.8v0.8h-0.8zM197.8,373.5h0.8v0.8h-0.8zM201.3,372.3h0.8v0.8h-0.8zM196.3,374.7h0.8v0.8h-0.8zM192.9,363.9h0.8v0.8h-0.8zM200.5,368.6h0.8v0.8h-0.8zM192.5,371.3h0.8v0.8h-0.8zM198.5,369.8h0.8v0.8h-0.8zM183.6,374.7h0.8v0.8h-0.8zM201.8,368.4h0.8v0.8h-0.8zM204.1,369.9h0.8v0.8h-0.8zM196.2,383.1h0.8v0.8h-0.8zM202.3,394.0h0.8v0.8h-0.8zM187.5,374.2h0.8v0.8h-0.8zM199.8,369.7h0.8v0.8h-0.8zM187.0,376.2h0.8v0.8h-0.8zM192.2,371.1h0.8v0.8h-0.8zM189.7,375.3h0.8v0.8h-0.8zM193.1,372.0h0.8v0.8h-0.8zM188.2,369.9h0.8v0.8h-0.8zM183.2,376.0h0.8v0.8h-0.8zM192.0,369.0h0.8v0.8h-0.8zM193.3,375.2h0.8v0.8h-0.8zM197.4,370.5h0.8v0.8h-0.8zM199.3,376.8h0.8v0.8h-0.8zM178.6,368.1h0.8v0.8h-0.8zM198.5,372.8h0.8v0.8h-0.8zM198.2,378.5h0.8v0.8h-0.8zM185.2,375.2h0.8v0.8h-0.8zM201.9,364.8h0.8v0.8h-0.8zM205.7,358.1h0.8v0.8h-0.8zM190.8,387.2h0.8v0.8h-0.8zM190.9,373.6h0.8v0.8h-0.8zM196.2,370.1h0.8v0.8h-0.8zM199.5,371.6h0.8v0.8h-0.8zM188.0,388.7h0.8v0.8h-0.8zM198.7,366.5h0.8v0.8h-0.8zM177.9,372.3h0.8v0.8h-0.8zM197.1,363.0h0.8v0.8h-0.8zM189.1,372.5h0.8v0.8h-0.8zM193.5,381.1h0.8v0.8h-0.8zM180.8,368.3h0.8v0.8h-0.8zM209.4,360.0h0.8v0.8h-0.8zM194.1,374.3h0.8v0.8h-0.8zM201.3,366.0h0.8v0.8h-0.8zM198.1,380.0h0.8v0.8h-0.8zM192.8,376.7h0.8v0.8h-0.8zM186.6,378.8h0.8v0.8h-0.8zM191.7,370.2h0.8v0.8h-0.8zM192.4,363.5h0.8v0.8h-0.8zM181.4,375.6h0.8v0.8h-0.8zM193.4,371.2h0.8v0.8h-0.8zM181.2,375.5h0.8v0.8h-0.8zM190.1,363.9h0.8v0.8h-0.8zM201.5,385.0h0.8v0.8h-0.8zM194.3,367.5h0.8v0.8h-0.8zM174.9,381.6h0.8v0.8h-0.8zM195.2,377.9h0.8v0.8h-0.8zM209.6,366.3h0.8v0.8h-0.8zM194.4,382.0h0.8v0.8h-0.8zM185.6,380.4h0.8v0.8h-0.8zM193.5,368.8h0.8v0.8h-0.8zM194.0,376.2h0.8v0.8h-0.8zM192.8,373.8h0.8v0.8h-0.8zM198.3,376.1h0.8v0.8h-0.8zM190.2,373.8h0.8v0.8h-0.8zM176.5,367.4h0.8v0.8h-0.8zM186.4,370.5h0.8v0.8h-0.8zM190.6,366.1h0.8v0.8h-0.8zM197.1,377.8h0.8v0.8h-0.8zM204.9,371.3h0.8v0.8h-0.8zM197.1,376.5h0.8v0.8h-0.8zM206.2,367.5h0.8v0.8h-0.8zM198.8,363.5h0.8v0.8h-0.8zM184.8,366.2h0.8v0.8h-0.8zM198.1,370.4h0.8v0.8h-0.8zM193.7,366.8h0.8v0.8h-0.8zM192.5,383.7h0.8v0.8h-0.8zM180.6,366.9h0.8v0.8h-0.8zM200.5,365.1h0.8v0.8h-0.8zM193.5,373.1h0.8v0.8h-0.8zM180.6,371.9h0.8v0.8h-0.8zM192.6,374.5h0.8v0.8h-0.8zM197.9,371.5h0.8v0.8h-0.8zM192.8,371.6h0.8v0.8h-0.8zM193.8,376.8h0.8v0.8h-0.8zM187.4,355.2h0.8v0.8h-0.8zM196.9,371.9h0.8v0.8h-0.8zM212.3,362.5h0.8v0.8h-0.8zM197.3,376.0h0.8v0.8h-0.8zM186.1,372.5h0.8v0.8h-0.8zM185.2,376.9h0.8v0.8h-0.8zM192.9,374.2h0.8v0.8h-0.8zM197.1,373.3h0.8v0.8h-0.8zM202.3,375.4h0.8v0.8h-0.8zM191.0,367.9h0.8v0.8h-0.8zM196.3,361.9h0.8v0.8h-0.8zM188.0,379.0h0.8v0.8h-0.8zM199.9,384.3h0.8v0.8h-0.8zM190.6,371.8h0.8v0.8h-0.8zM199.9,378.9h0.8v0.8h-0.8zM183.6,380.2h0.8v0.8h-0.8zM194.8,382.8h0.8v0.8h-0.8zM194.2,369.3h0.8v0.8h-0.8zM188.6,370.7h0.8v0.8h-0.8zM189.3,361.9h0.8v0.8h-0.8zM194.5,367.5h0.8v0.8h-0.8zM202.8,375.6h0.8v0.8h-0.8zM189.0,371.4h0.8v0.8h-0.8zM196.7,379.2h0.8v0.8h-0.8zM201.8,376.2h0.8v0.8h-0.8zM193.4,376.9h0.8v0.8h-0.8zM184.3,377.1h0.8v0.8h-0.8zM192.7,370.6h0.8v0.8h-0.8zM192.1,367.9h0.8v0.8h-0.8zM190.1,381.2h0.8v0.8h-0.8zM189.1,364.7h0.8v0.8h-0.8zM197.4,369.0h0.8v0.8h-0.8zM188.6,381.3h0.8v0.8h-0.8zM192.7,375.8h0.8v0.8h-0.8zM195.0,382.4h0.8v0.8h-0.8zM198.9,362.4h0.8v0.8h-0.8zM206.7,367.1h0.8v0.8h-0.8zM190.5,377.6h0.8v0.8h-0.8zM192.5,370.1h0.8v0.8h-0.8zM190.4,370.8h0.8v0.8h-0.8zM202.1,372.9h0.8v0.8h-0.8zM203.7,382.1h0.8v0.8h-0.8zM199.4,366.3h0.8v0.8h-0.8zM194.3,374.9h0.8v0.8h-0.8zM183.4,373.3h0.8v0.8h-0.8zM184.8,380.9h0.8v0.8h-0.8zM179.5,372.3h0.8v0.8h-0.8zM195.4,373.2h0.8v0.8h-0.8zM186.1,377.9h0.8v0.8h-0.8zM192.8,381.4h0.8v0.8h-0.8zM194.2,377.3h0.8v0.8h-0.8zM180.6,375.5h0.8v0.8h-0.8zM194.0,366.0h0.8v0.8h-0.8zM175.8,379.5h0.8v0.8h-0.8zM203.1,367.0h0.8v0.8h-0.8zM199.9,375.2h0.8v0.8h-0.8zM188.8,369.0h0.8v0.8h-0.8zM214.8,372.7h0.8v0.8h-0.8zM196.5,369.8h0.8v0.8h-0.8zM182.2,375.7h0.8v0.8h-0.8zM192.1,374.5h0.8v0.8h-0.8zM193.1,361.4h0.8v0.8h-0.8zM189.9,373.6h0.8v0.8h-0.8zM190.2,374.3h0.8v0.8h-0.8zM195.5,371.3h0.8v0.8h-0.8zM189.8,383.0h0.8v0.8h-0.8zM195.5,373.9h0.8v0.8h-0.8zM197.3,373.0h0.8v0.8h-0.8zM178.3,372.1h0.8v0.8h-0.8zM195.4,375.1h0.8v0.8h-0.8zM193.8,365.5h0.8v0.8h-0.8zM190.9,375.2h0.8v0.8h-0.8zM194.0,388.6h0.8v0.8h-0.8zM197.6,374.6h0.8v0.8h-0.8zM192.0,359.2h0.8v0.8h-0.8zM200.4,367.0h0.8v0.8h-0.8zM203.4,368.2h0.8v0.8h-0.8zM190.9,379.2h0.8v0.8h-0.8zM190.3,362.7h0.8v0.8h-0.8zM196.6,374.5h0.8v0.8h-0.8zM196.7,370.8h0.8v0.8h-0.8zM195.8,366.5h0.8v0.8h-0.8zM193.1,376.9h0.8v0.8h-0.8zM169.2,379.6h0.8v0.8h-0.8zM202.3,380.4h0.8v0.8h-0.8zM190.9,375.9h0.8v0.8h-0.8zM192.8,366.5h0.8v0.8h-0.8zM196.2,377.6h0.8v0.8h-0.8zM199.9,359.9h0.8v0.8h-0.8zM192.0,371.9h0.8v0.8h-0.8zM193.9,363.5h0.8v0.8h-0.8zM208.8,360.5h0.8v0.8h-0.8zM185.8,384.0h0.8v0.8h-0.8zM195.6,367.3h0.8v0.8h-0.8zM187.9,377.4h0.8v0.8h-0.8zM188.4,377.7h0.8v0.8h-0.8zM197.4,374.3h0.8v0.8h-0.8zM199.9,367.6h0.8v0.8h-0.8zM182.1,364.1h0.8v0.8h-0.8zM193.2,367.4h0.8v0.8h-0.8zM205.6,364.7h0.8v0.8h-0.8zM205.8,369.5h0.8v0.8h-0.8zM193.5,360.7h0.8v0.8h-0.8zM192.8,381.2h0.8v0.8h-0.8zM181.9,382.0h0.8v0.8h-0.8zM199.6,376.8h0.8v0.8h-0.8zM185.4,383.2h0.8v0.8h-0.8zM184.4,383.4h0.8v0.8h-0.8zM202.4,360.2h0.8v0.8h-0.8zM205.0,381.4h0.8v0.8h-0.8zM192.6,362.9h0.8v0.8h-0.8zM191.6,370.8h0.8v0.8h-0.8zM199.9,365.3h0.8v0.8h-0.8zM186.1,374.8h0.8v0.8h-0.8zM195.9,361.0h0.8v0.8h-0.8zM196.8,368.4h0.8v0.8h-0.8zM189.8,376.6h0.8v0.8h-0.8zM198.7,374.5h0.8v0.8h-0.8zM207.0,371.7h0.8v0.8h-0.8zM193.5,374.4h0.8v0.8h-0.8zM204.9,374.4h0.8v0.8h-0.8zM195.8,378.2h0.8v0.8h-0.8zM181.4,380.5h0.8v0.8h-0.8zM199.6,369.5h0.8v0.8h-0.8zM181.7,364.2h0.8v0.8h-0.8zM176.3,377.3h0.8v0.8h-0.8zM192.3,366.9h0.8v0.8h-0.8zM200.3,365.2h0.8v0.8h-0.8zM201.3,375.9h0.8v0.8h-0.8zM197.6,364.8h0.8v0.8h-0.8zM184.8,374.1h0.8v0.8h-0.8zM201.6,364.5h0.8v0.8h-0.8zM195.0,377.5h0.8v0.8h-0.8zM179.9,386.1h0.8v0.8h-0.8zM191.7,369.3h0.8v0.8h-0.8zM194.8,371.0h0.8v0.8h-0.8zM185.9,369.7h0.8v0.8h-0.8zM191.3,365.9h0.8v0.8h-0.8zM201.1,375.0h0.8v0.8h-0.8zM199.0,361.3h0.8v0.8h-0.8zM189.5,376.1h0.8v0.8h-0.8zM192.6,361.0h0.8v0.8h-0.8zM196.2,384.2h0.8v0.8h-0.8zM201.5,370.5h0.8v0.8h-0.8zM183.9,380.2h0.8v0.8h-0.8zM197.8,369.6h0.8v0.8h-0.8zM190.8,377.7h0.8v0.8h-0.8zM192.5,368.2h0.8v0.8h-0.8zM184.1,371.4h0.8v0.8h-0.8zM190.9,369.5h0.8v0.8h-0.8zM227.4,359.1h0.8v0.8h-0.8zM179.9,370.1h0.8v0.8h-0.8zM200.1,383.5h0.8v0.8h-0.8zM180.3,370.8h0.8v0.8h-0.8zM198.1,367.0h0.8v0.8h-0.8zM197.8,369.4h0.8v0.8h-0.8zM202.3,371.7h0.8v0.8h-0.8zM206.7,362.0h0.8v0.8h-0.8zM202.1,368.6h0.8v0.8h-0.8zM202.3,367.4h0.8v0.8h-0.8zM200.0,377.9h0.8v0.8h-0.8zM195.8,365.5h0.8v0.8h-0.8zM188.1,370.0h0.8v0.8h-0.8zM191.7,378.7h0.8v0.8h-0.8zM184.1,373.0h0.8v0.8h-0.8zM193.7,372.4h0.8v0.8h-0.8zM186.3,381.5h0.8v0.8h-0.8zM193.0,367.6h0.8v0.8h-0.8zM192.7,379.7h0.8v0.8h-0.8zM197.9,378.9h0.8v0.8h-0.8zM197.4,369.1h0.8v0.8h-0.8zM182.1,368.8h0.8v0.8h-0.8zM193.0,362.3h0.8v0.8h-0.8zM191.5,367.6h0.8v0.8h-0.8zM202.5,358.6h0.8v0.8h-0.8zM211.0,374.1h0.8v0.8h-0.8zM189.9,373.6h0.8v0.8h-0.8zM205.9,374.8h0.8v0.8h-0.8zM191.1,369.3h0.8v0.8h-0.8zM182.1,376.1h0.8v0.8h-0.8zM200.2,370.9h0.8v0.8h-0.8zM193.6,367.4h0.8v0.8h-0.8zM194.5,375.4h0.8v0.8h-0.8zM183.7,378.2h0.8v0.8h-0.8zM191.5,375.9h0.8v0.8h-0.8zM193.7,374.6h0.8v0.8h-0.8zM195.4,376.8h0.8v0.8h-0.8zM188.0,372.8h0.8v0.8h-0.8zM184.5,374.3h0.8v0.8h-0.8zM202.0,369.5h0.8v0.8h-0.8zM201.4,368.4h0.8v0.8h-0.8zM196.4,379.5h0.8v0.8h-0.8zM196.0,374.6h0.8v0.8h-0.8zM204.1,374.6h0.8v0.8h-0.8zM200.9,369.6h0.8v0.8h-0.8zM187.9,378.1h0.8v0.8h-0.8zM185.8,380.9h0.8v0.8h-0.8zM189.5,374.9h0.8v0.8h-0.8zM199.8,364.9h0.8v0.8h-0.8zM208.5,370.1h0.8v0.8h-0.8zM192.0,366.5h0.8v0.8h-0.8zM180.8,363.9h0.8v0.8h-0.8zM186.1,377.1h0.8v0.8h-0.8zM190.0,380.1h0.8v0.8h-0.8zM186.3,364.6h0.8v0.8h-0.8zM197.2,370.4h0.8v0.8h-0.8zM182.7,382.8h0.8v0.8h-0.8zM195.7,363.7h0.8v0.8h-0.8zM189.8,367.5h0.8v0.8h-0.8zM202.4,367.9h0.8v0.8h-0.8zM188.9,375.0h0.8v0.8h-0.8zM205.7,378.9h0.8v0.8h-0.8zM193.6,370.7h0.8v0.8h-0.8zM189.0,379.1h0.8v0.8h-0.8zM185.5,373.5h0.8v0.8h-0.8zM198.8,367.7h0.8v0.8h-0.8zM175.1,372.1h0.8v0.8h-0.8zM187.2,367.6h0.8v0.8h-0.8zM189.1,378.1h0.8v0.8h-0.8zM182.2,366.9h0.8v0.8h-0.8zM192.5,378.2h0.8v0.8h-0.8zM187.3,376.9h0.8v0.8h-0.8zM201.5,366.7h0.8v0.8h-0.8zM191.9,377.8h0.8v0.8h-0.8zM195.1,368.5h0.8v0.8h-0.8zM192.4,371.0h0.8v0.8h-0.8zM194.0,374.0h0.8v0.8h-0.8zM194.6,368.6h0.8v0.8h-0.8zM193.4,374.2h0.8v0.8h-0.8zM191.9,382.4h0.8v0.8h-0.8zM189.8,359.2h0.8v0.8h-0.8zM202.5,368.0h0.8v0.8h-0.8zM196.1,370.4h0.8v0.8h-0.8zM200.6,367.9h0.8v0.8h-0.8zM197.6,381.0h0.8v0.8h-0.8zM198.0,366.6h0.8v0.8h-0.8zM206.5,376.9h0.8v0.8h-0.8zM193.3,363.7h0.8v0.8h-0.8zM195.2,371.5h0.8v0.8h-0.8zM196.9,372.6h0.8v0.8h-0.8zM205.4,371.5h0.8v0.8h-0.8zM190.4,370.3h0.8v0.8h-0.8zM195.7,375.0h0.8v0.8h-0.8zM183.8,367.7h0.8v0.8h-0.8zM200.4,369.8h0.8v0.8h-0.8zM201.4,369.9h0.8v0.8h-0.8zM188.3,375.9h0.8v0.8h-0.8zM195.4,388.5h0.8v0.8h-0.8zM205.4,369.8h0.8v0.8h-0.8zM195.3,375.2h0.8v0.8h-0.8zM197.3,376.2h0.8v0.8h-0.8zM192.8,370.0h0.8v0.8h-0.8zM181.2,372.2h0.8v0.8h-0.8zM201.4,372.2h0.8v0.8h-0.8zM195.7,363.8h0.8v0.8h-0.8zM177.4,378.5h0.8v0.8h-0.8zM187.2,369.7h0.8v0.8h-0.8zM177.9,383.6h0.8v0.8h-0.8zM204.2,359.7h0.8v0.8h-0.8zM188.9,371.5h0.8v0.8h-0.8zM196.6,377.0h0.8v0.8h-0.8zM192.7,371.6h0.8v0.8h-0.8zM197.5,361.1h0.8v0.8h-0.8zM192.2,372.2h0.8v0.8h-0.8zM195.5,365.6h0.8v0.8h-0.8zM188.0,365.9h0.8v0.8h-0.8zM191.9,366.0h0.8v0.8h-0.8zM212.2,365.2h0.8v0.8h-0.8zM202.9,366.8h0.8v0.8h-0.8zM189.9,378.1h0.8v0.8h-0.8zM191.0,385.8h0.8v0.8h-0.8zM196.7,361.0h0.8v0.8h-0.8zM203.5,353.3h0.8v0.8h-0.8zM190.4,367.5h0.8v0.8h-0.8zM193.3,367.2h0.8v0.8h-0.8zM189.4,370.3h0.8v0.8h-0.8zM198.8,365.6h0.8v0.8h-0.8zM190.2,386.5h0.8v0.8h-0.8zM208.9,376.7h0.8v0.8h-0.8zM193.2,368.6h0.8v0.8h-0.8zM193.7,363.9h0.8v0.8h-0.8zM201.8,366.2h0.8v0.8h-0.8zM176.4,381.2h0.8v0.8h-0.8zM204.8,375.9h0.8v0.8h-0.8zM198.1,374.3h0.8v0.8h-0.8zM205.2,378.4h0.8v0.8h-0.8zM181.1,377.6h0.8v0.8h-0.8zM192.5,382.3h0.8v0.8h-0.8zM190.9,370.2h0.8v0.8h-0.8zM180.3,374.5h0.8v0.8h-0.8zM195.6,380.5h0.8v0.8h-0.8zM191.7,378.2h0.8v0.8h-0.8zM209.7,362.3h0.8v0.8h-0.8zM201.4,370.7h0.8v0.8h-0.8zM180.0,369.3h0.8v0.8h-0.8zM193.5,365.2h0.8v0.8h-0.8zM198.3,366.5h0.8v0.8h-0.8zM201.6,368.6h0.8v0.8h-0.8zM202.7,377.6h0.8v0.8h-0.8zM200.4,378.4h0.8v0.8h-0.8zM215.4,374.7h0.8v0.8h-0.8zM180.4,371.5h0.8v0.8h-0.8zM200.7,377.4h0.8v0.8h-0.8zM188.7,376.1h0.8v0.8h-0.8zM193.8,370.5h0.8v0.8h-0.8zM189.7,373.0h0.8v0.8h-0.8zM203.0,360.0h0.8v0.8h-0.8zM201.7,372.2h0.8v0.8h-0.8zM180.6,376.0h0.8v0.8h-0.8zM192.1,366.6h0.8v0.8h-0.8zM197.7,369.7h0.8v0.8h-0.8zM202.5,379.2h0.8v0.8h-0.8zM196.7,374.3h0.8v0.8h-0.8zM185.8,373.3h0.8v0.8h-0.8zM202.5,382.9h0.8v0.8h-0.8zM179.3,376.1h0.8v0.8h-0.8zM193.0,385.9h0.8v0.8h-0.8zM196.1,384.9h0.8v0.8h-0.8zM177.0,363.9h0.8v0.8h-0.8zM194.5,363.2h0.8v0.8h-0.8zM177.8,372.0h0.8v0.8h-0.8zM189.6,373.6h0.8v0.8h-0.8zM205.3,364.3h0.8v0.8h-0.8zM187.6,363.6h0.8v0.8h-0.8zM194.0,378.9h0.8v0.8h-0.8zM202.0,356.4h0.8v0.8h-0.8zM197.2,369.8h0.8v0.8h-0.8zM188.9,365.5h0.8v0.8h-0.8zM189.0,374.9h0.8v0.8h-0.8zM198.8,376.5h0.8v0.8h-0.8zM186.8,373.3h0.8v0.8h-0.8zM186.2,379.0h0.8v0.8h-0.8zM193.8,363.7h0.8v0.8h-0.8zM201.7,381.8h0.8v0.8h-0.8zM179.5,385.9h0.8v0.8h-0.8zM197.4,371.0h0.8v0.8h-0.8zM175.0,367.0h0.8v0.8h-0.8zM185.5,378.5h0.8v0.8h-0.8zM192.3,373.6h0.8v0.8h-0.8zM194.2,375.0h0.8v0.8h-0.8zM190.6,381.1h0.8v0.8h-0.8zM175.2,369.1h0.8v0.8h-0.8zM190.1,367.2h0.8v0.8h-0.8zM203.7,367.7h0.8v0.8h-0.8zM177.8,371.2h0.8v0.8h-0.8zM189.4,367.6h0.8v0.8h-0.8zM187.7,369.8h0.8v0.8h-0.8zM198.8,370.3h0.8v0.8h-0.8zM195.9,371.3h0.8v0.8h-0.8zM203.1,371.0h0.8v0.8h-0.8zM195.6,378.8h0.8v0.8h-0.8zM204.2,378.3h0.8v0.8h-0.8zM187.2,364.8h0.8v0.8h-0.8zM215.1,360.0h0.8v0.8h-0.8zM187.6,364.2h0.8v0.8h-0.8zM195.5,371.7h0.8v0.8h-0.8zM174.3,382.4h0.8v0.8h-0.8zM189.1,380.2h0.8v0.8h-0.8zM201.2,371.2h0.8v0.8h-0.8zM201.7,366.0h0.8v0.8h-0.8zM193.6,371.1h0.8v0.8h-0.8zM194.5,375.6h0.8v0.8h-0.8zM194.8,369.3h0.8v0.8h-0.8zM198.7,369.2h0.8v0.8h-0.8zM200.0,365.9h0.8v0.8h-0.8zM183.8,388.1h0.8v0.8h-0.8zM182.9,379.1h0.8v0.8h-0.8zM206.7,374.7h0.8v0.8h-0.8zM196.8,371.2h0.8v0.8h-0.8zM192.9,367.2h0.8v0.8h-0.8zM197.5,376.1h0.8v0.8h-0.8zM182.7,360.7h0.8v0.8h-0.8zM218.2,367.3h0.8v0.8h-0.8zM184.8,367.1h0.8v0.8h-0.8zM199.8,379.5h0.8v0.8h-0.8zM185.9,371.4h0.8v0.8h-0.8zM197.9,368.5h0.8v0.8h-0.8zM196.0,374.5h0.8v0.8h-0.8zM199.3,377.8h0.8v0.8h-0.8zM194.5,368.4h0.8v0.8h-0.8zM182.6,373.6h0.8v0.8h-0.8zM185.4,371.0h0.8v0.8h-0.8zM188.8,379.9h0.8v0.8h-0.8zM203.3,382.7h0.8v0.8h-0.8zM192.7,395.5h0.8v0.8h-0.8zM192.1,397.3h0.8v0.8h-0.8zM191.2,384.2h0.8v0.8h-0.8zM178.5,382.4h0.8v0.8h-0.8zM179.8,394.5h0.8v0.8h-0.8zM194.2,393.5h0.8v0.8h-0.8zM198.0,370.9h0.8v0.8h-0.8zM162.1,381.9h0.8v0.8h-0.8zM184.5,377.1h0.8v0.8h-0.8zM195.7,381.4h0.8v0.8h-0.8zM188.2,383.8h0.8v0.8h-0.8zM183.0,372.9h0.8v0.8h-0.8zM185.4,390.9h0.8v0.8h-0.8zM199.7,376.8h0.8v0.8h-0.8zM197.0,386.2h0.8v0.8h-0.8zM178.4,399.2h0.8v0.8h-0.8zM187.3,371.0h0.8v0.8h-0.8zM192.9,382.5h0.8v0.8h-0.8zM208.6,391.4h0.8v0.8h-0.8zM186.5,376.2h0.8v0.8h-0.8zM187.8,378.1h0.8v0.8h-0.8zM179.4,380.6h0.8v0.8h-0.8zM207.6,388.1h0.8v0.8h-0.8zM187.8,369.6h0.8v0.8h-0.8zM200.2,391.5h0.8v0.8h-0.8zM173.8,387.0h0.8v0.8h-0.8zM213.9,389.3h0.8v0.8h-0.8zM199.9,379.6h0.8v0.8h-0.8zM184.1,384.3h0.8v0.8h-0.8zM207.4,386.4h0.8v0.8h-0.8zM202.4,379.0h0.8v0.8h-0.8zM189.0,394.0h0.8v0.8h-0.8zM193.1,389.2h0.8v0.8h-0.8zM185.8,371.4h0.8v0.8h-0.8zM193.6,382.9h0.8v0.8h-0.8zM153.5,375.3h0.8v0.8h-0.8zM196.0,377.7h0.8v0.8h-0.8zM176.2,381.1h0.8v0.8h-0.8zM197.4,392.6h0.8v0.8h-0.8zM167.8,382.3h0.8v0.8h-0.8zM183.2,401.6h0.8v0.8h-0.8zM196.6,370.1h0.8v0.8h-0.8zM200.1,387.7h0.8v0.8h-0.8zM204.4,389.3h0.8v0.8h-0.8zM185.5,369.0h0.8v0.8h-0.8zM194.7,379.5h0.8v0.8h-0.8zM186.0,364.3h0.8v0.8h-0.8zM199.4,384.9h0.8v0.8h-0.8zM206.7,383.1h0.8v0.8h-0.8zM188.9,371.9h0.8v0.8h-0.8zM186.8,372.1h0.8v0.8h-0.8zM188.5,373.1h0.8v0.8h-0.8zM204.4,377.8h0.8v0.8h-0.8zM196.5,379.8h0.8v0.8h-0.8zM187.1,362.1h0.8v0.8h-0.8zM186.1,376.4h0.8v0.8h-0.8zM204.9,368.5h0.8v0.8h-0.8zM200.2,385.5h0.8v0.8h-0.8zM190.4,379.5h0.8v0.8h-0.8zM202.3,381.6h0.8v0.8h-0.8zM220.9,356.0h0.8v0.8h-0.8zM179.3,399.4h0.8v0.8h-0.8zM196.6,361.7h0.8v0.8h-0.8zM162.4,369.4h0.8v0.8h-0.8zM171.9,363.9h0.8v0.8h-0.8zM183.2,378.3h0.8v0.8h-0.8zM176.4,380.0h0.8v0.8h-0.8zM184.5,388.3h0.8v0.8h-0.8zM174.0,380.6h0.8v0.8h-0.8zM192.7,387.4h0.8v0.8h-0.8zM175.9,381.1h0.8v0.8h-0.8zM174.5,388.0h0.8v0.8h-0.8zM197.1,390.2h0.8v0.8h-0.8zM187.4,396.1h0.8v0.8h-0.8zM184.6,365.2h0.8v0.8h-0.8zM181.4,380.1h0.8v0.8h-0.8zM204.5,374.2h0.8v0.8h-0.8zM183.5,386.1h0.8v0.8h-0.8zM174.6,389.7h0.8v0.8h-0.8zM197.0,370.1h0.8v0.8h-0.8zM189.9,373.9h0.8v0.8h-0.8zM179.5,383.6h0.8v0.8h-0.8zM186.7,388.7h0.8v0.8h-0.8zM191.5,365.1h0.8v0.8h-0.8zM193.4,386.5h0.8v0.8h-0.8zM194.9,366.7h0.8v0.8h-0.8zM182.8,369.0h0.8v0.8h-0.8zM187.4,373.5h0.8v0.8h-0.8zM202.0,382.6h0.8v0.8h-0.8zM222.7,382.6h0.8v0.8h-0.8zM172.2,379.4h0.8v0.8h-0.8zM213.3,375.0h0.8v0.8h-0.8zM192.4,388.4h0.8v0.8h-0.8zM208.5,389.3h0.8v0.8h-0.8zM189.7,369.6h0.8v0.8h-0.8zM184.0,386.0h0.8v0.8h-0.8zM170.9,382.8h0.8v0.8h-0.8zM210.4,367.7h0.8v0.8h-0.8zM200.1,372.1h0.8v0.8h-0.8zM181.2,384.7h0.8v0.8h-0.8zM198.9,378.6h0.8v0.8h-0.8zM196.5,386.0h0.8v0.8h-0.8zM212.8,370.0h0.8v0.8h-0.8zM178.8,396.8h0.8v0.8h-0.8zM201.3,373.2h0.8v0.8h-0.8zM198.7,394.5h0.8v0.8h-0.8zM186.4,383.8h0.8v0.8h-0.8zM202.1,373.6h0.8v0.8h-0.8zM177.2,388.6h0.8v0.8h-0.8zM190.8,382.0h0.8v0.8h-0.8zM181.3,386.6h0.8v0.8h-0.8zM203.1,379.9h0.8v0.8h-0.8zM191.7,371.8h0.8v0.8h-0.8zM183.3,369.0h0.8v0.8h-0.8zM191.9,381.8h0.8v0.8h-0.8zM182.9,369.4h0.8v0.8h-0.8zM188.6,386.3h0.8v0.8h-0.8zM208.0,362.9h0.8v0.8h-0.8zM192.7,392.3h0.8v0.8h-0.8zM180.9,377.2h0.8v0.8h-0.8zM201.9,381.2h0.8v0.8h-0.8zM180.3,371.0h0.8v0.8h-0.8zM184.4,380.3h0.8v0.8h-0.8zM193.4,387.8h0.8v0.8h-0.8zM180.5,385.3h0.8v0.8h-0.8zM196.1,377.1h0.8v0.8h-0.8zM200.3,378.9h0.8v0.8h-0.8zM196.8,374.3h0.8v0.8h-0.8zM180.4,376.2h0.8v0.8h-0.8zM212.9,382.4h0.8v0.8h-0.8zM194.6,373.1h0.8v0.8h-0.8zM193.3,369.6h0.8v0.8h-0.8zM195.1,379.6h0.8v0.8h-0.8zM184.2,385.2h0.8v0.8h-0.8zM175.3,369.9h0.8v0.8h-0.8zM199.7,369.7h0.8v0.8h-0.8zM173.6,392.2h0.8v0.8h-0.8zM198.7,384.0h0.8v0.8h-0.8zM191.1,370.2h0.8v0.8h-0.8zM196.4,379.6h0.8v0.8h-0.8zM182.4,382.3h0.8v0.8h-0.8zM196.5,379.8h0.8v0.8h-0.8zM201.1,384.2h0.8v0.8h-0.8zM177.1,385.7h0.8v0.8h-0.8zM186.1,394.5h0.8v0.8h-0.8zM155.1,380.1h0.8v0.8h-0.8zM198.3,389.3h0.8v0.8h-0.8zM178.7,381.4h0.8v0.8h-0.8zM196.5,374.9h0.8v0.8h-0.8zM199.5,373.5h0.8v0.8h-0.8zM181.9,391.8h0.8v0.8h-0.8zM181.3,377.9h0.8v0.8h-0.8zM218.2,389.8h0.8v0.8h-0.8zM186.6,383.8h0.8v0.8h-0.8zM182.2,371.3h0.8v0.8h-0.8zM185.6,387.8h0.8v0.8h-0.8zM197.4,372.7h0.8v0.8h-0.8zM163.3,393.7h0.8v0.8h-0.8zM182.6,388.0h0.8v0.8h-0.8zM200.7,391.1h0.8v0.8h-0.8zM183.9,372.0h0.8v0.8h-0.8zM183.2,384.5h0.8v0.8h-0.8zM194.4,370.0h0.8v0.8h-0.8zM197.0,371.9h0.8v0.8h-0.8zM190.6,378.0h0.8v0.8h-0.8zM183.0,368.1h0.8v0.8h-0.8zM176.6,381.4h0.8v0.8h-0.8zM193.4,385.4h0.8v0.8h-0.8zM179.0,369.8h0.8v0.8h-0.8zM189.9,393.5h0.8v0.8h-0.8zM202.4,388.9h0.8v0.8h-0.8zM198.1,389.4h0.8v0.8h-0.8zM184.6,391.4h0.8v0.8h-0.8zM200.6,387.4h0.8v0.8h-0.8zM185.8,377.2h0.8v0.8h-0.8zM184.0,393.7h0.8v0.8h-0.8zM174.1,377.7h0.8v0.8h-0.8zM194.0,368.1h0.8v0.8h-0.8zM193.3,389.8h0.8v0.8h-0.8zM198.8,369.1h0.8v0.8h-0.8zM191.1,371.3h0.8v0.8h-0.8zM159.1,390.3h0.8v0.8h-0.8zM199.0,367.5h0.8v0.8h-0.8zM204.6,387.1h0.8v0.8h-0.8zM219.9,382.5h0.8v0.8h-0.8zM211.1,376.1h0.8v0.8h-0.8zM188.2,398.2h0.8v0.8h-0.8zM201.4,395.0h0.8v0.8h-0.8zM188.7,380.1h0.8v0.8h-0.8zM201.5,373.0h0.8v0.8h-0.8zM200.3,367.1h0.8v0.8h-0.8zM166.1,378.2h0.8v0.8h-0.8zM198.8,398.5h0.8v0.8h-0.8zM189.4,382.1h0.8v0.8h-0.8zM188.5,383.3h0.8v0.8h-0.8zM206.9,384.7h0.8v0.8h-0.8zM196.3,383.5h0.8v0.8h-0.8zM188.2,387.6h0.8v0.8h-0.8zM215.1,368.7h0.8v0.8h-0.8zM217.2,357.8h0.8v0.8h-0.8zM169.9,387.8h0.8v0.8h-0.8zM185.3,401.3h0.8v0.8h-0.8zM198.6,365.6h0.8v0.8h-0.8zM191.7,384.1h0.8v0.8h-0.8zM205.2,373.8h0.8v0.8h-0.8zM171.7,369.6h0.8v0.8h-0.8zM203.1,390.5h0.8v0.8h-0.8zM169.2,385.4h0.8v0.8h-0.8zM182.8,382.4h0.8v0.8h-0.8zM200.8,377.4h0.8v0.8h-0.8zM190.1,362.8h0.8v0.8h-0.8zM191.2,394.4h0.8v0.8h-0.8zM183.7,384.7h0.8v0.8h-0.8zM197.3,402.2h0.8v0.8h-0.8zM180.7,389.1h0.8v0.8h-0.8zM188.0,380.4h0.8v0.8h-0.8zM191.4,364.8h0.8v0.8h-0.8zM199.4,373.4h0.8v0.8h-0.8zM193.8,388.2h0.8v0.8h-0.8zM188.8,366.8h0.8v0.8h-0.8zM178.0,387.4h0.8v0.8h-0.8zM207.0,396.1h0.8v0.8h-0.8zM176.0,383.2h0.8v0.8h-0.8zM192.8,374.0h0.8v0.8h-0.8zM188.9,371.8h0.8v0.8h-0.8zM193.1,376.2h0.8v0.8h-0.8zM188.0,393.4h0.8v0.8h-0.8zM178.6,382.1h0.8v0.8h-0.8zM183.1,377.7h0.8v0.8h-0.8zM190.2,380.4h0.8v0.8h-0.8zM193.8,373.2h0.8v0.8h-0.8zM198.7,369.3h0.8v0.8h-0.8zM176.6,373.5h0.8v0.8h-0.8zM206.4,390.4h0.8v0.8h-0.8zM184.3,398.5h0.8v0.8h-0.8zM195.2,366.3h0.8v0.8h-0.8zM196.3,370.7h0.8v0.8h-0.8zM176.4,360.9h0.8v0.8h-0.8zM193.1,384.0h0.8v0.8h-0.8zM178.0,386.9h0.8v0.8h-0.8zM196.2,385.0h0.8v0.8h-0.8zM199.3,372.7h0.8v0.8h-0.8zM195.7,384.5h0.8v0.8h-0.8zM183.6,377.9h0.8v0.8h-0.8zM175.3,383.1h0.8v0.8h-0.8zM176.9,385.2h0.8v0.8h-0.8zM192.1,378.6h0.8v0.8h-0.8zM198.6,377.0h0.8v0.8h-0.8zM212.0,382.4h0.8v0.8h-0.8zM176.6,376.3h0.8v0.8h-0.8zM195.4,395.6h0.8v0.8h-0.8zM183.8,394.7h0.8v0.8h-0.8zM193.2,392.0h0.8v0.8h-0.8zM183.6,373.5h0.8v0.8h-0.8zM186.3,380.9h0.8v0.8h-0.8zM178.8,369.9h0.8v0.8h-0.8zM200.1,389.1h0.8v0.8h-0.8zM190.3,376.0h0.8v0.8h-0.8zM204.5,363.3h0.8v0.8h-0.8zM200.0,381.7h0.8v0.8h-0.8zM199.3,383.1h0.8v0.8h-0.8zM203.5,384.8h0.8v0.8h-0.8zM190.9,388.0h0.8v0.8h-0.8zM179.0,383.2h0.8v0.8h-0.8zM195.8,365.4h0.8v0.8h-0.8zM197.7,384.0h0.8v0.8h-0.8zM202.2,379.8h0.8v0.8h-0.8zM206.2,388.0h0.8v0.8h-0.8zM198.9,349.5h0.8v0.8h-0.8zM191.8,382.5h0.8v0.8h-0.8zM191.5,370.6h0.8v0.8h-0.8zM202.4,375.4h0.8v0.8h-0.8zM189.0,383.6h0.8v0.8h-0.8zM205.3,375.5h0.8v0.8h-0.8zM178.2,384.7h0.8v0.8h-0.8zM193.7,362.6h0.8v0.8h-0.8zM183.0,381.6h0.8v0.8h-0.8zM168.7,392.6h0.8v0.8h-0.8zM175.3,388.8h0.8v0.8h-0.8zM177.8,377.3h0.8v0.8h-0.8zM182.4,377.6h0.8v0.8h-0.8zM167.1,375.4h0.8v0.8h-0.8zM201.6,383.6h0.8v0.8h-0.8zM216.6,360.8h0.8v0.8h-0.8zM208.7,379.9h0.8v0.8h-0.8zM174.4,368.2h0.8v0.8h-0.8zM184.3,381.6h0.8v0.8h-0.8zM184.7,394.5h0.8v0.8h-0.8zM189.7,374.0h0.8v0.8h-0.8zM179.3,370.4h0.8v0.8h-0.8zM189.4,378.6h0.8v0.8h-0.8zM180.4,383.9h0.8v0.8h-0.8zM181.5,376.0h0.8v0.8h-0.8zM204.0,389.1h0.8v0.8h-0.8zM185.7,396.5h0.8v0.8h-0.8zM185.4,391.5h0.8v0.8h-0.8zM193.2,375.7h0.8v0.8h-0.8zM190.3,376.7h0.8v0.8h-0.8zM193.5,379.1h0.8v0.8h-0.8zM188.9,371.5h0.8v0.8h-0.8zM196.3,388.1h0.8v0.8h-0.8zM177.8,381.0h0.8v0.8h-0.8zM202.0,387.2h0.8v0.8h-0.8zM180.8,387.5h0.8v0.8h-0.8zM182.9,392.8h0.8v0.8h-0.8zM197.2,371.7h0.8v0.8h-0.8zM191.2,372.7h0.8v0.8h-0.8zM193.8,381.7h0.8v0.8h-0.8zM166.4,387.9h0.8v0.8h-0.8zM194.9,389.4h0.8v0.8h-0.8zM191.7,372.7h0.8v0.8h-0.8zM199.7,388.7h0.8v0.8h-0.8zM164.2,392.0h0.8v0.8h-0.8zM198.4,375.5h0.8v0.8h-0.8zM178.7,377.5h0.8v0.8h-0.8zM204.4,381.3h0.8v0.8h-0.8zM200.2,375.5h0.8v0.8h-0.8zM173.8,373.9h0.8v0.8h-0.8zM217.5,386.3h0.8v0.8h-0.8zM199.2,384.5h0.8v0.8h-0.8zM190.4,378.4h0.8v0.8h-0.8zM186.2,383.9h0.8v0.8h-0.8zM188.7,380.6h0.8v0.8h-0.8zM196.1,385.1h0.8v0.8h-0.8zM195.7,381.8h0.8v0.8h-0.8zM196.1,390.3h0.8v0.8h-0.8zM206.3,392.1h0.8v0.8h-0.8zM182.5,384.3h0.8v0.8h-0.8zM192.3,397.7h0.8v0.8h-0.8zM210.9,383.1h0.8v0.8h-0.8zM215.9,391.1h0.8v0.8h-0.8zM176.5,388.0h0.8v0.8h-0.8zM194.7,376.7h0.8v0.8h-0.8zM208.9,384.4h0.8v0.8h-0.8zM173.6,373.7h0.8v0.8h-0.8zM188.3,391.0h0.8v0.8h-0.8zM196.2,388.9h0.8v0.8h-0.8zM187.6,392.5h0.8v0.8h-0.8zM187.8,387.5h0.8v0.8h-0.8zM187.5,377.3h0.8v0.8h-0.8zM195.6,369.5h0.8v0.8h-0.8zM191.7,384.6h0.8v0.8h-0.8zM175.9,380.7h0.8v0.8h-0.8zM188.6,371.5h0.8v0.8h-0.8zM168.1,392.1h0.8v0.8h-0.8zM221.1,360.3h0.8v0.8h-0.8zM200.1,377.0h0.8v0.8h-0.8zM197.8,367.9h0.8v0.8h-0.8zM177.0,367.7h0.8v0.8h-0.8zM186.1,379.2h0.8v0.8h-0.8zM196.1,375.4h0.8v0.8h-0.8zM189.9,393.0h0.8v0.8h-0.8zM195.8,389.5h0.8v0.8h-0.8zM189.6,376.2h0.8v0.8h-0.8zM187.7,376.7h0.8v0.8h-0.8zM172.7,383.5h0.8v0.8h-0.8zM189.5,377.7h0.8v0.8h-0.8zM202.6,401.2h0.8v0.8h-0.8zM180.6,387.1h0.8v0.8h-0.8zM177.1,391.3h0.8v0.8h-0.8zM189.8,366.8h0.8v0.8h-0.8zM177.4,388.1h0.8v0.8h-0.8zM182.8,380.2h0.8v0.8h-0.8zM222.1,370.4h0.8v0.8h-0.8zM197.7,351.1h0.8v0.8h-0.8zM167.2,385.7h0.8v0.8h-0.8zM192.1,395.3h0.8v0.8h-0.8zM184.4,359.3h0.8v0.8h-0.8zM204.0,362.7h0.8v0.8h-0.8zM188.4,396.5h0.8v0.8h-0.8zM180.0,382.2h0.8v0.8h-0.8zM175.5,393.5h0.8v0.8h-0.8zM204.4,364.3h0.8v0.8h-0.8zM187.1,375.5h0.8v0.8h-0.8zM200.1,389.4h0.8v0.8h-0.8zM193.6,388.1h0.8v0.8h-0.8zM196.8,382.9h0.8v0.8h-0.8zM189.0,373.8h0.8v0.8h-0.8zM197.4,372.9h0.8v0.8h-0.8zM197.2,373.3h0.8v0.8h-0.8zM189.5,389.5h0.8v0.8h-0.8zM204.4,379.9h0.8v0.8h-0.8zM189.4,381.3h0.8v0.8h-0.8zM198.8,372.7h0.8v0.8h-0.8zM223.2,377.9h0.8v0.8h-0.8zM192.2,387.1h0.8v0.8h-0.8zM196.7,380.4h0.8v0.8h-0.8zM186.7,368.6h0.8v0.8h-0.8zM181.4,380.7h0.8v0.8h-0.8zM164.3,402.2h0.8v0.8h-0.8zM195.9,376.7h0.8v0.8h-0.8zM192.4,378.5h0.8v0.8h-0.8zM185.3,364.2h0.8v0.8h-0.8zM185.5,369.5h0.8v0.8h-0.8zM193.7,375.0h0.8v0.8h-0.8zM181.2,379.1h0.8v0.8h-0.8zM184.2,384.2h0.8v0.8h-0.8zM186.6,368.8h0.8v0.8h-0.8zM194.2,367.1h0.8v0.8h-0.8zM167.6,369.7h0.8v0.8h-0.8zM197.2,368.6h0.8v0.8h-0.8zM177.5,400.0h0.8v0.8h-0.8zM186.8,383.6h0.8v0.8h-0.8zM181.0,393.4h0.8v0.8h-0.8zM207.5,373.4h0.8v0.8h-0.8zM175.3,362.7h0.8v0.8h-0.8zM193.3,370.1h0.8v0.8h-0.8zM170.1,385.4h0.8v0.8h-0.8zM188.4,384.4h0.8v0.8h-0.8zM174.0,369.9h0.8v0.8h-0.8zM191.1,394.2h0.8v0.8h-0.8zM196.1,376.8h0.8v0.8h-0.8zM200.6,387.6h0.8v0.8h-0.8zM175.2,400.8h0.8v0.8h-0.8zM204.7,378.9h0.8v0.8h-0.8zM195.7,367.2h0.8v0.8h-0.8zM206.6,400.9h0.8v0.8h-0.8zM193.2,383.3h0.8v0.8h-0.8zM188.6,380.8h0.8v0.8h-0.8zM177.9,382.3h0.8v0.8h-0.8zM203.5,376.5h0.8v0.8h-0.8zM203.9,366.2h0.8v0.8h-0.8zM182.9,377.2h0.8v0.8h-0.8zM185.9,390.7h0.8v0.8h-0.8zM176.4,389.4h0.8v0.8h-0.8zM179.7,380.7h0.8v0.8h-0.8zM157.4,363.2h0.8v0.8h-0.8zM194.3,387.9h0.8v0.8h-0.8zM196.5,380.1h0.8v0.8h-0.8zM203.4,382.6h0.8v0.8h-0.8zM201.1,367.2h0.8v0.8h-0.8zM214.5,374.7h0.8v0.8h-0.8zM176.5,374.9h0.8v0.8h-0.8zM203.4,380.0h0.8v0.8h-0.8zM189.6,393.1h0.8v0.8h-0.8zM205.5,383.7h0.8v0.8h-0.8zM180.4,388.5h0.8v0.8h-0.8zM186.0,382.9h0.8v0.8h-0.8zM188.3,363.8h0.8v0.8h-0.8zM185.8,377.9h0.8v0.8h-0.8zM170.0,370.8h0.8v0.8h-0.8zM212.2,377.3h0.8v0.8h-0.8zM215.9,383.7h0.8v0.8h-0.8zM185.7,374.1h0.8v0.8h-0.8zM211.7,370.3h0.8v0.8h-0.8zM198.5,375.3h0.8v0.8h-0.8zM179.9,376.8h0.8v0.8h-0.8zM184.8,395.6h0.8v0.8h-0.8zM182.4,375.2h0.8v0.8h-0.8zM162.8,376.5h0.8v0.8h-0.8zM165.2,373.7h0.8v0.8h-0.8zM154.7,371.2h0.8v0.8h-0.8zM204.8,381.0h0.8v0.8h-0.8zM171.5,376.8h0.8v0.8h-0.8zM208.3,376.4h0.8v0.8h-0.8zM173.1,383.3h0.8v0.8h-0.8zM171.5,378.6h0.8v0.8h-0.8zM192.9,379.5h0.8v0.8h-0.8zM179.8,398.1h0.8v0.8h-0.8zM211.8,384.6h0.8v0.8h-0.8zM208.9,381.4h0.8v0.8h-0.8zM193.8,373.5h0.8v0.8h-0.8zM184.2,385.2h0.8v0.8h-0.8zM186.5,369.6h0.8v0.8h-0.8zM182.0,375.7h0.8v0.8h-0.8zM163.9,370.2h0.8v0.8h-0.8zM196.6,357.3h0.8v0.8h-0.8zM191.2,391.3h0.8v0.8h-0.8zM182.1,386.4h0.8v0.8h-0.8zM193.5,374.5h0.8v0.8h-0.8zM170.5,375.9h0.8v0.8h-0.8zM193.2,379.3h0.8v0.8h-0.8zM189.0,391.0h0.8v0.8h-0.8zM197.9,377.5h0.8v0.8h-0.8zM197.8,371.8h0.8v0.8h-0.8zM163.1,375.9h0.8v0.8h-0.8zM201.3,382.6h0.8v0.8h-0.8zM194.7,384.0h0.8v0.8h-0.8zM184.4,394.2h0.8v0.8h-0.8zM185.2,378.3h0.8v0.8h-0.8zM195.7,369.4h0.8v0.8h-0.8zM205.5,392.5h0.8v0.8h-0.8zM194.7,374.0h0.8v0.8h-0.8zM212.4,372.3h0.8v0.8h-0.8zM191.0,380.6h0.8v0.8h-0.8zM206.9,366.2h0.8v0.8h-0.8zM208.6,387.9h0.8v0.8h-0.8zM193.5,367.0h0.8v0.8h-0.8zM209.1,355.6h0.8v0.8h-0.8zM179.6,396.5h0.8v0.8h-0.8zM200.6,375.6h0.8v0.8h-0.8zM183.1,367.9h0.8v0.8h-0.8z" fill="#1a1a1a" fill-opacity="0.7"/>
<path d="M239.5,372.7h0.8v0.8h-0.8zM183.1,351.9h0.8v0.8h-0.8zM209.4,344.3h0.8v0.8h-0.8zM240.6,394.0h0.8v0.8h-0.8zM179.8,381.3h0.8v0.8h-0.8zM222.2,343.4h0.8v0.8h-0.8zM232.6,385.9h0.8v0.8h-0.8zM186.1,341.8h0.8v0.8h-0.8zM183.7,386.2h0.8v0.8h-0.8zM201.9,389.1h0.8v0.8h-0.8zM171.7,342.3h0.8v0.8h-0.8zM190.3,393.4h0.8v0.8h-0.8zM171.9,340.2h0.8v0.8h-0.8zM230.1,341.3h0.8v0.8h-0.8zM221.7,340.8h0.8v0.8h-0.8zM180.3,379.1h0.8v0.8h-0.8zM241.9,362.3h0.8v0.8h-0.8zM200.2,337.4h0.8v0.8h-0.8zM189.5,351.3h0.8v0.8h-0.8zM233.6,382.5h0.8v0.8h-0.8zM233.2,370.4h0.8v0.8h-0.8zM224.8,343.7h0.8v0.8h-0.8zM193.9,354.7h0.8v0.8h-0.8zM183.8,384.1h0.8v0.8h-0.8zM177.1,356.8h0.8v0.8h-0.8zM183.8,392.3h0.8v0.8h-0.8zM218.8,367.0h0.8v0.8h-0.8zM193.4,396.1h0.8v0.8h-0.8zM248.4,365.0h0.8v0.8h-0.8zM211.8,392.2h0.8v0.8h-0.8zM181.2,352.4h0.8v0.8h-0.8zM166.1,368.4h0.8v0.8h-0.8zM231.6,345.7h0.8v0.8h-0.8zM198.5,400.7h0.8v0.8h-0.8zM203.3,360.6h0.8v0.8h-0.8zM238.6,394.2h0.8v0.8h-0.8zM193.0,343.5h0.8v0.8h-0.8zM218.6,384.2h0.8v0.8h-0.8zM246.8,378.9h0.8v0.8h-0.8zM186.3,369.3h0.8v0.8h-0.8zM221.0,360.7h0.8v0.8h-0.8zM235.1,352.6h0.8v0.8h-0.8zM244.8,332.7h0.8v0.8h-0.8zM231.3,355.1h0.8v0.8h-0.8zM249.1,337.5h0.8v0.8h-0.8zM248.2,346.6h0.8v0.8h-0.8zM230.1,354.5h0.8v0.8h-0.8zM245.3,340.6h0.8v0.8h-0.8zM253.2,339.3h0.8v0.8h-0.8zM222.5,351.8h0.8v0.8h-0.8zM248.5,334.8h0.8v0.8h-0.8zM223.0,367.2h0.8v0.8h-0.8zM225.6,352.6h0.8v0.8h-0.8zM227.8,358.0h0.8v0.8h-0.8zM226.2,361.7h0.8v0.8h-0.8zM232.6,351.9h0.8v0.8h-0.8zM221.9,358.6h0.8v0.8h-0.8zM249.9,335.1h0.8v0.8h-0.8zM218.4,370.0h0.8v0.8h-0.8zM247.2,341.1h0.8v0.8h-0.8zM239.8,344.3h0.8v0.8h-0.8zM236.6,351.5h0.8v0.8h-0.8zM238.8,343.5h0.8v0.8h-0.8zM251.7,335.5h0.8v0.8h-0.8zM211.0,365.3h0.8v0.8h-0.8zM227.7,362.6h0.8v0.8h-0.8zM215.0,363.3h0.8v0.8h-0.8zM222.2,360.5h0.8v0.8h-0.8zM224.7,368.5h0.8v0.8h-0.8zM231.1,350.8h0.8v0.8h-0.8zM240.7,339.1h0.8v0.8h-0.8zM227.0,355.0h0.8v0.8h-0.8zM249.8,332.5h0.8v0.8h-0.8zM242.3,349.3h0.8v0.8h-0.8zM223.6,360.9h0.8v0.8h-0.8zM236.6,349.8h0.8v0.8h-0.8zM241.3,347.2h0.8v0.8h-0.8zM239.7,350.5h0.8v0.8h-0.8zM228.2,352.9h0.8v0.8h-0.8zM250.2,341.3h0.8v0.8h-0.8zM211.3,367.2h0.8v0.8h-0.8zM243.2,345.2h0.8v0.8h-0.8zM238.1,340.9h0.8v0.8h-0.8zM240.4,353.9h0.8v0.8h-0.8zM222.6,361.8h0.8v0.8h-0.8zM220.7,355.4h0.8v0.8h-0.8zM232.7,349.5h0.8v0.8h-0.8zM241.8,350.6h0.8v0.8h-0.8zM237.2,346.7h0.8v0.8h-0.8zM225.3,359.9h0.8v0.8h-0.8zM227.1,353.0h0.8v0.8h-0.8zM220.7,361.6h0.8v0.8h-0.8zM244.7,345.0h0.8v0.8h-0.8zM220.7,360.4h0.8v0.8h-0.8zM252.0,338.2h0.8v0.8h-0.8zM241.7,339.7h0.8v0.8h-0.8zM234.2,357.9h0.8v0.8h-0.8zM212.9,371.3h0.8v0.8h-0.8zM213.8,365.5h0.8v0.8h-0.8zM217.0,365.9h0.8v0.8h-0.8zM217.4,367.1h0.8v0.8h-0.8zM225.5,364.1h0.8v0.8h-0.8zM220.2,367.4h0.8v0.8h-0.8zM233.4,350.5h0.8v0.8h-0.8zM235.8,346.0h0.8v0.8h-0.8zM234.1,354.6h0.8v0.8h-0.8zM232.4,350.6h0.8v0.8h-0.8zM223.8,361.6h0.8v0.8h-0.8z" fill="#1a1a1a" fill-opacity="0.3"/>
<rect x="150.70" y="318.40" width="105.80" height="84.60" stroke="#999" stroke-width="0.9" fill="none"/>
<text x="177.15" y="408.60" font-size="4.8" font-weight="400" text-anchor="middle" fill="#333">10<tspan font-size="3.3" dy="-1.8">1</tspan></text>
<text x="0.00" y="0.00" transform="translate(147.40,381.85) rotate(-90)" font-size="4.8" font-weight="400" text-anchor="middle" fill="#333">10<tspan font-size="3.3" dy="-1.8">1</tspan></text>
<text x="203.60" y="408.60" font-size="4.8" font-weight="400" text-anchor="middle" fill="#333">10<tspan font-size="3.3" dy="-1.8">2</tspan></text>
<text x="0.00" y="0.00" transform="translate(147.40,360.70) rotate(-90)" font-size="4.8" font-weight="400" text-anchor="middle" fill="#333">10<tspan font-size="3.3" dy="-1.8">2</tspan></text>
<text x="230.05" y="408.60" font-size="4.8" font-weight="400" text-anchor="middle" fill="#333">10<tspan font-size="3.3" dy="-1.8">3</tspan></text>
<text x="0.00" y="0.00" transform="translate(147.40,339.55) rotate(-90)" font-size="4.8" font-weight="400" text-anchor="middle" fill="#333">10<tspan font-size="3.3" dy="-1.8">3</tspan></text>
<text x="256.50" y="408.60" font-size="4.8" font-weight="400" text-anchor="middle" fill="#333">10<tspan font-size="3.3" dy="-1.8">4</tspan></text>
<text x="0.00" y="0.00" transform="translate(147.40,318.40) rotate(-90)" font-size="4.8" font-weight="400" text-anchor="middle" fill="#333">10<tspan font-size="3.3" dy="-1.8">4</tspan></text>
<rect x="182.60" y="357.40" width="25.90" height="19.20" stroke="#555" stroke-width="1.3" fill="none"/>
<rect x="201.50" y="377.20" width="25.90" height="25.20" stroke="#222" stroke-width="1.5" fill="none"/>
<text x="195.55" y="341.30" font-size="8.9" font-weight="400" text-anchor="middle" fill="#666" stroke="#666" stroke-width="0.3">A1</text>
<line x1="195.55" y1="343.20" x2="195.55" y2="352.50" stroke="#666" stroke-width="1.1"/>
<path d="M193.15,350.20 L195.55,354.80 L197.95,350.20 Z" fill="#666" stroke="none" stroke-width="1" stroke-linejoin="round"/>
<text x="230.80" y="362.80" font-size="8.9" font-weight="400" text-anchor="middle" fill="#111" stroke="#111" stroke-width="0.3">A2</text>
<line x1="228.10" y1="364.90" x2="223.00" y2="372.80" stroke="#111" stroke-width="1.2"/>
<path d="M221.80,374.70 L221.50,369.90 L225.60,372.40 Z" fill="#111" stroke="none" stroke-width="1" stroke-linejoin="round"/>
<text x="204.40" y="419.60" font-size="8.95" font-weight="700" text-anchor="middle" fill="#000">FITC – anti-fibrinogen</text>
<text x="328.90" y="314.90" font-size="8.75" font-weight="700" text-anchor="middle" fill="#000">Thrombin + H<tspan font-size="6.2" dy="1.8">2</tspan><tspan dy="-1.8">O</tspan><tspan font-size="6.2" dy="1.8">2</tspan><tspan dy="-1.8"> (200 µM)</tspan></text>
<path d="M349.9,394.9h0.8v0.8h-0.8zM336.7,386.0h0.8v0.8h-0.8zM333.3,382.8h0.8v0.8h-0.8zM320.3,385.7h0.8v0.8h-0.8zM329.5,394.1h0.8v0.8h-0.8zM332.4,383.8h0.8v0.8h-0.8zM329.2,382.8h0.8v0.8h-0.8zM340.2,386.4h0.8v0.8h-0.8zM334.5,385.5h0.8v0.8h-0.8zM334.5,390.7h0.8v0.8h-0.8zM340.9,393.4h0.8v0.8h-0.8zM341.6,397.3h0.8v0.8h-0.8zM344.3,391.8h0.8v0.8h-0.8zM337.8,384.4h0.8v0.8h-0.8zM337.8,398.2h0.8v0.8h-0.8zM316.8,391.7h0.8v0.8h-0.8zM330.9,393.4h0.8v0.8h-0.8zM342.2,385.1h0.8v0.8h-0.8zM351.6,383.0h0.8v0.8h-0.8zM338.2,395.0h0.8v0.8h-0.8zM338.8,385.8h0.8v0.8h-0.8zM343.1,377.2h0.8v0.8h-0.8zM335.0,378.2h0.8v0.8h-0.8zM351.4,395.8h0.8v0.8h-0.8zM346.3,393.4h0.8v0.8h-0.8zM333.9,381.6h0.8v0.8h-0.8zM331.8,381.3h0.8v0.8h-0.8zM335.1,385.3h0.8v0.8h-0.8zM342.3,384.0h0.8v0.8h-0.8zM338.1,379.9h0.8v0.8h-0.8zM337.7,381.9h0.8v0.8h-0.8zM333.3,387.0h0.8v0.8h-0.8zM331.8,387.8h0.8v0.8h-0.8zM342.7,378.9h0.8v0.8h-0.8zM315.8,397.1h0.8v0.8h-0.8zM354.0,380.2h0.8v0.8h-0.8zM345.9,391.6h0.8v0.8h-0.8zM333.5,378.4h0.8v0.8h-0.8zM353.2,387.3h0.8v0.8h-0.8zM325.1,391.5h0.8v0.8h-0.8zM337.6,382.2h0.8v0.8h-0.8zM352.9,388.6h0.8v0.8h-0.8zM334.8,389.2h0.8v0.8h-0.8zM352.0,402.3h0.8v0.8h-0.8zM334.7,382.7h0.8v0.8h-0.8zM345.4,397.8h0.8v0.8h-0.8zM329.7,380.1h0.8v0.8h-0.8zM340.7,391.9h0.8v0.8h-0.8zM335.7,387.1h0.8v0.8h-0.8zM332.7,388.6h0.8v0.8h-0.8zM338.8,386.9h0.8v0.8h-0.8zM349.8,382.4h0.8v0.8h-0.8zM334.8,385.4h0.8v0.8h-0.8zM331.9,380.2h0.8v0.8h-0.8zM330.6,387.9h0.8v0.8h-0.8zM320.7,387.6h0.8v0.8h-0.8zM346.2,396.4h0.8v0.8h-0.8zM329.6,390.3h0.8v0.8h-0.8zM335.7,394.7h0.8v0.8h-0.8zM328.8,380.9h0.8v0.8h-0.8zM342.5,381.6h0.8v0.8h-0.8zM311.1,387.7h0.8v0.8h-0.8zM335.4,388.5h0.8v0.8h-0.8zM331.8,392.7h0.8v0.8h-0.8zM341.0,391.7h0.8v0.8h-0.8zM352.7,389.1h0.8v0.8h-0.8zM318.7,390.0h0.8v0.8h-0.8zM330.9,377.4h0.8v0.8h-0.8zM335.4,381.6h0.8v0.8h-0.8zM334.4,382.9h0.8v0.8h-0.8zM325.0,385.1h0.8v0.8h-0.8zM335.9,383.2h0.8v0.8h-0.8zM326.8,398.4h0.8v0.8h-0.8zM342.5,369.3h0.8v0.8h-0.8zM339.1,390.1h0.8v0.8h-0.8zM345.1,393.1h0.8v0.8h-0.8zM334.8,377.7h0.8v0.8h-0.8zM336.9,379.2h0.8v0.8h-0.8zM318.4,383.0h0.8v0.8h-0.8zM328.1,380.0h0.8v0.8h-0.8zM327.2,383.8h0.8v0.8h-0.8zM335.5,378.6h0.8v0.8h-0.8zM340.9,391.9h0.8v0.8h-0.8zM327.6,391.3h0.8v0.8h-0.8zM328.1,385.5h0.8v0.8h-0.8zM328.5,392.3h0.8v0.8h-0.8zM320.3,401.5h0.8v0.8h-0.8zM336.3,387.9h0.8v0.8h-0.8zM333.7,380.8h0.8v0.8h-0.8zM324.9,391.0h0.8v0.8h-0.8zM331.1,391.3h0.8v0.8h-0.8zM351.3,387.2h0.8v0.8h-0.8zM341.2,384.7h0.8v0.8h-0.8zM328.2,389.2h0.8v0.8h-0.8zM350.9,391.0h0.8v0.8h-0.8zM338.2,382.8h0.8v0.8h-0.8zM334.7,397.7h0.8v0.8h-0.8zM337.7,379.9h0.8v0.8h-0.8zM330.6,390.8h0.8v0.8h-0.8zM339.9,374.2h0.8v0.8h-0.8zM337.6,384.5h0.8v0.8h-0.8zM315.8,378.1h0.8v0.8h-0.8zM333.2,380.2h0.8v0.8h-0.8zM336.8,389.0h0.8v0.8h-0.8zM334.7,384.8h0.8v0.8h-0.8zM339.4,377.7h0.8v0.8h-0.8zM318.5,391.0h0.8v0.8h-0.8zM345.2,382.6h0.8v0.8h-0.8zM343.7,391.8h0.8v0.8h-0.8zM329.8,390.2h0.8v0.8h-0.8zM346.8,381.6h0.8v0.8h-0.8zM339.2,390.3h0.8v0.8h-0.8zM329.3,395.1h0.8v0.8h-0.8zM331.2,394.0h0.8v0.8h-0.8zM337.1,383.2h0.8v0.8h-0.8zM333.7,381.5h0.8v0.8h-0.8zM353.6,380.1h0.8v0.8h-0.8zM330.0,395.8h0.8v0.8h-0.8zM341.4,391.2h0.8v0.8h-0.8zM326.9,381.3h0.8v0.8h-0.8zM333.9,388.9h0.8v0.8h-0.8zM342.4,392.7h0.8v0.8h-0.8zM338.3,392.1h0.8v0.8h-0.8zM322.4,378.6h0.8v0.8h-0.8zM329.0,387.3h0.8v0.8h-0.8zM329.6,385.0h0.8v0.8h-0.8zM336.0,383.4h0.8v0.8h-0.8zM334.4,394.5h0.8v0.8h-0.8zM339.1,384.8h0.8v0.8h-0.8zM336.6,390.5h0.8v0.8h-0.8zM336.7,393.0h0.8v0.8h-0.8zM324.4,395.1h0.8v0.8h-0.8zM327.6,392.2h0.8v0.8h-0.8zM324.1,395.2h0.8v0.8h-0.8zM342.0,382.7h0.8v0.8h-0.8zM340.4,384.4h0.8v0.8h-0.8zM344.8,385.4h0.8v0.8h-0.8zM331.8,381.6h0.8v0.8h-0.8zM334.5,390.9h0.8v0.8h-0.8zM340.8,382.7h0.8v0.8h-0.8zM332.3,380.5h0.8v0.8h-0.8zM329.7,387.0h0.8v0.8h-0.8zM338.3,392.5h0.8v0.8h-0.8zM330.9,380.0h0.8v0.8h-0.8zM347.7,386.4h0.8v0.8h-0.8zM332.3,388.6h0.8v0.8h-0.8zM334.7,391.9h0.8v0.8h-0.8zM339.6,379.3h0.8v0.8h-0.8zM332.3,392.0h0.8v0.8h-0.8zM333.4,392.7h0.8v0.8h-0.8zM327.0,397.7h0.8v0.8h-0.8zM338.1,377.0h0.8v0.8h-0.8zM343.8,380.1h0.8v0.8h-0.8zM336.9,388.5h0.8v0.8h-0.8zM338.3,391.5h0.8v0.8h-0.8zM320.5,386.3h0.8v0.8h-0.8zM327.8,384.3h0.8v0.8h-0.8zM335.2,381.2h0.8v0.8h-0.8zM356.8,390.9h0.8v0.8h-0.8zM334.5,400.3h0.8v0.8h-0.8zM343.7,393.1h0.8v0.8h-0.8zM324.7,399.2h0.8v0.8h-0.8zM334.0,390.3h0.8v0.8h-0.8zM339.7,398.4h0.8v0.8h-0.8zM346.5,385.1h0.8v0.8h-0.8zM332.4,382.6h0.8v0.8h-0.8zM334.6,390.2h0.8v0.8h-0.8zM337.5,386.9h0.8v0.8h-0.8zM329.4,383.7h0.8v0.8h-0.8zM338.4,393.6h0.8v0.8h-0.8zM340.6,384.7h0.8v0.8h-0.8zM340.8,394.9h0.8v0.8h-0.8zM329.8,381.1h0.8v0.8h-0.8zM342.1,399.0h0.8v0.8h-0.8zM338.9,389.6h0.8v0.8h-0.8zM335.6,395.3h0.8v0.8h-0.8zM325.0,389.4h0.8v0.8h-0.8zM332.6,373.5h0.8v0.8h-0.8zM332.8,387.9h0.8v0.8h-0.8zM335.8,386.1h0.8v0.8h-0.8zM333.2,390.8h0.8v0.8h-0.8zM323.9,381.2h0.8v0.8h-0.8zM339.7,391.0h0.8v0.8h-0.8zM342.3,378.5h0.8v0.8h-0.8zM344.6,392.9h0.8v0.8h-0.8zM337.3,380.5h0.8v0.8h-0.8zM341.7,394.9h0.8v0.8h-0.8zM333.3,390.7h0.8v0.8h-0.8zM339.2,392.8h0.8v0.8h-0.8zM340.6,391.6h0.8v0.8h-0.8zM325.5,385.4h0.8v0.8h-0.8zM323.3,395.1h0.8v0.8h-0.8zM341.2,389.9h0.8v0.8h-0.8zM349.7,380.6h0.8v0.8h-0.8zM347.1,380.9h0.8v0.8h-0.8zM321.4,385.8h0.8v0.8h-0.8zM331.5,386.1h0.8v0.8h-0.8zM335.0,390.3h0.8v0.8h-0.8zM340.1,382.7h0.8v0.8h-0.8zM326.8,392.6h0.8v0.8h-0.8zM345.2,392.6h0.8v0.8h-0.8zM339.1,375.5h0.8v0.8h-0.8zM340.2,382.9h0.8v0.8h-0.8zM343.4,395.6h0.8v0.8h-0.8zM332.4,381.5h0.8v0.8h-0.8zM332.5,390.7h0.8v0.8h-0.8zM339.5,380.5h0.8v0.8h-0.8zM337.9,381.4h0.8v0.8h-0.8zM330.9,394.9h0.8v0.8h-0.8zM334.6,373.5h0.8v0.8h-0.8zM327.7,396.1h0.8v0.8h-0.8zM322.0,396.0h0.8v0.8h-0.8zM335.7,378.8h0.8v0.8h-0.8zM330.9,391.7h0.8v0.8h-0.8zM345.9,378.4h0.8v0.8h-0.8zM333.9,390.0h0.8v0.8h-0.8zM342.1,403.0h0.8v0.8h-0.8zM349.2,389.1h0.8v0.8h-0.8zM325.1,386.6h0.8v0.8h-0.8zM327.1,386.3h0.8v0.8h-0.8zM331.8,386.6h0.8v0.8h-0.8zM338.4,385.5h0.8v0.8h-0.8zM342.8,394.3h0.8v0.8h-0.8zM325.9,378.7h0.8v0.8h-0.8zM328.6,373.4h0.8v0.8h-0.8zM336.2,387.5h0.8v0.8h-0.8zM336.2,398.8h0.8v0.8h-0.8zM340.7,393.6h0.8v0.8h-0.8zM335.7,383.4h0.8v0.8h-0.8zM318.1,386.3h0.8v0.8h-0.8zM335.0,380.6h0.8v0.8h-0.8zM328.7,388.5h0.8v0.8h-0.8zM348.6,383.3h0.8v0.8h-0.8zM332.2,382.4h0.8v0.8h-0.8zM334.0,379.7h0.8v0.8h-0.8zM337.4,381.0h0.8v0.8h-0.8zM344.0,379.7h0.8v0.8h-0.8zM325.3,390.7h0.8v0.8h-0.8zM338.4,379.3h0.8v0.8h-0.8zM336.0,387.0h0.8v0.8h-0.8zM345.2,380.1h0.8v0.8h-0.8zM319.5,389.5h0.8v0.8h-0.8zM339.4,391.8h0.8v0.8h-0.8zM331.7,375.4h0.8v0.8h-0.8zM333.6,385.8h0.8v0.8h-0.8zM337.4,389.0h0.8v0.8h-0.8zM328.7,385.3h0.8v0.8h-0.8zM334.5,394.6h0.8v0.8h-0.8zM350.5,392.9h0.8v0.8h-0.8zM340.5,379.6h0.8v0.8h-0.8zM328.6,389.8h0.8v0.8h-0.8zM329.2,384.1h0.8v0.8h-0.8zM354.9,383.1h0.8v0.8h-0.8zM332.9,375.1h0.8v0.8h-0.8zM338.7,388.6h0.8v0.8h-0.8zM332.7,390.4h0.8v0.8h-0.8zM314.4,398.2h0.8v0.8h-0.8zM345.3,371.9h0.8v0.8h-0.8zM336.1,391.9h0.8v0.8h-0.8zM341.4,387.6h0.8v0.8h-0.8zM344.3,389.4h0.8v0.8h-0.8zM331.3,397.1h0.8v0.8h-0.8zM325.1,384.8h0.8v0.8h-0.8zM331.1,398.0h0.8v0.8h-0.8zM330.4,377.9h0.8v0.8h-0.8zM326.3,389.4h0.8v0.8h-0.8zM334.6,389.2h0.8v0.8h-0.8zM324.3,390.2h0.8v0.8h-0.8zM341.3,399.0h0.8v0.8h-0.8zM346.5,377.3h0.8v0.8h-0.8zM338.8,379.9h0.8v0.8h-0.8zM337.9,391.8h0.8v0.8h-0.8zM333.3,368.2h0.8v0.8h-0.8zM335.8,387.7h0.8v0.8h-0.8zM330.6,392.6h0.8v0.8h-0.8zM331.9,385.7h0.8v0.8h-0.8zM339.1,381.9h0.8v0.8h-0.8zM341.1,383.5h0.8v0.8h-0.8zM333.4,391.4h0.8v0.8h-0.8zM345.5,384.5h0.8v0.8h-0.8zM336.4,385.0h0.8v0.8h-0.8zM322.5,385.5h0.8v0.8h-0.8zM353.8,384.1h0.8v0.8h-0.8zM341.2,390.7h0.8v0.8h-0.8zM345.0,386.4h0.8v0.8h-0.8zM341.0,385.4h0.8v0.8h-0.8zM354.2,388.3h0.8v0.8h-0.8zM334.2,395.9h0.8v0.8h-0.8zM328.4,394.6h0.8v0.8h-0.8zM352.8,379.3h0.8v0.8h-0.8zM339.5,383.3h0.8v0.8h-0.8zM335.8,386.1h0.8v0.8h-0.8zM318.5,396.8h0.8v0.8h-0.8zM334.9,393.7h0.8v0.8h-0.8zM330.0,385.3h0.8v0.8h-0.8zM332.1,378.2h0.8v0.8h-0.8zM350.0,394.5h0.8v0.8h-0.8zM346.2,390.8h0.8v0.8h-0.8zM332.5,390.6h0.8v0.8h-0.8zM359.7,396.2h0.8v0.8h-0.8zM337.8,380.0h0.8v0.8h-0.8zM340.9,369.8h0.8v0.8h-0.8zM343.9,382.9h0.8v0.8h-0.8zM333.6,395.4h0.8v0.8h-0.8zM348.0,385.0h0.8v0.8h-0.8zM327.6,376.7h0.8v0.8h-0.8zM326.5,392.7h0.8v0.8h-0.8zM338.2,383.4h0.8v0.8h-0.8zM336.2,386.0h0.8v0.8h-0.8zM324.9,386.1h0.8v0.8h-0.8zM346.0,398.4h0.8v0.8h-0.8zM330.3,389.3h0.8v0.8h-0.8zM326.0,392.8h0.8v0.8h-0.8zM334.5,387.6h0.8v0.8h-0.8zM345.7,392.2h0.8v0.8h-0.8zM339.2,390.7h0.8v0.8h-0.8zM340.7,374.4h0.8v0.8h-0.8zM338.7,384.2h0.8v0.8h-0.8zM348.5,386.5h0.8v0.8h-0.8zM328.9,384.1h0.8v0.8h-0.8zM343.5,387.4h0.8v0.8h-0.8zM335.9,396.1h0.8v0.8h-0.8zM340.5,386.3h0.8v0.8h-0.8zM346.1,391.1h0.8v0.8h-0.8zM339.5,389.9h0.8v0.8h-0.8zM313.4,396.4h0.8v0.8h-0.8zM331.9,392.8h0.8v0.8h-0.8zM330.4,388.3h0.8v0.8h-0.8zM324.9,394.1h0.8v0.8h-0.8zM328.7,398.5h0.8v0.8h-0.8zM336.6,390.0h0.8v0.8h-0.8zM329.0,382.6h0.8v0.8h-0.8zM338.4,385.5h0.8v0.8h-0.8zM334.8,377.4h0.8v0.8h-0.8zM332.2,390.1h0.8v0.8h-0.8zM324.8,380.9h0.8v0.8h-0.8zM326.2,389.3h0.8v0.8h-0.8zM330.8,379.2h0.8v0.8h-0.8zM330.5,389.7h0.8v0.8h-0.8zM325.2,390.0h0.8v0.8h-0.8zM355.7,372.4h0.8v0.8h-0.8zM328.4,385.8h0.8v0.8h-0.8zM337.0,396.4h0.8v0.8h-0.8zM334.6,382.3h0.8v0.8h-0.8zM324.0,364.7h0.8v0.8h-0.8zM320.4,398.5h0.8v0.8h-0.8zM324.4,392.0h0.8v0.8h-0.8zM338.7,383.6h0.8v0.8h-0.8zM341.4,389.1h0.8v0.8h-0.8zM322.0,390.0h0.8v0.8h-0.8zM322.5,377.1h0.8v0.8h-0.8zM334.9,387.0h0.8v0.8h-0.8zM337.1,387.9h0.8v0.8h-0.8zM333.4,388.1h0.8v0.8h-0.8zM323.9,386.7h0.8v0.8h-0.8zM339.7,399.5h0.8v0.8h-0.8zM317.7,397.5h0.8v0.8h-0.8zM328.1,395.1h0.8v0.8h-0.8zM329.0,386.4h0.8v0.8h-0.8zM335.2,386.7h0.8v0.8h-0.8zM335.1,393.2h0.8v0.8h-0.8zM342.0,381.4h0.8v0.8h-0.8zM341.7,388.0h0.8v0.8h-0.8zM323.8,380.5h0.8v0.8h-0.8zM345.9,393.8h0.8v0.8h-0.8zM327.5,393.1h0.8v0.8h-0.8zM327.5,391.4h0.8v0.8h-0.8zM353.0,384.9h0.8v0.8h-0.8zM346.4,381.0h0.8v0.8h-0.8zM333.7,383.9h0.8v0.8h-0.8zM349.8,388.8h0.8v0.8h-0.8zM329.8,379.4h0.8v0.8h-0.8zM332.7,392.4h0.8v0.8h-0.8zM343.8,382.6h0.8v0.8h-0.8zM342.3,387.4h0.8v0.8h-0.8zM333.3,389.5h0.8v0.8h-0.8zM352.2,383.9h0.8v0.8h-0.8zM335.4,386.7h0.8v0.8h-0.8zM331.7,389.2h0.8v0.8h-0.8zM332.9,375.5h0.8v0.8h-0.8zM338.6,375.5h0.8v0.8h-0.8zM336.0,388.0h0.8v0.8h-0.8zM347.9,393.3h0.8v0.8h-0.8zM339.7,379.8h0.8v0.8h-0.8zM336.6,400.3h0.8v0.8h-0.8zM340.2,390.9h0.8v0.8h-0.8zM357.9,385.6h0.8v0.8h-0.8zM323.3,394.1h0.8v0.8h-0.8zM338.4,378.7h0.8v0.8h-0.8zM348.9,385.2h0.8v0.8h-0.8zM353.5,378.1h0.8v0.8h-0.8zM346.7,391.8h0.8v0.8h-0.8zM336.1,393.1h0.8v0.8h-0.8zM343.0,389.3h0.8v0.8h-0.8zM354.3,402.3h0.8v0.8h-0.8zM322.6,388.6h0.8v0.8h-0.8zM321.5,387.0h0.8v0.8h-0.8zM330.8,393.6h0.8v0.8h-0.8zM334.6,376.9h0.8v0.8h-0.8zM340.3,383.1h0.8v0.8h-0.8zM342.7,377.8h0.8v0.8h-0.8zM327.7,384.9h0.8v0.8h-0.8zM332.2,386.5h0.8v0.8h-0.8zM340.8,390.1h0.8v0.8h-0.8zM336.9,388.6h0.8v0.8h-0.8zM332.4,376.9h0.8v0.8h-0.8zM331.0,384.6h0.8v0.8h-0.8zM332.5,375.2h0.8v0.8h-0.8zM330.9,384.4h0.8v0.8h-0.8zM327.7,385.3h0.8v0.8h-0.8zM334.5,391.1h0.8v0.8h-0.8zM342.6,379.6h0.8v0.8h-0.8zM339.6,385.2h0.8v0.8h-0.8zM334.2,395.3h0.8v0.8h-0.8zM341.4,388.8h0.8v0.8h-0.8zM326.2,386.1h0.8v0.8h-0.8zM343.9,381.8h0.8v0.8h-0.8zM328.2,381.1h0.8v0.8h-0.8zM336.8,380.9h0.8v0.8h-0.8zM357.5,385.5h0.8v0.8h-0.8zM336.2,383.9h0.8v0.8h-0.8zM339.4,390.0h0.8v0.8h-0.8zM332.8,384.5h0.8v0.8h-0.8zM344.4,387.5h0.8v0.8h-0.8zM341.3,387.0h0.8v0.8h-0.8zM331.1,390.7h0.8v0.8h-0.8zM341.3,386.9h0.8v0.8h-0.8zM335.4,393.2h0.8v0.8h-0.8zM328.6,391.1h0.8v0.8h-0.8zM334.4,388.5h0.8v0.8h-0.8zM341.9,377.4h0.8v0.8h-0.8zM334.5,387.4h0.8v0.8h-0.8zM336.9,401.4h0.8v0.8h-0.8zM329.9,388.9h0.8v0.8h-0.8zM342.3,373.9h0.8v0.8h-0.8zM341.9,392.2h0.8v0.8h-0.8zM331.4,386.4h0.8v0.8h-0.8zM330.4,396.1h0.8v0.8h-0.8zM329.9,379.4h0.8v0.8h-0.8zM329.4,383.3h0.8v0.8h-0.8zM336.4,387.7h0.8v0.8h-0.8zM343.5,375.2h0.8v0.8h-0.8zM337.7,385.6h0.8v0.8h-0.8zM335.7,383.2h0.8v0.8h-0.8zM332.0,391.2h0.8v0.8h-0.8zM344.5,377.0h0.8v0.8h-0.8zM339.0,381.3h0.8v0.8h-0.8zM340.8,384.8h0.8v0.8h-0.8zM324.4,383.7h0.8v0.8h-0.8zM335.9,393.8h0.8v0.8h-0.8zM346.6,393.4h0.8v0.8h-0.8zM336.8,390.5h0.8v0.8h-0.8zM333.1,396.9h0.8v0.8h-0.8zM328.7,381.6h0.8v0.8h-0.8zM343.2,377.7h0.8v0.8h-0.8zM337.6,395.1h0.8v0.8h-0.8zM338.0,391.4h0.8v0.8h-0.8zM337.0,389.3h0.8v0.8h-0.8zM325.3,399.4h0.8v0.8h-0.8zM333.2,385.1h0.8v0.8h-0.8zM337.2,395.9h0.8v0.8h-0.8zM333.3,387.2h0.8v0.8h-0.8zM343.7,391.4h0.8v0.8h-0.8zM332.4,385.9h0.8v0.8h-0.8zM335.9,382.3h0.8v0.8h-0.8zM326.8,383.6h0.8v0.8h-0.8zM324.7,401.8h0.8v0.8h-0.8zM328.4,392.1h0.8v0.8h-0.8zM320.3,385.3h0.8v0.8h-0.8zM348.8,385.3h0.8v0.8h-0.8zM322.7,385.8h0.8v0.8h-0.8zM322.0,375.5h0.8v0.8h-0.8zM348.4,384.1h0.8v0.8h-0.8zM337.3,395.6h0.8v0.8h-0.8zM329.7,389.6h0.8v0.8h-0.8zM336.2,382.6h0.8v0.8h-0.8zM332.8,380.0h0.8v0.8h-0.8zM323.9,392.9h0.8v0.8h-0.8zM331.3,367.7h0.8v0.8h-0.8zM349.4,386.0h0.8v0.8h-0.8zM334.0,397.3h0.8v0.8h-0.8zM316.1,389.3h0.8v0.8h-0.8zM328.0,390.0h0.8v0.8h-0.8zM344.0,387.8h0.8v0.8h-0.8zM328.4,386.7h0.8v0.8h-0.8zM342.4,391.4h0.8v0.8h-0.8zM339.5,388.7h0.8v0.8h-0.8zM328.1,390.0h0.8v0.8h-0.8zM325.3,388.1h0.8v0.8h-0.8zM331.8,389.9h0.8v0.8h-0.8zM345.3,387.4h0.8v0.8h-0.8zM341.5,385.7h0.8v0.8h-0.8zM330.9,392.4h0.8v0.8h-0.8zM334.6,379.5h0.8v0.8h-0.8zM335.3,386.6h0.8v0.8h-0.8zM338.7,390.4h0.8v0.8h-0.8zM329.6,392.7h0.8v0.8h-0.8zM319.5,400.1h0.8v0.8h-0.8zM325.4,391.4h0.8v0.8h-0.8zM346.3,384.2h0.8v0.8h-0.8zM322.6,381.3h0.8v0.8h-0.8zM334.0,389.0h0.8v0.8h-0.8zM344.6,384.3h0.8v0.8h-0.8zM332.5,386.3h0.8v0.8h-0.8zM334.8,380.9h0.8v0.8h-0.8zM331.0,383.4h0.8v0.8h-0.8zM341.8,383.6h0.8v0.8h-0.8zM332.4,401.5h0.8v0.8h-0.8zM336.2,392.4h0.8v0.8h-0.8zM312.7,390.7h0.8v0.8h-0.8zM339.2,390.0h0.8v0.8h-0.8zM336.0,384.7h0.8v0.8h-0.8zM323.1,394.3h0.8v0.8h-0.8zM331.8,376.0h0.8v0.8h-0.8zM347.5,395.7h0.8v0.8h-0.8zM325.9,397.7h0.8v0.8h-0.8zM318.5,391.2h0.8v0.8h-0.8zM329.0,388.5h0.8v0.8h-0.8zM340.6,393.2h0.8v0.8h-0.8zM339.6,388.1h0.8v0.8h-0.8zM342.5,380.5h0.8v0.8h-0.8zM338.1,384.2h0.8v0.8h-0.8zM326.2,389.0h0.8v0.8h-0.8zM340.0,390.2h0.8v0.8h-0.8zM346.4,381.3h0.8v0.8h-0.8zM324.1,387.7h0.8v0.8h-0.8zM347.8,373.5h0.8v0.8h-0.8zM333.0,386.3h0.8v0.8h-0.8zM338.4,384.1h0.8v0.8h-0.8zM335.4,390.9h0.8v0.8h-0.8zM324.5,387.5h0.8v0.8h-0.8zM326.3,389.9h0.8v0.8h-0.8zM343.1,394.9h0.8v0.8h-0.8zM328.4,386.5h0.8v0.8h-0.8zM344.6,372.8h0.8v0.8h-0.8zM355.6,376.5h0.8v0.8h-0.8zM342.3,389.5h0.8v0.8h-0.8zM329.2,389.4h0.8v0.8h-0.8zM334.4,372.9h0.8v0.8h-0.8zM341.2,392.9h0.8v0.8h-0.8zM351.5,383.1h0.8v0.8h-0.8zM331.5,388.6h0.8v0.8h-0.8zM325.8,390.3h0.8v0.8h-0.8zM336.2,383.0h0.8v0.8h-0.8zM346.1,387.1h0.8v0.8h-0.8zM346.1,392.6h0.8v0.8h-0.8zM318.9,395.7h0.8v0.8h-0.8zM337.8,400.6h0.8v0.8h-0.8zM335.4,389.3h0.8v0.8h-0.8zM337.8,388.4h0.8v0.8h-0.8zM318.7,400.2h0.8v0.8h-0.8zM327.3,396.4h0.8v0.8h-0.8zM344.5,388.2h0.8v0.8h-0.8zM331.6,386.9h0.8v0.8h-0.8zM327.5,384.4h0.8v0.8h-0.8zM328.0,399.0h0.8v0.8h-0.8zM333.6,384.3h0.8v0.8h-0.8zM337.1,388.5h0.8v0.8h-0.8zM334.1,396.9h0.8v0.8h-0.8zM355.7,382.1h0.8v0.8h-0.8zM337.8,384.5h0.8v0.8h-0.8zM338.6,376.1h0.8v0.8h-0.8zM309.1,393.3h0.8v0.8h-0.8zM331.8,385.6h0.8v0.8h-0.8zM336.0,390.7h0.8v0.8h-0.8zM326.5,382.0h0.8v0.8h-0.8zM335.8,386.5h0.8v0.8h-0.8zM356.5,386.6h0.8v0.8h-0.8zM334.6,392.6h0.8v0.8h-0.8zM337.7,384.7h0.8v0.8h-0.8zM339.6,373.2h0.8v0.8h-0.8zM325.0,384.7h0.8v0.8h-0.8zM346.0,386.7h0.8v0.8h-0.8zM324.7,380.6h0.8v0.8h-0.8zM331.2,387.3h0.8v0.8h-0.8zM337.1,396.7h0.8v0.8h-0.8zM338.4,388.5h0.8v0.8h-0.8zM335.0,399.2h0.8v0.8h-0.8zM327.9,386.1h0.8v0.8h-0.8zM345.4,384.4h0.8v0.8h-0.8zM335.8,395.8h0.8v0.8h-0.8zM339.8,381.8h0.8v0.8h-0.8zM325.5,391.6h0.8v0.8h-0.8zM346.5,385.6h0.8v0.8h-0.8zM339.5,394.9h0.8v0.8h-0.8zM331.2,394.5h0.8v0.8h-0.8zM334.7,386.0h0.8v0.8h-0.8zM328.1,387.6h0.8v0.8h-0.8zM323.0,381.1h0.8v0.8h-0.8zM324.0,390.2h0.8v0.8h-0.8zM333.6,392.4h0.8v0.8h-0.8zM325.2,387.6h0.8v0.8h-0.8zM337.4,398.3h0.8v0.8h-0.8zM327.6,387.9h0.8v0.8h-0.8zM334.7,400.1h0.8v0.8h-0.8zM350.5,376.9h0.8v0.8h-0.8zM335.1,389.9h0.8v0.8h-0.8zM333.9,386.3h0.8v0.8h-0.8zM342.6,378.8h0.8v0.8h-0.8zM330.6,393.8h0.8v0.8h-0.8zM333.2,383.9h0.8v0.8h-0.8zM325.8,396.9h0.8v0.8h-0.8zM330.6,379.6h0.8v0.8h-0.8zM339.5,389.8h0.8v0.8h-0.8zM335.0,389.0h0.8v0.8h-0.8zM328.4,381.1h0.8v0.8h-0.8zM344.1,382.6h0.8v0.8h-0.8zM342.9,383.0h0.8v0.8h-0.8zM328.6,387.2h0.8v0.8h-0.8zM316.8,392.3h0.8v0.8h-0.8zM334.6,387.4h0.8v0.8h-0.8zM331.9,391.1h0.8v0.8h-0.8zM328.3,382.3h0.8v0.8h-0.8zM317.0,391.1h0.8v0.8h-0.8zM335.4,384.4h0.8v0.8h-0.8zM347.3,388.3h0.8v0.8h-0.8zM325.5,382.5h0.8v0.8h-0.8zM332.9,387.5h0.8v0.8h-0.8zM320.6,392.3h0.8v0.8h-0.8zM333.2,386.3h0.8v0.8h-0.8zM347.4,396.5h0.8v0.8h-0.8zM330.5,386.6h0.8v0.8h-0.8zM330.2,373.1h0.8v0.8h-0.8zM342.7,379.4h0.8v0.8h-0.8zM336.3,384.5h0.8v0.8h-0.8zM320.9,391.3h0.8v0.8h-0.8zM332.7,390.6h0.8v0.8h-0.8zM343.4,378.8h0.8v0.8h-0.8zM338.0,387.2h0.8v0.8h-0.8zM316.5,383.0h0.8v0.8h-0.8zM323.0,379.1h0.8v0.8h-0.8zM343.4,392.0h0.8v0.8h-0.8zM338.1,392.5h0.8v0.8h-0.8zM340.4,392.9h0.8v0.8h-0.8zM346.3,389.2h0.8v0.8h-0.8zM324.6,376.6h0.8v0.8h-0.8zM335.4,384.6h0.8v0.8h-0.8zM341.9,380.6h0.8v0.8h-0.8zM343.7,383.5h0.8v0.8h-0.8zM346.0,391.5h0.8v0.8h-0.8zM345.8,403.4h0.8v0.8h-0.8zM318.3,385.2h0.8v0.8h-0.8zM328.0,388.2h0.8v0.8h-0.8zM328.5,378.9h0.8v0.8h-0.8zM328.9,389.2h0.8v0.8h-0.8zM324.0,393.3h0.8v0.8h-0.8zM335.7,391.1h0.8v0.8h-0.8zM323.4,389.3h0.8v0.8h-0.8zM340.9,389.0h0.8v0.8h-0.8zM341.3,385.8h0.8v0.8h-0.8zM336.0,381.6h0.8v0.8h-0.8zM343.0,390.6h0.8v0.8h-0.8zM344.5,378.0h0.8v0.8h-0.8zM347.0,389.4h0.8v0.8h-0.8zM328.4,382.6h0.8v0.8h-0.8zM330.1,380.7h0.8v0.8h-0.8zM340.1,396.3h0.8v0.8h-0.8zM339.8,391.1h0.8v0.8h-0.8zM341.3,379.8h0.8v0.8h-0.8zM322.5,387.6h0.8v0.8h-0.8zM327.2,388.3h0.8v0.8h-0.8zM333.5,387.0h0.8v0.8h-0.8zM333.7,388.9h0.8v0.8h-0.8zM352.6,385.4h0.8v0.8h-0.8zM332.4,384.3h0.8v0.8h-0.8zM339.1,382.7h0.8v0.8h-0.8zM339.0,377.8h0.8v0.8h-0.8zM324.7,381.4h0.8v0.8h-0.8zM333.4,400.0h0.8v0.8h-0.8zM322.1,385.4h0.8v0.8h-0.8zM338.4,382.7h0.8v0.8h-0.8zM328.7,391.2h0.8v0.8h-0.8zM349.5,392.4h0.8v0.8h-0.8zM331.4,380.5h0.8v0.8h-0.8zM319.3,384.8h0.8v0.8h-0.8zM341.9,389.4h0.8v0.8h-0.8zM331.2,380.0h0.8v0.8h-0.8zM328.9,387.9h0.8v0.8h-0.8zM337.1,396.9h0.8v0.8h-0.8zM324.9,401.4h0.8v0.8h-0.8zM352.4,375.6h0.8v0.8h-0.8zM333.5,395.4h0.8v0.8h-0.8zM341.1,390.6h0.8v0.8h-0.8zM343.5,390.2h0.8v0.8h-0.8zM348.2,383.2h0.8v0.8h-0.8zM330.9,391.7h0.8v0.8h-0.8zM337.5,386.2h0.8v0.8h-0.8zM343.9,375.7h0.8v0.8h-0.8zM352.9,392.7h0.8v0.8h-0.8zM330.3,382.4h0.8v0.8h-0.8zM325.3,392.3h0.8v0.8h-0.8zM319.2,386.4h0.8v0.8h-0.8zM340.7,383.2h0.8v0.8h-0.8zM349.0,386.8h0.8v0.8h-0.8zM328.1,380.1h0.8v0.8h-0.8zM337.9,388.3h0.8v0.8h-0.8zM341.2,383.0h0.8v0.8h-0.8zM313.9,392.2h0.8v0.8h-0.8zM338.9,395.9h0.8v0.8h-0.8zM344.6,389.7h0.8v0.8h-0.8zM334.8,383.4h0.8v0.8h-0.8zM336.4,369.6h0.8v0.8h-0.8zM341.6,376.3h0.8v0.8h-0.8zM347.1,382.8h0.8v0.8h-0.8zM320.8,384.8h0.8v0.8h-0.8zM339.0,378.1h0.8v0.8h-0.8zM332.6,383.8h0.8v0.8h-0.8zM331.3,392.7h0.8v0.8h-0.8zM343.9,377.5h0.8v0.8h-0.8zM337.7,387.9h0.8v0.8h-0.8zM333.6,389.8h0.8v0.8h-0.8zM342.3,384.7h0.8v0.8h-0.8zM323.1,396.8h0.8v0.8h-0.8zM324.0,386.3h0.8v0.8h-0.8zM326.8,390.7h0.8v0.8h-0.8zM341.3,385.3h0.8v0.8h-0.8zM326.1,386.8h0.8v0.8h-0.8zM337.9,390.0h0.8v0.8h-0.8zM320.8,388.0h0.8v0.8h-0.8zM332.5,388.5h0.8v0.8h-0.8zM339.1,385.5h0.8v0.8h-0.8zM336.9,385.8h0.8v0.8h-0.8zM332.4,384.5h0.8v0.8h-0.8zM334.5,394.3h0.8v0.8h-0.8zM335.4,380.1h0.8v0.8h-0.8zM328.0,391.2h0.8v0.8h-0.8zM328.6,387.1h0.8v0.8h-0.8zM340.1,385.6h0.8v0.8h-0.8zM341.9,393.0h0.8v0.8h-0.8zM327.5,396.5h0.8v0.8h-0.8zM346.7,388.8h0.8v0.8h-0.8zM323.0,399.8h0.8v0.8h-0.8zM332.4,394.3h0.8v0.8h-0.8zM331.0,395.2h0.8v0.8h-0.8zM332.8,397.3h0.8v0.8h-0.8zM324.4,393.7h0.8v0.8h-0.8zM332.8,394.6h0.8v0.8h-0.8zM323.2,384.6h0.8v0.8h-0.8zM330.2,381.9h0.8v0.8h-0.8zM338.4,388.7h0.8v0.8h-0.8zM338.2,390.4h0.8v0.8h-0.8zM339.9,395.9h0.8v0.8h-0.8zM325.6,400.4h0.8v0.8h-0.8zM335.7,392.2h0.8v0.8h-0.8zM336.9,390.6h0.8v0.8h-0.8zM330.7,379.7h0.8v0.8h-0.8zM335.0,399.5h0.8v0.8h-0.8zM331.3,381.3h0.8v0.8h-0.8zM326.0,381.9h0.8v0.8h-0.8zM331.8,388.6h0.8v0.8h-0.8zM322.3,400.5h0.8v0.8h-0.8zM327.1,394.8h0.8v0.8h-0.8zM346.8,392.4h0.8v0.8h-0.8zM340.2,382.0h0.8v0.8h-0.8zM328.4,393.6h0.8v0.8h-0.8zM335.0,391.9h0.8v0.8h-0.8zM343.5,394.0h0.8v0.8h-0.8zM315.1,388.0h0.8v0.8h-0.8zM350.9,382.8h0.8v0.8h-0.8zM349.4,381.7h0.8v0.8h-0.8zM339.3,387.5h0.8v0.8h-0.8zM351.2,383.9h0.8v0.8h-0.8zM326.8,381.8h0.8v0.8h-0.8zM327.3,390.7h0.8v0.8h-0.8zM341.2,393.5h0.8v0.8h-0.8zM334.5,390.7h0.8v0.8h-0.8zM342.3,380.3h0.8v0.8h-0.8zM339.8,383.0h0.8v0.8h-0.8zM329.4,385.3h0.8v0.8h-0.8zM337.7,383.1h0.8v0.8h-0.8zM329.0,381.0h0.8v0.8h-0.8zM333.6,389.9h0.8v0.8h-0.8zM325.4,388.8h0.8v0.8h-0.8zM337.3,383.0h0.8v0.8h-0.8zM337.8,392.3h0.8v0.8h-0.8zM337.0,382.5h0.8v0.8h-0.8zM333.7,386.1h0.8v0.8h-0.8zM346.0,391.6h0.8v0.8h-0.8zM331.2,387.7h0.8v0.8h-0.8zM316.3,391.6h0.8v0.8h-0.8zM327.2,393.4h0.8v0.8h-0.8zM326.8,391.8h0.8v0.8h-0.8zM351.0,389.7h0.8v0.8h-0.8zM328.6,384.9h0.8v0.8h-0.8zM334.0,391.6h0.8v0.8h-0.8zM349.1,380.9h0.8v0.8h-0.8zM327.2,394.2h0.8v0.8h-0.8zM330.0,386.3h0.8v0.8h-0.8zM347.9,388.5h0.8v0.8h-0.8zM340.5,394.2h0.8v0.8h-0.8zM336.8,387.3h0.8v0.8h-0.8zM341.1,395.2h0.8v0.8h-0.8zM316.4,375.5h0.8v0.8h-0.8zM329.9,380.9h0.8v0.8h-0.8zM355.2,387.0h0.8v0.8h-0.8zM319.3,389.6h0.8v0.8h-0.8zM349.8,389.4h0.8v0.8h-0.8zM329.6,388.5h0.8v0.8h-0.8zM332.5,389.0h0.8v0.8h-0.8zM330.2,385.4h0.8v0.8h-0.8zM333.6,383.5h0.8v0.8h-0.8zM331.0,379.0h0.8v0.8h-0.8zM330.4,371.8h0.8v0.8h-0.8zM331.7,397.3h0.8v0.8h-0.8zM321.5,397.0h0.8v0.8h-0.8zM341.3,376.7h0.8v0.8h-0.8zM330.0,384.7h0.8v0.8h-0.8zM352.7,376.2h0.8v0.8h-0.8zM342.0,384.8h0.8v0.8h-0.8zM340.4,377.8h0.8v0.8h-0.8zM342.8,376.5h0.8v0.8h-0.8zM327.4,389.8h0.8v0.8h-0.8zM338.4,377.7h0.8v0.8h-0.8zM319.3,385.3h0.8v0.8h-0.8zM336.4,387.4h0.8v0.8h-0.8zM331.6,388.3h0.8v0.8h-0.8zM337.0,384.7h0.8v0.8h-0.8zM339.3,383.7h0.8v0.8h-0.8zM344.0,394.9h0.8v0.8h-0.8zM331.5,381.4h0.8v0.8h-0.8zM326.7,383.2h0.8v0.8h-0.8zM344.1,384.0h0.8v0.8h-0.8zM326.4,386.2h0.8v0.8h-0.8zM324.7,393.6h0.8v0.8h-0.8zM344.5,393.1h0.8v0.8h-0.8zM347.3,381.4h0.8v0.8h-0.8zM327.9,386.2h0.8v0.8h-0.8zM338.0,388.8h0.8v0.8h-0.8zM319.1,385.3h0.8v0.8h-0.8zM338.5,383.8h0.8v0.8h-0.8zM335.0,375.2h0.8v0.8h-0.8zM319.4,390.3h0.8v0.8h-0.8zM337.9,392.6h0.8v0.8h-0.8zM322.2,387.4h0.8v0.8h-0.8zM328.6,389.6h0.8v0.8h-0.8zM340.4,381.9h0.8v0.8h-0.8zM330.1,390.0h0.8v0.8h-0.8zM322.6,389.5h0.8v0.8h-0.8zM327.5,395.5h0.8v0.8h-0.8zM333.9,387.4h0.8v0.8h-0.8zM341.5,385.5h0.8v0.8h-0.8zM315.7,384.1h0.8v0.8h-0.8zM335.9,389.6h0.8v0.8h-0.8zM336.4,390.9h0.8v0.8h-0.8zM340.8,380.3h0.8v0.8h-0.8zM341.2,388.2h0.8v0.8h-0.8zM330.1,387.4h0.8v0.8h-0.8zM329.1,401.4h0.8v0.8h-0.8zM329.6,389.4h0.8v0.8h-0.8zM331.9,385.7h0.8v0.8h-0.8zM323.6,387.1h0.8v0.8h-0.8zM343.6,391.0h0.8v0.8h-0.8zM330.3,398.0h0.8v0.8h-0.8zM322.0,378.7h0.8v0.8h-0.8zM331.1,385.0h0.8v0.8h-0.8zM340.0,396.5h0.8v0.8h-0.8zM336.2,385.0h0.8v0.8h-0.8zM329.4,390.5h0.8v0.8h-0.8zM319.2,391.4h0.8v0.8h-0.8zM322.8,384.3h0.8v0.8h-0.8zM335.7,381.9h0.8v0.8h-0.8zM329.4,383.4h0.8v0.8h-0.8zM325.4,389.4h0.8v0.8h-0.8zM332.7,384.0h0.8v0.8h-0.8zM337.6,383.7h0.8v0.8h-0.8zM329.1,399.8h0.8v0.8h-0.8zM342.7,386.1h0.8v0.8h-0.8zM337.2,386.6h0.8v0.8h-0.8zM340.2,385.6h0.8v0.8h-0.8zM348.3,388.7h0.8v0.8h-0.8zM342.1,396.2h0.8v0.8h-0.8zM339.2,387.1h0.8v0.8h-0.8zM333.0,389.7h0.8v0.8h-0.8zM327.8,389.0h0.8v0.8h-0.8zM334.4,379.6h0.8v0.8h-0.8zM350.1,383.2h0.8v0.8h-0.8zM343.6,399.7h0.8v0.8h-0.8zM343.2,381.3h0.8v0.8h-0.8zM330.3,387.0h0.8v0.8h-0.8zM332.7,391.8h0.8v0.8h-0.8zM338.8,395.7h0.8v0.8h-0.8zM328.9,398.0h0.8v0.8h-0.8zM321.6,382.9h0.8v0.8h-0.8zM348.3,393.0h0.8v0.8h-0.8zM323.8,387.8h0.8v0.8h-0.8zM336.0,397.5h0.8v0.8h-0.8zM324.5,394.1h0.8v0.8h-0.8zM331.3,385.8h0.8v0.8h-0.8zM330.9,398.3h0.8v0.8h-0.8zM346.3,387.3h0.8v0.8h-0.8zM322.9,385.3h0.8v0.8h-0.8zM330.7,394.4h0.8v0.8h-0.8zM321.9,390.0h0.8v0.8h-0.8zM343.7,390.1h0.8v0.8h-0.8zM334.4,396.3h0.8v0.8h-0.8zM334.8,391.9h0.8v0.8h-0.8zM337.0,401.2h0.8v0.8h-0.8zM324.3,398.6h0.8v0.8h-0.8zM334.5,382.1h0.8v0.8h-0.8zM334.1,387.1h0.8v0.8h-0.8zM345.4,382.6h0.8v0.8h-0.8zM342.4,391.9h0.8v0.8h-0.8zM323.2,388.6h0.8v0.8h-0.8zM330.8,401.9h0.8v0.8h-0.8zM332.9,385.7h0.8v0.8h-0.8zM342.0,374.1h0.8v0.8h-0.8zM330.9,397.6h0.8v0.8h-0.8zM345.6,375.8h0.8v0.8h-0.8zM348.9,391.6h0.8v0.8h-0.8zM335.2,399.3h0.8v0.8h-0.8zM331.6,380.7h0.8v0.8h-0.8zM346.9,379.3h0.8v0.8h-0.8zM355.3,385.0h0.8v0.8h-0.8zM323.4,383.4h0.8v0.8h-0.8zM331.2,381.7h0.8v0.8h-0.8zM325.6,388.2h0.8v0.8h-0.8zM336.4,392.3h0.8v0.8h-0.8zM343.8,375.9h0.8v0.8h-0.8zM331.1,378.0h0.8v0.8h-0.8zM324.7,387.6h0.8v0.8h-0.8zM334.6,386.6h0.8v0.8h-0.8zM315.2,395.1h0.8v0.8h-0.8zM337.6,394.3h0.8v0.8h-0.8zM340.5,389.2h0.8v0.8h-0.8zM336.0,385.7h0.8v0.8h-0.8zM339.4,375.5h0.8v0.8h-0.8zM339.3,383.2h0.8v0.8h-0.8zM342.1,384.0h0.8v0.8h-0.8zM316.4,393.9h0.8v0.8h-0.8zM323.5,385.5h0.8v0.8h-0.8zM335.7,387.7h0.8v0.8h-0.8zM334.7,390.5h0.8v0.8h-0.8zM337.8,382.5h0.8v0.8h-0.8zM346.7,383.7h0.8v0.8h-0.8zM339.6,396.8h0.8v0.8h-0.8zM331.0,395.1h0.8v0.8h-0.8zM348.5,392.0h0.8v0.8h-0.8zM337.5,378.5h0.8v0.8h-0.8zM332.4,381.8h0.8v0.8h-0.8zM340.0,391.1h0.8v0.8h-0.8zM334.4,378.8h0.8v0.8h-0.8zM339.0,390.7h0.8v0.8h-0.8zM333.7,387.6h0.8v0.8h-0.8zM343.5,388.6h0.8v0.8h-0.8zM346.3,396.8h0.8v0.8h-0.8zM344.3,394.6h0.8v0.8h-0.8zM337.0,381.5h0.8v0.8h-0.8zM311.1,383.9h0.8v0.8h-0.8zM329.2,383.4h0.8v0.8h-0.8zM341.2,386.0h0.8v0.8h-0.8zM341.7,385.1h0.8v0.8h-0.8zM328.9,390.6h0.8v0.8h-0.8zM325.5,376.8h0.8v0.8h-0.8zM333.2,383.5h0.8v0.8h-0.8zM347.9,385.6h0.8v0.8h-0.8zM319.5,388.1h0.8v0.8h-0.8zM343.5,392.2h0.8v0.8h-0.8zM338.2,375.8h0.8v0.8h-0.8zM333.7,385.3h0.8v0.8h-0.8zM328.8,388.5h0.8v0.8h-0.8zM328.8,383.6h0.8v0.8h-0.8zM325.5,390.4h0.8v0.8h-0.8zM320.8,381.1h0.8v0.8h-0.8zM333.8,392.7h0.8v0.8h-0.8zM336.7,390.2h0.8v0.8h-0.8zM345.6,374.2h0.8v0.8h-0.8zM340.4,391.3h0.8v0.8h-0.8zM348.3,378.6h0.8v0.8h-0.8zM359.9,382.4h0.8v0.8h-0.8zM334.1,389.7h0.8v0.8h-0.8zM335.1,395.2h0.8v0.8h-0.8zM341.2,387.3h0.8v0.8h-0.8zM323.2,390.0h0.8v0.8h-0.8zM337.4,389.9h0.8v0.8h-0.8zM333.4,390.0h0.8v0.8h-0.8zM337.8,389.2h0.8v0.8h-0.8zM340.1,373.8h0.8v0.8h-0.8zM349.0,389.3h0.8v0.8h-0.8zM341.5,378.7h0.8v0.8h-0.8zM330.5,399.5h0.8v0.8h-0.8zM337.2,388.1h0.8v0.8h-0.8zM340.5,385.5h0.8v0.8h-0.8zM346.6,380.6h0.8v0.8h-0.8zM338.5,387.9h0.8v0.8h-0.8zM332.4,384.5h0.8v0.8h-0.8zM329.1,379.2h0.8v0.8h-0.8zM336.1,394.8h0.8v0.8h-0.8zM338.9,400.1h0.8v0.8h-0.8zM326.7,380.5h0.8v0.8h-0.8zM333.0,385.8h0.8v0.8h-0.8zM345.6,378.8h0.8v0.8h-0.8zM324.4,387.4h0.8v0.8h-0.8zM321.7,389.0h0.8v0.8h-0.8zM328.8,386.7h0.8v0.8h-0.8zM314.6,390.2h0.8v0.8h-0.8zM343.1,390.9h0.8v0.8h-0.8zM341.3,382.4h0.8v0.8h-0.8zM329.5,398.9h0.8v0.8h-0.8zM307.9,386.0h0.8v0.8h-0.8zM307.7,392.8h0.8v0.8h-0.8zM313.3,377.0h0.8v0.8h-0.8zM298.9,389.4h0.8v0.8h-0.8zM321.7,387.4h0.8v0.8h-0.8zM324.2,396.8h0.8v0.8h-0.8zM314.4,397.2h0.8v0.8h-0.8zM323.5,383.8h0.8v0.8h-0.8zM314.4,375.2h0.8v0.8h-0.8zM336.3,399.1h0.8v0.8h-0.8zM339.0,388.9h0.8v0.8h-0.8zM344.3,381.7h0.8v0.8h-0.8zM321.4,394.3h0.8v0.8h-0.8zM330.3,383.7h0.8v0.8h-0.8zM315.1,397.1h0.8v0.8h-0.8zM320.6,375.7h0.8v0.8h-0.8zM347.0,384.6h0.8v0.8h-0.8zM331.4,396.8h0.8v0.8h-0.8zM334.9,390.9h0.8v0.8h-0.8zM319.9,394.4h0.8v0.8h-0.8zM317.1,391.2h0.8v0.8h-0.8zM316.2,384.6h0.8v0.8h-0.8zM325.4,401.5h0.8v0.8h-0.8zM323.4,392.0h0.8v0.8h-0.8zM338.1,380.5h0.8v0.8h-0.8zM333.9,386.5h0.8v0.8h-0.8zM322.9,401.6h0.8v0.8h-0.8zM314.2,383.3h0.8v0.8h-0.8zM336.5,392.5h0.8v0.8h-0.8zM287.8,399.9h0.8v0.8h-0.8zM337.2,398.2h0.8v0.8h-0.8zM360.1,399.6h0.8v0.8h-0.8zM324.5,377.6h0.8v0.8h-0.8zM324.9,386.2h0.8v0.8h-0.8zM325.2,392.7h0.8v0.8h-0.8zM319.1,389.7h0.8v0.8h-0.8zM328.4,394.7h0.8v0.8h-0.8zM348.1,384.6h0.8v0.8h-0.8zM329.4,394.0h0.8v0.8h-0.8zM305.1,399.4h0.8v0.8h-0.8zM346.4,398.0h0.8v0.8h-0.8zM299.2,387.2h0.8v0.8h-0.8zM322.7,392.5h0.8v0.8h-0.8zM344.4,397.3h0.8v0.8h-0.8zM299.6,390.1h0.8v0.8h-0.8zM328.8,396.1h0.8v0.8h-0.8zM322.4,386.7h0.8v0.8h-0.8zM324.3,388.7h0.8v0.8h-0.8zM313.7,391.8h0.8v0.8h-0.8zM327.1,379.3h0.8v0.8h-0.8zM320.9,386.3h0.8v0.8h-0.8zM345.5,393.4h0.8v0.8h-0.8zM324.3,389.7h0.8v0.8h-0.8zM341.8,377.7h0.8v0.8h-0.8zM313.3,397.3h0.8v0.8h-0.8zM305.1,377.4h0.8v0.8h-0.8zM314.3,383.7h0.8v0.8h-0.8zM327.0,382.4h0.8v0.8h-0.8zM343.4,392.5h0.8v0.8h-0.8zM313.4,394.0h0.8v0.8h-0.8zM316.6,393.8h0.8v0.8h-0.8zM315.6,401.6h0.8v0.8h-0.8zM337.4,385.5h0.8v0.8h-0.8zM329.3,387.6h0.8v0.8h-0.8zM300.4,389.5h0.8v0.8h-0.8zM327.8,383.7h0.8v0.8h-0.8zM308.1,384.1h0.8v0.8h-0.8zM320.8,393.5h0.8v0.8h-0.8zM311.2,387.5h0.8v0.8h-0.8zM341.9,383.9h0.8v0.8h-0.8zM325.6,381.4h0.8v0.8h-0.8zM325.1,386.8h0.8v0.8h-0.8zM344.6,390.4h0.8v0.8h-0.8zM317.0,388.0h0.8v0.8h-0.8zM344.6,396.7h0.8v0.8h-0.8zM321.7,380.2h0.8v0.8h-0.8zM324.4,398.9h0.8v0.8h-0.8zM327.4,380.5h0.8v0.8h-0.8zM330.4,389.0h0.8v0.8h-0.8zM325.3,389.5h0.8v0.8h-0.8zM311.9,384.4h0.8v0.8h-0.8zM338.9,394.0h0.8v0.8h-0.8zM310.2,378.2h0.8v0.8h-0.8zM340.7,394.6h0.8v0.8h-0.8zM327.0,387.2h0.8v0.8h-0.8zM352.5,380.1h0.8v0.8h-0.8zM319.3,394.7h0.8v0.8h-0.8zM331.4,394.6h0.8v0.8h-0.8zM304.5,396.1h0.8v0.8h-0.8zM342.6,387.1h0.8v0.8h-0.8zM340.0,388.5h0.8v0.8h-0.8zM324.8,390.6h0.8v0.8h-0.8zM322.2,391.4h0.8v0.8h-0.8zM343.3,400.2h0.8v0.8h-0.8zM334.4,394.6h0.8v0.8h-0.8zM307.0,389.2h0.8v0.8h-0.8zM332.0,391.3h0.8v0.8h-0.8zM318.2,384.1h0.8v0.8h-0.8zM339.2,395.1h0.8v0.8h-0.8zM333.9,392.0h0.8v0.8h-0.8zM341.8,394.7h0.8v0.8h-0.8zM350.1,387.6h0.8v0.8h-0.8zM339.1,396.4h0.8v0.8h-0.8zM319.5,381.3h0.8v0.8h-0.8zM324.3,398.3h0.8v0.8h-0.8zM310.6,389.5h0.8v0.8h-0.8zM319.0,389.4h0.8v0.8h-0.8zM286.3,400.7h0.8v0.8h-0.8zM310.7,395.7h0.8v0.8h-0.8zM325.6,377.6h0.8v0.8h-0.8zM323.7,383.7h0.8v0.8h-0.8zM322.6,386.0h0.8v0.8h-0.8zM323.0,389.8h0.8v0.8h-0.8zM328.2,394.8h0.8v0.8h-0.8zM310.3,400.0h0.8v0.8h-0.8zM355.2,392.6h0.8v0.8h-0.8zM355.7,400.2h0.8v0.8h-0.8zM344.5,387.6h0.8v0.8h-0.8zM344.1,376.3h0.8v0.8h-0.8zM297.1,395.2h0.8v0.8h-0.8zM350.4,393.4h0.8v0.8h-0.8zM309.5,380.7h0.8v0.8h-0.8zM328.6,393.1h0.8v0.8h-0.8zM304.8,389.2h0.8v0.8h-0.8zM321.4,386.5h0.8v0.8h-0.8zM289.1,382.9h0.8v0.8h-0.8zM346.6,388.1h0.8v0.8h-0.8zM310.5,393.4h0.8v0.8h-0.8zM317.4,391.4h0.8v0.8h-0.8zM335.7,393.3h0.8v0.8h-0.8zM305.2,401.8h0.8v0.8h-0.8zM295.5,384.8h0.8v0.8h-0.8zM343.7,383.9h0.8v0.8h-0.8zM314.4,392.4h0.8v0.8h-0.8zM313.1,388.2h0.8v0.8h-0.8zM327.0,388.8h0.8v0.8h-0.8zM316.1,385.7h0.8v0.8h-0.8zM308.6,395.0h0.8v0.8h-0.8zM372.1,388.2h0.8v0.8h-0.8zM342.5,388.3h0.8v0.8h-0.8zM315.8,388.8h0.8v0.8h-0.8zM329.2,382.7h0.8v0.8h-0.8zM327.5,374.6h0.8v0.8h-0.8zM308.5,383.0h0.8v0.8h-0.8zM317.4,389.5h0.8v0.8h-0.8zM319.8,391.3h0.8v0.8h-0.8zM319.1,393.3h0.8v0.8h-0.8zM320.1,391.7h0.8v0.8h-0.8zM316.5,387.5h0.8v0.8h-0.8zM329.3,400.6h0.8v0.8h-0.8zM327.2,390.1h0.8v0.8h-0.8zM320.6,381.5h0.8v0.8h-0.8zM309.4,391.3h0.8v0.8h-0.8zM338.8,391.1h0.8v0.8h-0.8zM311.6,389.7h0.8v0.8h-0.8zM338.6,390.4h0.8v0.8h-0.8zM340.4,379.9h0.8v0.8h-0.8zM329.7,382.7h0.8v0.8h-0.8zM296.2,390.7h0.8v0.8h-0.8zM332.8,394.1h0.8v0.8h-0.8zM342.3,391.3h0.8v0.8h-0.8zM289.2,395.8h0.8v0.8h-0.8zM338.8,387.6h0.8v0.8h-0.8zM317.9,390.7h0.8v0.8h-0.8zM325.3,382.0h0.8v0.8h-0.8zM340.0,403.4h0.8v0.8h-0.8zM334.4,391.9h0.8v0.8h-0.8zM332.5,395.0h0.8v0.8h-0.8zM328.4,384.4h0.8v0.8h-0.8zM327.6,390.1h0.8v0.8h-0.8zM325.9,396.8h0.8v0.8h-0.8zM329.0,388.0h0.8v0.8h-0.8zM310.6,377.4h0.8v0.8h-0.8zM351.6,388.6h0.8v0.8h-0.8zM341.3,393.2h0.8v0.8h-0.8zM326.5,394.2h0.8v0.8h-0.8zM326.0,402.3h0.8v0.8h-0.8zM317.9,388.9h0.8v0.8h-0.8zM323.7,393.2h0.8v0.8h-0.8zM347.3,385.3h0.8v0.8h-0.8zM287.4,393.8h0.8v0.8h-0.8zM335.0,390.0h0.8v0.8h-0.8zM324.7,395.3h0.8v0.8h-0.8zM311.0,383.7h0.8v0.8h-0.8zM299.4,389.2h0.8v0.8h-0.8zM312.2,389.5h0.8v0.8h-0.8zM307.1,375.5h0.8v0.8h-0.8zM341.3,393.2h0.8v0.8h-0.8zM340.8,399.8h0.8v0.8h-0.8zM299.0,396.4h0.8v0.8h-0.8zM306.7,374.9h0.8v0.8h-0.8zM307.3,386.1h0.8v0.8h-0.8zM351.5,388.6h0.8v0.8h-0.8zM321.3,393.5h0.8v0.8h-0.8zM329.7,389.4h0.8v0.8h-0.8zM355.8,383.0h0.8v0.8h-0.8zM305.7,375.9h0.8v0.8h-0.8zM305.6,383.3h0.8v0.8h-0.8zM316.2,387.8h0.8v0.8h-0.8zM346.6,396.3h0.8v0.8h-0.8zM317.6,391.8h0.8v0.8h-0.8zM314.0,388.6h0.8v0.8h-0.8zM306.7,382.6h0.8v0.8h-0.8zM331.5,383.7h0.8v0.8h-0.8zM309.8,392.9h0.8v0.8h-0.8zM308.7,400.3h0.8v0.8h-0.8zM334.3,386.7h0.8v0.8h-0.8zM322.4,385.8h0.8v0.8h-0.8zM347.6,391.2h0.8v0.8h-0.8zM327.1,384.4h0.8v0.8h-0.8zM348.7,390.3h0.8v0.8h-0.8zM314.1,401.5h0.8v0.8h-0.8zM329.5,387.4h0.8v0.8h-0.8zM338.5,386.6h0.8v0.8h-0.8zM322.7,397.5h0.8v0.8h-0.8zM307.0,389.1h0.8v0.8h-0.8zM323.5,393.1h0.8v0.8h-0.8zM308.8,382.3h0.8v0.8h-0.8zM319.9,383.9h0.8v0.8h-0.8zM326.7,389.6h0.8v0.8h-0.8zM326.9,391.7h0.8v0.8h-0.8zM307.8,387.7h0.8v0.8h-0.8zM327.5,399.3h0.8v0.8h-0.8zM329.0,390.7h0.8v0.8h-0.8zM355.2,387.2h0.8v0.8h-0.8zM344.7,395.1h0.8v0.8h-0.8zM306.4,390.2h0.8v0.8h-0.8zM336.5,382.0h0.8v0.8h-0.8zM346.0,386.7h0.8v0.8h-0.8zM331.4,388.9h0.8v0.8h-0.8zM330.7,385.0h0.8v0.8h-0.8zM348.2,384.6h0.8v0.8h-0.8zM349.5,388.1h0.8v0.8h-0.8zM310.9,396.2h0.8v0.8h-0.8zM326.0,388.2h0.8v0.8h-0.8zM306.2,388.4h0.8v0.8h-0.8zM322.2,384.3h0.8v0.8h-0.8zM305.8,383.5h0.8v0.8h-0.8zM308.3,398.0h0.8v0.8h-0.8zM336.7,386.8h0.8v0.8h-0.8zM308.0,389.3h0.8v0.8h-0.8zM331.2,385.9h0.8v0.8h-0.8zM321.6,397.6h0.8v0.8h-0.8zM320.0,387.3h0.8v0.8h-0.8zM342.5,389.5h0.8v0.8h-0.8zM323.1,383.4h0.8v0.8h-0.8zM339.5,391.9h0.8v0.8h-0.8zM319.1,389.3h0.8v0.8h-0.8zM344.7,389.5h0.8v0.8h-0.8zM321.5,391.1h0.8v0.8h-0.8zM325.2,397.1h0.8v0.8h-0.8zM319.5,387.1h0.8v0.8h-0.8zM313.1,391.2h0.8v0.8h-0.8zM304.0,386.3h0.8v0.8h-0.8zM300.2,389.3h0.8v0.8h-0.8zM320.5,388.6h0.8v0.8h-0.8zM315.4,383.8h0.8v0.8h-0.8zM327.0,373.9h0.8v0.8h-0.8zM307.6,401.8h0.8v0.8h-0.8zM327.7,400.9h0.8v0.8h-0.8zM352.8,391.1h0.8v0.8h-0.8zM309.4,393.3h0.8v0.8h-0.8zM310.5,390.8h0.8v0.8h-0.8zM327.8,401.5h0.8v0.8h-0.8zM321.5,388.9h0.8v0.8h-0.8zM322.4,396.5h0.8v0.8h-0.8zM312.2,387.4h0.8v0.8h-0.8zM365.2,384.1h0.8v0.8h-0.8zM332.3,394.4h0.8v0.8h-0.8zM332.7,397.5h0.8v0.8h-0.8zM320.2,401.1h0.8v0.8h-0.8zM329.3,388.8h0.8v0.8h-0.8zM332.1,391.2h0.8v0.8h-0.8zM322.0,394.2h0.8v0.8h-0.8zM312.0,393.5h0.8v0.8h-0.8zM319.4,372.2h0.8v0.8h-0.8zM340.4,389.6h0.8v0.8h-0.8zM320.0,387.7h0.8v0.8h-0.8zM301.1,381.2h0.8v0.8h-0.8zM331.1,388.1h0.8v0.8h-0.8zM316.7,379.2h0.8v0.8h-0.8z" fill="#1a1a1a" fill-opacity="0.7"/>
<path d="M286.8,377.4h0.8v0.8h-0.8zM282.4,385.2h0.8v0.8h-0.8zM359.0,358.0h0.8v0.8h-0.8zM280.4,384.9h0.8v0.8h-0.8zM379.2,377.6h0.8v0.8h-0.8zM316.5,358.5h0.8v0.8h-0.8zM360.7,400.4h0.8v0.8h-0.8zM316.4,351.4h0.8v0.8h-0.8zM379.0,364.9h0.8v0.8h-0.8zM324.0,357.3h0.8v0.8h-0.8zM352.1,401.3h0.8v0.8h-0.8zM326.7,392.9h0.8v0.8h-0.8zM319.9,364.6h0.8v0.8h-0.8zM359.7,400.5h0.8v0.8h-0.8zM355.1,383.1h0.8v0.8h-0.8zM362.2,397.1h0.8v0.8h-0.8zM374.7,371.7h0.8v0.8h-0.8zM318.6,337.4h0.8v0.8h-0.8zM332.4,360.2h0.8v0.8h-0.8zM280.2,402.0h0.8v0.8h-0.8zM310.6,398.0h0.8v0.8h-0.8zM281.7,360.5h0.8v0.8h-0.8zM357.9,381.0h0.8v0.8h-0.8zM346.9,368.9h0.8v0.8h-0.8zM289.2,391.4h0.8v0.8h-0.8zM355.7,368.2h0.8v0.8h-0.8zM335.9,389.6h0.8v0.8h-0.8zM329.2,368.1h0.8v0.8h-0.8zM328.2,385.1h0.8v0.8h-0.8zM353.1,358.8h0.8v0.8h-0.8zM357.2,361.5h0.8v0.8h-0.8zM347.0,361.6h0.8v0.8h-0.8zM369.4,398.5h0.8v0.8h-0.8zM357.3,361.9h0.8v0.8h-0.8zM315.0,365.3h0.8v0.8h-0.8zM340.1,339.1h0.8v0.8h-0.8zM334.3,397.7h0.8v0.8h-0.8zM286.5,395.3h0.8v0.8h-0.8zM336.9,402.3h0.8v0.8h-0.8zM351.9,384.0h0.8v0.8h-0.8zM370.2,354.6h0.8v0.8h-0.8zM351.2,371.6h0.8v0.8h-0.8zM355.8,367.0h0.8v0.8h-0.8zM368.6,337.7h0.8v0.8h-0.8zM356.6,363.0h0.8v0.8h-0.8zM369.6,360.0h0.8v0.8h-0.8zM363.1,361.7h0.8v0.8h-0.8zM373.8,357.2h0.8v0.8h-0.8zM356.9,375.6h0.8v0.8h-0.8zM375.0,349.5h0.8v0.8h-0.8zM367.6,365.6h0.8v0.8h-0.8zM374.3,351.0h0.8v0.8h-0.8zM360.0,367.7h0.8v0.8h-0.8zM364.1,363.8h0.8v0.8h-0.8zM366.7,364.1h0.8v0.8h-0.8zM371.2,352.9h0.8v0.8h-0.8zM357.7,379.8h0.8v0.8h-0.8zM362.2,359.3h0.8v0.8h-0.8zM361.8,372.8h0.8v0.8h-0.8zM370.2,364.4h0.8v0.8h-0.8zM360.0,374.8h0.8v0.8h-0.8zM361.2,359.8h0.8v0.8h-0.8zM372.1,367.9h0.8v0.8h-0.8zM359.8,357.3h0.8v0.8h-0.8zM367.4,360.2h0.8v0.8h-0.8zM374.4,343.5h0.8v0.8h-0.8zM348.0,375.5h0.8v0.8h-0.8zM368.9,357.7h0.8v0.8h-0.8zM373.5,353.5h0.8v0.8h-0.8zM356.0,379.7h0.8v0.8h-0.8zM369.3,360.2h0.8v0.8h-0.8zM354.3,373.5h0.8v0.8h-0.8zM360.0,364.9h0.8v0.8h-0.8zM345.3,374.2h0.8v0.8h-0.8zM362.9,376.3h0.8v0.8h-0.8zM360.7,373.8h0.8v0.8h-0.8zM354.6,374.3h0.8v0.8h-0.8zM347.5,382.9h0.8v0.8h-0.8zM377.0,342.4h0.8v0.8h-0.8zM360.1,358.9h0.8v0.8h-0.8zM357.3,367.0h0.8v0.8h-0.8zM353.3,372.3h0.8v0.8h-0.8zM375.2,350.2h0.8v0.8h-0.8zM364.0,369.2h0.8v0.8h-0.8zM375.8,356.8h0.8v0.8h-0.8zM351.4,365.9h0.8v0.8h-0.8zM351.4,375.2h0.8v0.8h-0.8zM367.9,354.5h0.8v0.8h-0.8zM356.5,374.7h0.8v0.8h-0.8zM359.1,366.4h0.8v0.8h-0.8zM366.6,362.9h0.8v0.8h-0.8zM366.0,373.3h0.8v0.8h-0.8zM358.2,368.9h0.8v0.8h-0.8zM361.2,355.0h0.8v0.8h-0.8zM371.5,351.4h0.8v0.8h-0.8z" fill="#1a1a1a" fill-opacity="0.3"/>
<rect x="274.80" y="320.10" width="106.70" height="84.00" stroke="#999" stroke-width="0.9" fill="none"/>
<text x="301.48" y="409.70" font-size="4.8" font-weight="400" text-anchor="middle" fill="#333">10<tspan font-size="3.3" dy="-1.8">1</tspan></text>
<text x="0.00" y="0.00" transform="translate(271.50,383.10) rotate(-90)" font-size="4.8" font-weight="400" text-anchor="middle" fill="#333">10<tspan font-size="3.3" dy="-1.8">1</tspan></text>
<text x="328.15" y="409.70" font-size="4.8" font-weight="400" text-anchor="middle" fill="#333">10<tspan font-size="3.3" dy="-1.8">2</tspan></text>
<text x="0.00" y="0.00" transform="translate(271.50,362.10) rotate(-90)" font-size="4.8" font-weight="400" text-anchor="middle" fill="#333">10<tspan font-size="3.3" dy="-1.8">2</tspan></text>
<text x="354.83" y="409.70" font-size="4.8" font-weight="400" text-anchor="middle" fill="#333">10<tspan font-size="3.3" dy="-1.8">3</tspan></text>
<text x="0.00" y="0.00" transform="translate(271.50,341.10) rotate(-90)" font-size="4.8" font-weight="400" text-anchor="middle" fill="#333">10<tspan font-size="3.3" dy="-1.8">3</tspan></text>
<text x="381.50" y="409.70" font-size="4.8" font-weight="400" text-anchor="middle" fill="#333">10<tspan font-size="3.3" dy="-1.8">4</tspan></text>
<text x="0.00" y="0.00" transform="translate(271.50,320.10) rotate(-90)" font-size="4.8" font-weight="400" text-anchor="middle" fill="#333">10<tspan font-size="3.3" dy="-1.8">4</tspan></text>
<rect x="307.30" y="358.60" width="25.70" height="19.50" stroke="#888" stroke-width="1.3" fill="none"/>
<rect x="326.30" y="378.80" width="26.00" height="24.40" stroke="#222" stroke-width="1.5" fill="none"/>
<text x="320.15" y="341.30" font-size="8.9" font-weight="400" text-anchor="middle" fill="#666" stroke="#666" stroke-width="0.3">A1</text>
<line x1="320.15" y1="343.20" x2="320.15" y2="352.50" stroke="#666" stroke-width="1.1"/>
<path d="M317.75,350.20 L320.15,354.80 L322.55,350.20 Z" fill="#666" stroke="none" stroke-width="1" stroke-linejoin="round"/>
<text x="355.70" y="364.40" font-size="8.9" font-weight="400" text-anchor="middle" fill="#111" stroke="#111" stroke-width="0.3">A2</text>
<line x1="353.00" y1="366.50" x2="347.90" y2="374.40" stroke="#111" stroke-width="1.2"/>
<path d="M346.70,376.30 L346.40,371.50 L350.50,374.00 Z" fill="#111" stroke="none" stroke-width="1" stroke-linejoin="round"/>
<text x="333.70" y="420.50" font-size="8.95" font-weight="700" text-anchor="middle" fill="#000">FITC – anti-fibrinogen</text>
<text x="453.20" y="314.90" font-size="8.75" font-weight="700" text-anchor="middle" fill="#000">Thrombin + Cvx</text>
<path d="M464.2,396.3h0.8v0.8h-0.8zM482.2,390.9h0.8v0.8h-0.8zM462.5,380.8h0.8v0.8h-0.8zM462.2,389.9h0.8v0.8h-0.8zM451.2,385.2h0.8v0.8h-0.8zM467.0,389.6h0.8v0.8h-0.8zM460.7,381.6h0.8v0.8h-0.8zM466.4,381.4h0.8v0.8h-0.8zM480.4,385.2h0.8v0.8h-0.8zM459.9,395.2h0.8v0.8h-0.8zM456.7,384.9h0.8v0.8h-0.8zM469.4,378.5h0.8v0.8h-0.8zM466.8,383.3h0.8v0.8h-0.8zM454.2,388.4h0.8v0.8h-0.8zM463.0,387.4h0.8v0.8h-0.8zM467.6,381.3h0.8v0.8h-0.8zM472.8,397.5h0.8v0.8h-0.8zM451.9,385.2h0.8v0.8h-0.8zM463.5,379.2h0.8v0.8h-0.8zM466.6,386.6h0.8v0.8h-0.8zM461.8,391.3h0.8v0.8h-0.8zM460.5,384.8h0.8v0.8h-0.8zM468.5,388.1h0.8v0.8h-0.8zM468.8,394.4h0.8v0.8h-0.8zM455.6,390.5h0.8v0.8h-0.8zM474.0,387.7h0.8v0.8h-0.8zM464.2,390.6h0.8v0.8h-0.8zM468.5,388.8h0.8v0.8h-0.8zM460.3,390.4h0.8v0.8h-0.8zM459.6,389.1h0.8v0.8h-0.8zM462.7,375.2h0.8v0.8h-0.8zM462.9,390.1h0.8v0.8h-0.8zM467.5,387.0h0.8v0.8h-0.8zM456.3,379.9h0.8v0.8h-0.8zM447.5,390.6h0.8v0.8h-0.8zM471.9,395.2h0.8v0.8h-0.8zM478.5,379.4h0.8v0.8h-0.8zM469.2,382.0h0.8v0.8h-0.8zM448.7,388.2h0.8v0.8h-0.8zM459.8,391.5h0.8v0.8h-0.8zM469.6,388.3h0.8v0.8h-0.8zM476.0,398.1h0.8v0.8h-0.8zM461.5,393.5h0.8v0.8h-0.8zM476.4,385.4h0.8v0.8h-0.8zM460.8,389.3h0.8v0.8h-0.8zM459.8,392.1h0.8v0.8h-0.8zM472.2,385.1h0.8v0.8h-0.8zM470.5,386.5h0.8v0.8h-0.8zM480.7,390.5h0.8v0.8h-0.8zM476.8,391.9h0.8v0.8h-0.8zM458.8,385.4h0.8v0.8h-0.8zM468.5,381.8h0.8v0.8h-0.8zM474.4,386.2h0.8v0.8h-0.8zM481.6,381.5h0.8v0.8h-0.8zM455.5,395.3h0.8v0.8h-0.8zM462.6,378.9h0.8v0.8h-0.8zM476.4,388.3h0.8v0.8h-0.8zM464.6,383.7h0.8v0.8h-0.8zM466.7,389.0h0.8v0.8h-0.8zM460.6,387.3h0.8v0.8h-0.8zM469.0,382.2h0.8v0.8h-0.8zM477.3,386.5h0.8v0.8h-0.8zM459.7,389.9h0.8v0.8h-0.8zM454.4,392.4h0.8v0.8h-0.8zM475.1,376.9h0.8v0.8h-0.8zM463.5,389.1h0.8v0.8h-0.8zM458.0,380.1h0.8v0.8h-0.8zM455.6,379.5h0.8v0.8h-0.8zM468.5,379.4h0.8v0.8h-0.8zM466.0,384.8h0.8v0.8h-0.8zM475.4,383.9h0.8v0.8h-0.8zM468.3,389.7h0.8v0.8h-0.8zM459.9,384.0h0.8v0.8h-0.8zM470.2,385.4h0.8v0.8h-0.8zM454.8,389.2h0.8v0.8h-0.8zM470.6,385.4h0.8v0.8h-0.8zM474.3,380.8h0.8v0.8h-0.8zM446.7,382.8h0.8v0.8h-0.8zM474.2,380.1h0.8v0.8h-0.8zM461.9,387.5h0.8v0.8h-0.8zM466.4,396.6h0.8v0.8h-0.8zM472.8,393.2h0.8v0.8h-0.8zM459.7,393.3h0.8v0.8h-0.8zM471.0,376.5h0.8v0.8h-0.8zM464.1,381.0h0.8v0.8h-0.8zM441.5,385.5h0.8v0.8h-0.8zM474.0,383.2h0.8v0.8h-0.8zM479.4,393.1h0.8v0.8h-0.8zM468.1,388.4h0.8v0.8h-0.8zM461.4,384.6h0.8v0.8h-0.8zM464.5,378.3h0.8v0.8h-0.8zM473.1,398.9h0.8v0.8h-0.8zM476.0,386.8h0.8v0.8h-0.8zM478.6,385.5h0.8v0.8h-0.8zM449.5,391.0h0.8v0.8h-0.8zM475.7,383.3h0.8v0.8h-0.8zM470.9,390.4h0.8v0.8h-0.8zM462.1,382.3h0.8v0.8h-0.8zM468.7,393.5h0.8v0.8h-0.8zM470.0,392.9h0.8v0.8h-0.8zM474.7,392.9h0.8v0.8h-0.8zM468.6,401.8h0.8v0.8h-0.8zM473.1,392.7h0.8v0.8h-0.8zM460.9,384.8h0.8v0.8h-0.8zM457.2,382.7h0.8v0.8h-0.8zM460.4,385.5h0.8v0.8h-0.8zM449.2,390.8h0.8v0.8h-0.8zM459.8,385.0h0.8v0.8h-0.8zM455.9,399.6h0.8v0.8h-0.8zM472.9,389.5h0.8v0.8h-0.8zM455.8,388.0h0.8v0.8h-0.8zM468.0,387.6h0.8v0.8h-0.8zM469.1,381.7h0.8v0.8h-0.8zM462.0,394.7h0.8v0.8h-0.8zM467.4,388.4h0.8v0.8h-0.8zM470.7,378.0h0.8v0.8h-0.8zM466.5,392.8h0.8v0.8h-0.8zM470.5,389.9h0.8v0.8h-0.8zM451.0,387.5h0.8v0.8h-0.8zM448.7,388.6h0.8v0.8h-0.8zM474.6,386.9h0.8v0.8h-0.8zM468.4,388.4h0.8v0.8h-0.8zM462.3,385.1h0.8v0.8h-0.8zM466.4,386.4h0.8v0.8h-0.8zM489.2,393.0h0.8v0.8h-0.8zM455.7,392.9h0.8v0.8h-0.8zM460.9,386.3h0.8v0.8h-0.8zM460.3,393.3h0.8v0.8h-0.8zM463.2,377.0h0.8v0.8h-0.8zM462.5,384.3h0.8v0.8h-0.8zM446.9,392.5h0.8v0.8h-0.8zM467.6,392.7h0.8v0.8h-0.8zM444.7,375.7h0.8v0.8h-0.8zM476.4,388.4h0.8v0.8h-0.8zM454.7,390.4h0.8v0.8h-0.8zM466.2,385.3h0.8v0.8h-0.8zM458.5,385.1h0.8v0.8h-0.8zM464.7,377.9h0.8v0.8h-0.8zM460.3,390.0h0.8v0.8h-0.8zM465.4,378.1h0.8v0.8h-0.8zM452.0,384.8h0.8v0.8h-0.8zM469.9,385.9h0.8v0.8h-0.8zM458.9,377.7h0.8v0.8h-0.8zM462.5,401.5h0.8v0.8h-0.8zM456.4,402.9h0.8v0.8h-0.8zM445.5,381.0h0.8v0.8h-0.8zM474.7,379.8h0.8v0.8h-0.8zM458.1,393.4h0.8v0.8h-0.8zM451.9,382.9h0.8v0.8h-0.8zM449.4,395.7h0.8v0.8h-0.8zM466.3,395.1h0.8v0.8h-0.8zM467.2,390.6h0.8v0.8h-0.8zM463.6,389.8h0.8v0.8h-0.8zM454.1,384.9h0.8v0.8h-0.8zM452.9,395.6h0.8v0.8h-0.8zM452.6,386.1h0.8v0.8h-0.8zM470.4,390.2h0.8v0.8h-0.8zM468.9,388.0h0.8v0.8h-0.8zM466.8,384.9h0.8v0.8h-0.8zM457.8,384.9h0.8v0.8h-0.8zM456.6,377.2h0.8v0.8h-0.8zM474.2,372.8h0.8v0.8h-0.8zM472.1,385.9h0.8v0.8h-0.8zM477.8,386.0h0.8v0.8h-0.8zM463.0,393.4h0.8v0.8h-0.8zM448.9,387.3h0.8v0.8h-0.8zM478.0,394.5h0.8v0.8h-0.8zM459.1,380.9h0.8v0.8h-0.8zM457.7,391.7h0.8v0.8h-0.8zM453.7,394.2h0.8v0.8h-0.8zM452.4,392.3h0.8v0.8h-0.8zM466.7,385.8h0.8v0.8h-0.8zM483.2,388.1h0.8v0.8h-0.8zM469.4,398.2h0.8v0.8h-0.8zM459.5,390.7h0.8v0.8h-0.8zM472.7,387.7h0.8v0.8h-0.8zM462.1,386.8h0.8v0.8h-0.8zM470.8,387.7h0.8v0.8h-0.8zM474.0,380.0h0.8v0.8h-0.8zM463.9,394.2h0.8v0.8h-0.8zM453.3,393.6h0.8v0.8h-0.8zM462.6,393.7h0.8v0.8h-0.8zM458.3,388.2h0.8v0.8h-0.8zM452.2,393.3h0.8v0.8h-0.8zM461.5,388.0h0.8v0.8h-0.8zM458.2,394.9h0.8v0.8h-0.8zM465.2,393.9h0.8v0.8h-0.8zM457.1,386.2h0.8v0.8h-0.8zM470.9,399.0h0.8v0.8h-0.8zM480.2,392.0h0.8v0.8h-0.8zM472.7,391.7h0.8v0.8h-0.8zM456.3,386.7h0.8v0.8h-0.8zM452.6,379.5h0.8v0.8h-0.8zM463.1,389.9h0.8v0.8h-0.8zM469.3,399.7h0.8v0.8h-0.8zM453.3,382.6h0.8v0.8h-0.8zM458.8,391.8h0.8v0.8h-0.8zM460.4,380.6h0.8v0.8h-0.8zM468.3,385.6h0.8v0.8h-0.8zM457.4,396.4h0.8v0.8h-0.8zM471.7,383.4h0.8v0.8h-0.8zM465.1,384.8h0.8v0.8h-0.8zM459.7,383.9h0.8v0.8h-0.8zM461.9,383.1h0.8v0.8h-0.8zM466.7,392.2h0.8v0.8h-0.8zM462.2,378.2h0.8v0.8h-0.8zM471.3,383.9h0.8v0.8h-0.8zM477.6,391.3h0.8v0.8h-0.8zM463.7,397.8h0.8v0.8h-0.8zM455.6,389.0h0.8v0.8h-0.8zM469.9,388.3h0.8v0.8h-0.8zM464.1,380.9h0.8v0.8h-0.8zM474.9,379.3h0.8v0.8h-0.8zM441.9,385.8h0.8v0.8h-0.8zM472.4,387.3h0.8v0.8h-0.8zM461.6,387.6h0.8v0.8h-0.8zM467.4,385.0h0.8v0.8h-0.8zM458.7,385.9h0.8v0.8h-0.8zM457.6,393.1h0.8v0.8h-0.8zM463.0,391.7h0.8v0.8h-0.8zM458.7,380.6h0.8v0.8h-0.8zM483.1,394.5h0.8v0.8h-0.8zM468.7,390.2h0.8v0.8h-0.8zM462.7,393.8h0.8v0.8h-0.8zM447.0,390.0h0.8v0.8h-0.8zM472.7,392.0h0.8v0.8h-0.8zM459.8,384.8h0.8v0.8h-0.8zM458.9,393.6h0.8v0.8h-0.8zM474.8,379.9h0.8v0.8h-0.8zM461.2,388.4h0.8v0.8h-0.8zM455.0,397.6h0.8v0.8h-0.8zM456.9,390.9h0.8v0.8h-0.8zM462.8,386.6h0.8v0.8h-0.8zM457.0,380.8h0.8v0.8h-0.8zM470.6,391.6h0.8v0.8h-0.8zM468.1,383.7h0.8v0.8h-0.8zM457.0,387.3h0.8v0.8h-0.8zM456.7,386.4h0.8v0.8h-0.8zM454.1,400.5h0.8v0.8h-0.8zM453.9,367.3h0.8v0.8h-0.8zM459.7,394.3h0.8v0.8h-0.8zM453.6,398.1h0.8v0.8h-0.8zM456.1,395.5h0.8v0.8h-0.8zM468.7,394.5h0.8v0.8h-0.8zM462.1,401.8h0.8v0.8h-0.8zM451.0,400.4h0.8v0.8h-0.8zM457.6,386.0h0.8v0.8h-0.8zM446.7,384.7h0.8v0.8h-0.8zM459.0,377.3h0.8v0.8h-0.8zM454.1,385.1h0.8v0.8h-0.8zM473.9,396.2h0.8v0.8h-0.8zM456.9,381.4h0.8v0.8h-0.8zM459.7,398.2h0.8v0.8h-0.8zM457.3,387.4h0.8v0.8h-0.8zM478.0,386.2h0.8v0.8h-0.8zM457.6,377.5h0.8v0.8h-0.8zM461.6,382.2h0.8v0.8h-0.8zM481.0,382.8h0.8v0.8h-0.8zM460.2,382.3h0.8v0.8h-0.8zM461.8,388.0h0.8v0.8h-0.8zM475.8,379.3h0.8v0.8h-0.8zM456.8,384.5h0.8v0.8h-0.8zM464.8,386.6h0.8v0.8h-0.8zM459.3,391.0h0.8v0.8h-0.8zM458.4,384.6h0.8v0.8h-0.8zM450.9,380.6h0.8v0.8h-0.8zM460.9,389.8h0.8v0.8h-0.8zM479.4,387.6h0.8v0.8h-0.8zM455.8,389.8h0.8v0.8h-0.8zM467.9,388.1h0.8v0.8h-0.8zM481.3,386.6h0.8v0.8h-0.8zM471.0,388.9h0.8v0.8h-0.8zM453.9,390.0h0.8v0.8h-0.8zM466.2,396.6h0.8v0.8h-0.8zM449.4,375.1h0.8v0.8h-0.8zM469.8,390.3h0.8v0.8h-0.8zM469.5,390.5h0.8v0.8h-0.8zM464.7,389.3h0.8v0.8h-0.8zM466.5,383.0h0.8v0.8h-0.8zM463.8,376.4h0.8v0.8h-0.8zM464.8,386.4h0.8v0.8h-0.8zM450.9,382.6h0.8v0.8h-0.8zM456.9,382.1h0.8v0.8h-0.8zM450.9,394.1h0.8v0.8h-0.8zM456.9,387.2h0.8v0.8h-0.8zM455.2,388.7h0.8v0.8h-0.8zM468.9,396.1h0.8v0.8h-0.8zM470.1,379.5h0.8v0.8h-0.8zM472.4,387.6h0.8v0.8h-0.8zM464.7,384.5h0.8v0.8h-0.8zM452.1,388.5h0.8v0.8h-0.8zM457.2,387.2h0.8v0.8h-0.8zM476.7,387.9h0.8v0.8h-0.8zM469.7,394.8h0.8v0.8h-0.8zM451.5,387.3h0.8v0.8h-0.8zM480.7,397.5h0.8v0.8h-0.8zM464.0,375.1h0.8v0.8h-0.8zM469.4,396.6h0.8v0.8h-0.8zM455.3,395.3h0.8v0.8h-0.8zM461.6,382.0h0.8v0.8h-0.8zM472.4,385.0h0.8v0.8h-0.8zM451.8,390.9h0.8v0.8h-0.8zM474.1,397.9h0.8v0.8h-0.8zM456.0,399.9h0.8v0.8h-0.8zM466.8,390.2h0.8v0.8h-0.8zM459.2,385.7h0.8v0.8h-0.8zM459.3,389.8h0.8v0.8h-0.8zM462.1,377.9h0.8v0.8h-0.8zM462.6,384.9h0.8v0.8h-0.8zM474.4,389.5h0.8v0.8h-0.8zM475.3,391.8h0.8v0.8h-0.8zM446.4,385.0h0.8v0.8h-0.8zM469.1,379.1h0.8v0.8h-0.8zM468.7,380.9h0.8v0.8h-0.8zM463.5,390.1h0.8v0.8h-0.8zM460.8,379.2h0.8v0.8h-0.8zM457.8,382.8h0.8v0.8h-0.8zM447.0,393.1h0.8v0.8h-0.8zM461.1,390.5h0.8v0.8h-0.8zM477.2,383.6h0.8v0.8h-0.8zM482.8,375.3h0.8v0.8h-0.8zM459.9,389.6h0.8v0.8h-0.8zM454.9,388.9h0.8v0.8h-0.8zM453.5,395.8h0.8v0.8h-0.8zM465.8,392.7h0.8v0.8h-0.8zM467.1,383.6h0.8v0.8h-0.8zM463.2,383.0h0.8v0.8h-0.8zM456.6,392.3h0.8v0.8h-0.8zM464.6,399.5h0.8v0.8h-0.8zM481.2,381.3h0.8v0.8h-0.8zM465.2,389.0h0.8v0.8h-0.8zM452.0,392.6h0.8v0.8h-0.8zM444.7,384.7h0.8v0.8h-0.8zM476.4,386.1h0.8v0.8h-0.8zM463.7,394.2h0.8v0.8h-0.8zM471.6,389.8h0.8v0.8h-0.8zM464.3,382.4h0.8v0.8h-0.8zM468.2,394.7h0.8v0.8h-0.8zM473.4,381.6h0.8v0.8h-0.8zM470.8,391.6h0.8v0.8h-0.8zM466.2,399.1h0.8v0.8h-0.8zM456.7,391.8h0.8v0.8h-0.8zM469.1,383.8h0.8v0.8h-0.8zM442.9,395.1h0.8v0.8h-0.8zM460.8,395.4h0.8v0.8h-0.8zM459.9,383.6h0.8v0.8h-0.8zM458.5,383.5h0.8v0.8h-0.8zM469.2,380.5h0.8v0.8h-0.8zM462.7,379.9h0.8v0.8h-0.8zM461.6,382.2h0.8v0.8h-0.8zM468.8,392.3h0.8v0.8h-0.8zM463.6,388.8h0.8v0.8h-0.8zM465.4,380.2h0.8v0.8h-0.8zM451.8,390.0h0.8v0.8h-0.8zM468.0,388.9h0.8v0.8h-0.8zM463.8,386.1h0.8v0.8h-0.8zM470.7,381.9h0.8v0.8h-0.8zM479.8,384.1h0.8v0.8h-0.8zM458.1,391.5h0.8v0.8h-0.8zM451.7,393.2h0.8v0.8h-0.8zM451.8,391.2h0.8v0.8h-0.8zM477.6,386.2h0.8v0.8h-0.8zM451.1,388.0h0.8v0.8h-0.8zM453.7,389.0h0.8v0.8h-0.8zM447.8,396.2h0.8v0.8h-0.8zM474.6,386.4h0.8v0.8h-0.8zM460.8,387.1h0.8v0.8h-0.8zM447.3,383.4h0.8v0.8h-0.8zM464.9,398.6h0.8v0.8h-0.8zM463.9,397.8h0.8v0.8h-0.8zM462.1,396.3h0.8v0.8h-0.8zM464.6,386.2h0.8v0.8h-0.8zM469.5,381.0h0.8v0.8h-0.8zM464.5,393.2h0.8v0.8h-0.8zM451.8,385.4h0.8v0.8h-0.8zM465.6,389.9h0.8v0.8h-0.8zM465.6,396.6h0.8v0.8h-0.8zM453.1,394.8h0.8v0.8h-0.8zM463.1,382.0h0.8v0.8h-0.8zM460.4,386.3h0.8v0.8h-0.8zM455.3,382.8h0.8v0.8h-0.8zM465.3,397.0h0.8v0.8h-0.8zM478.0,399.6h0.8v0.8h-0.8zM446.9,385.0h0.8v0.8h-0.8zM461.5,384.3h0.8v0.8h-0.8zM463.0,379.3h0.8v0.8h-0.8zM455.3,395.2h0.8v0.8h-0.8zM465.0,378.3h0.8v0.8h-0.8zM471.5,383.7h0.8v0.8h-0.8zM487.0,377.2h0.8v0.8h-0.8zM461.3,391.5h0.8v0.8h-0.8zM464.6,395.1h0.8v0.8h-0.8zM467.9,391.2h0.8v0.8h-0.8zM464.1,386.6h0.8v0.8h-0.8zM458.0,384.2h0.8v0.8h-0.8zM462.7,383.3h0.8v0.8h-0.8zM458.7,388.9h0.8v0.8h-0.8zM480.2,387.8h0.8v0.8h-0.8zM459.8,392.1h0.8v0.8h-0.8zM471.3,384.9h0.8v0.8h-0.8zM460.0,387.3h0.8v0.8h-0.8zM450.3,395.7h0.8v0.8h-0.8zM470.9,377.0h0.8v0.8h-0.8zM469.2,385.1h0.8v0.8h-0.8zM468.2,388.6h0.8v0.8h-0.8zM458.4,381.9h0.8v0.8h-0.8zM455.6,395.8h0.8v0.8h-0.8zM466.3,396.1h0.8v0.8h-0.8zM460.4,389.8h0.8v0.8h-0.8zM465.1,383.8h0.8v0.8h-0.8zM468.5,377.4h0.8v0.8h-0.8zM456.1,391.1h0.8v0.8h-0.8zM465.5,391.0h0.8v0.8h-0.8zM461.7,382.3h0.8v0.8h-0.8zM457.2,386.1h0.8v0.8h-0.8zM463.8,391.6h0.8v0.8h-0.8zM464.9,381.1h0.8v0.8h-0.8zM473.6,397.5h0.8v0.8h-0.8zM467.5,391.3h0.8v0.8h-0.8zM469.9,394.1h0.8v0.8h-0.8zM464.6,386.3h0.8v0.8h-0.8zM475.4,382.5h0.8v0.8h-0.8zM468.3,381.8h0.8v0.8h-0.8zM461.0,389.2h0.8v0.8h-0.8zM463.0,400.6h0.8v0.8h-0.8zM460.5,401.3h0.8v0.8h-0.8zM473.3,374.9h0.8v0.8h-0.8zM469.6,392.5h0.8v0.8h-0.8zM467.7,382.9h0.8v0.8h-0.8zM464.3,389.1h0.8v0.8h-0.8zM454.3,387.0h0.8v0.8h-0.8zM465.7,392.4h0.8v0.8h-0.8zM460.9,385.2h0.8v0.8h-0.8zM467.9,375.2h0.8v0.8h-0.8zM460.5,389.7h0.8v0.8h-0.8zM458.2,386.1h0.8v0.8h-0.8zM474.2,393.1h0.8v0.8h-0.8zM458.3,386.5h0.8v0.8h-0.8zM464.5,397.9h0.8v0.8h-0.8zM470.7,384.4h0.8v0.8h-0.8zM459.4,386.0h0.8v0.8h-0.8zM453.9,390.4h0.8v0.8h-0.8zM460.5,396.2h0.8v0.8h-0.8zM461.9,387.5h0.8v0.8h-0.8zM470.3,391.8h0.8v0.8h-0.8zM470.3,393.7h0.8v0.8h-0.8zM454.9,383.7h0.8v0.8h-0.8zM472.5,381.5h0.8v0.8h-0.8zM464.8,384.7h0.8v0.8h-0.8zM477.1,376.5h0.8v0.8h-0.8zM451.6,382.5h0.8v0.8h-0.8zM456.1,386.4h0.8v0.8h-0.8zM469.1,393.5h0.8v0.8h-0.8zM461.0,377.2h0.8v0.8h-0.8zM471.9,382.6h0.8v0.8h-0.8zM471.5,385.2h0.8v0.8h-0.8zM472.6,388.0h0.8v0.8h-0.8zM450.9,386.1h0.8v0.8h-0.8zM464.4,389.2h0.8v0.8h-0.8zM463.3,383.9h0.8v0.8h-0.8zM470.4,380.9h0.8v0.8h-0.8zM470.6,393.1h0.8v0.8h-0.8zM465.0,383.4h0.8v0.8h-0.8zM466.9,387.0h0.8v0.8h-0.8zM470.7,394.1h0.8v0.8h-0.8zM459.4,380.6h0.8v0.8h-0.8zM469.0,385.5h0.8v0.8h-0.8zM473.8,389.3h0.8v0.8h-0.8zM459.4,393.3h0.8v0.8h-0.8zM451.1,396.8h0.8v0.8h-0.8zM461.5,397.4h0.8v0.8h-0.8zM458.3,386.2h0.8v0.8h-0.8zM469.5,384.9h0.8v0.8h-0.8zM462.6,391.9h0.8v0.8h-0.8zM460.5,379.0h0.8v0.8h-0.8zM461.6,390.4h0.8v0.8h-0.8zM458.2,385.1h0.8v0.8h-0.8zM453.1,385.9h0.8v0.8h-0.8zM466.7,387.7h0.8v0.8h-0.8zM471.0,375.9h0.8v0.8h-0.8zM469.1,389.8h0.8v0.8h-0.8zM450.7,394.2h0.8v0.8h-0.8zM457.0,403.0h0.8v0.8h-0.8zM478.9,394.0h0.8v0.8h-0.8zM474.4,390.0h0.8v0.8h-0.8zM476.9,385.1h0.8v0.8h-0.8zM470.6,384.3h0.8v0.8h-0.8zM480.9,382.8h0.8v0.8h-0.8zM462.1,398.7h0.8v0.8h-0.8zM469.1,385.3h0.8v0.8h-0.8zM453.6,395.5h0.8v0.8h-0.8zM448.2,382.9h0.8v0.8h-0.8zM456.3,391.2h0.8v0.8h-0.8zM467.4,391.9h0.8v0.8h-0.8zM468.7,384.0h0.8v0.8h-0.8zM475.7,380.1h0.8v0.8h-0.8zM458.1,386.1h0.8v0.8h-0.8zM468.3,387.6h0.8v0.8h-0.8zM473.8,373.1h0.8v0.8h-0.8zM470.6,386.2h0.8v0.8h-0.8zM472.2,384.6h0.8v0.8h-0.8zM452.4,398.9h0.8v0.8h-0.8zM469.4,378.9h0.8v0.8h-0.8zM463.4,390.8h0.8v0.8h-0.8zM466.8,392.1h0.8v0.8h-0.8zM468.0,395.2h0.8v0.8h-0.8zM462.0,392.0h0.8v0.8h-0.8zM469.7,383.2h0.8v0.8h-0.8zM465.3,387.8h0.8v0.8h-0.8zM462.4,387.5h0.8v0.8h-0.8zM462.5,387.5h0.8v0.8h-0.8zM453.3,390.4h0.8v0.8h-0.8zM458.8,387.2h0.8v0.8h-0.8zM475.6,372.7h0.8v0.8h-0.8zM471.5,373.9h0.8v0.8h-0.8zM471.8,386.2h0.8v0.8h-0.8zM456.3,386.7h0.8v0.8h-0.8zM465.3,384.0h0.8v0.8h-0.8zM465.5,394.5h0.8v0.8h-0.8zM440.6,384.4h0.8v0.8h-0.8zM463.9,388.3h0.8v0.8h-0.8zM451.7,397.1h0.8v0.8h-0.8zM472.2,391.5h0.8v0.8h-0.8zM451.8,381.8h0.8v0.8h-0.8zM459.1,395.8h0.8v0.8h-0.8zM484.8,381.3h0.8v0.8h-0.8zM457.6,386.1h0.8v0.8h-0.8zM456.6,380.2h0.8v0.8h-0.8zM459.1,379.7h0.8v0.8h-0.8zM454.7,395.2h0.8v0.8h-0.8zM460.8,391.8h0.8v0.8h-0.8zM472.5,391.9h0.8v0.8h-0.8zM467.4,392.1h0.8v0.8h-0.8zM462.0,393.8h0.8v0.8h-0.8zM445.4,397.8h0.8v0.8h-0.8zM454.3,387.3h0.8v0.8h-0.8zM456.1,393.1h0.8v0.8h-0.8zM468.1,380.5h0.8v0.8h-0.8zM456.8,388.0h0.8v0.8h-0.8zM466.4,391.7h0.8v0.8h-0.8zM469.8,390.1h0.8v0.8h-0.8zM472.3,388.8h0.8v0.8h-0.8zM460.7,386.7h0.8v0.8h-0.8zM464.6,380.9h0.8v0.8h-0.8zM458.2,383.7h0.8v0.8h-0.8zM467.6,378.5h0.8v0.8h-0.8zM471.6,392.7h0.8v0.8h-0.8zM463.0,398.3h0.8v0.8h-0.8zM460.3,391.4h0.8v0.8h-0.8zM487.2,389.9h0.8v0.8h-0.8zM468.7,390.7h0.8v0.8h-0.8zM466.6,386.8h0.8v0.8h-0.8zM457.0,392.0h0.8v0.8h-0.8zM458.3,378.4h0.8v0.8h-0.8zM471.2,386.4h0.8v0.8h-0.8zM469.1,389.7h0.8v0.8h-0.8zM470.6,387.5h0.8v0.8h-0.8zM451.9,379.7h0.8v0.8h-0.8zM469.4,390.3h0.8v0.8h-0.8zM472.4,381.9h0.8v0.8h-0.8zM461.7,389.5h0.8v0.8h-0.8zM469.5,388.9h0.8v0.8h-0.8zM462.2,386.6h0.8v0.8h-0.8zM449.5,388.8h0.8v0.8h-0.8zM470.8,387.4h0.8v0.8h-0.8zM454.8,393.0h0.8v0.8h-0.8zM463.2,378.5h0.8v0.8h-0.8zM457.6,390.7h0.8v0.8h-0.8zM458.0,383.4h0.8v0.8h-0.8zM473.1,383.8h0.8v0.8h-0.8zM454.0,383.9h0.8v0.8h-0.8zM455.0,389.4h0.8v0.8h-0.8zM458.6,381.0h0.8v0.8h-0.8zM471.1,387.3h0.8v0.8h-0.8zM442.5,390.1h0.8v0.8h-0.8zM468.3,380.2h0.8v0.8h-0.8zM462.6,391.7h0.8v0.8h-0.8zM456.9,391.7h0.8v0.8h-0.8zM458.6,390.3h0.8v0.8h-0.8zM453.9,389.7h0.8v0.8h-0.8zM473.7,392.6h0.8v0.8h-0.8zM462.9,383.9h0.8v0.8h-0.8zM464.3,389.6h0.8v0.8h-0.8zM452.4,390.4h0.8v0.8h-0.8zM455.2,393.0h0.8v0.8h-0.8zM462.3,386.8h0.8v0.8h-0.8zM473.2,389.6h0.8v0.8h-0.8zM475.4,382.5h0.8v0.8h-0.8zM458.4,389.9h0.8v0.8h-0.8zM472.1,393.9h0.8v0.8h-0.8zM465.0,381.5h0.8v0.8h-0.8zM469.8,390.0h0.8v0.8h-0.8zM460.6,377.8h0.8v0.8h-0.8zM450.7,396.6h0.8v0.8h-0.8zM462.9,388.8h0.8v0.8h-0.8zM469.0,400.1h0.8v0.8h-0.8zM463.3,385.3h0.8v0.8h-0.8zM462.4,394.1h0.8v0.8h-0.8zM462.4,388.1h0.8v0.8h-0.8zM472.9,383.5h0.8v0.8h-0.8zM464.1,389.4h0.8v0.8h-0.8zM447.4,382.9h0.8v0.8h-0.8zM461.1,375.9h0.8v0.8h-0.8zM472.6,380.6h0.8v0.8h-0.8zM470.7,389.2h0.8v0.8h-0.8zM457.0,385.2h0.8v0.8h-0.8zM464.9,390.1h0.8v0.8h-0.8zM472.1,380.3h0.8v0.8h-0.8zM461.5,394.8h0.8v0.8h-0.8zM467.4,385.1h0.8v0.8h-0.8zM460.2,384.8h0.8v0.8h-0.8zM476.1,380.6h0.8v0.8h-0.8zM471.7,385.3h0.8v0.8h-0.8zM457.2,388.1h0.8v0.8h-0.8zM452.4,401.3h0.8v0.8h-0.8zM489.5,382.0h0.8v0.8h-0.8zM472.0,383.3h0.8v0.8h-0.8zM454.9,377.0h0.8v0.8h-0.8zM447.9,395.0h0.8v0.8h-0.8zM466.2,382.8h0.8v0.8h-0.8zM456.4,395.9h0.8v0.8h-0.8zM467.4,391.7h0.8v0.8h-0.8zM465.6,390.5h0.8v0.8h-0.8zM487.6,374.2h0.8v0.8h-0.8zM468.3,380.8h0.8v0.8h-0.8zM463.9,378.3h0.8v0.8h-0.8zM455.2,391.3h0.8v0.8h-0.8zM468.4,390.9h0.8v0.8h-0.8zM460.1,393.1h0.8v0.8h-0.8zM461.0,384.2h0.8v0.8h-0.8zM465.5,400.5h0.8v0.8h-0.8zM468.0,373.3h0.8v0.8h-0.8zM465.2,383.7h0.8v0.8h-0.8zM449.1,389.9h0.8v0.8h-0.8zM466.2,383.5h0.8v0.8h-0.8zM453.6,389.6h0.8v0.8h-0.8zM470.2,387.7h0.8v0.8h-0.8zM463.6,378.6h0.8v0.8h-0.8zM454.4,391.3h0.8v0.8h-0.8zM457.0,387.4h0.8v0.8h-0.8zM475.6,392.2h0.8v0.8h-0.8zM465.5,381.1h0.8v0.8h-0.8zM466.1,376.0h0.8v0.8h-0.8zM459.0,377.6h0.8v0.8h-0.8zM466.5,387.3h0.8v0.8h-0.8zM472.5,384.7h0.8v0.8h-0.8zM466.5,377.6h0.8v0.8h-0.8zM472.9,392.0h0.8v0.8h-0.8zM475.3,392.4h0.8v0.8h-0.8zM460.1,393.3h0.8v0.8h-0.8zM462.1,399.3h0.8v0.8h-0.8zM460.0,384.1h0.8v0.8h-0.8zM464.0,383.9h0.8v0.8h-0.8zM467.7,379.5h0.8v0.8h-0.8zM465.4,379.1h0.8v0.8h-0.8zM476.5,386.0h0.8v0.8h-0.8zM453.8,390.5h0.8v0.8h-0.8zM458.2,386.2h0.8v0.8h-0.8zM459.3,398.8h0.8v0.8h-0.8zM472.8,372.4h0.8v0.8h-0.8zM460.5,381.3h0.8v0.8h-0.8zM454.3,394.6h0.8v0.8h-0.8zM452.9,376.6h0.8v0.8h-0.8zM464.1,381.7h0.8v0.8h-0.8zM463.8,389.7h0.8v0.8h-0.8zM465.8,381.2h0.8v0.8h-0.8zM462.2,389.3h0.8v0.8h-0.8zM447.1,389.6h0.8v0.8h-0.8zM462.0,398.2h0.8v0.8h-0.8zM464.9,378.6h0.8v0.8h-0.8zM459.2,385.5h0.8v0.8h-0.8zM459.4,380.8h0.8v0.8h-0.8zM473.7,385.5h0.8v0.8h-0.8zM453.6,399.5h0.8v0.8h-0.8zM459.0,384.2h0.8v0.8h-0.8zM461.5,385.1h0.8v0.8h-0.8zM470.5,399.4h0.8v0.8h-0.8zM450.2,391.5h0.8v0.8h-0.8zM466.2,394.6h0.8v0.8h-0.8zM465.4,399.0h0.8v0.8h-0.8zM457.7,384.8h0.8v0.8h-0.8zM460.1,391.0h0.8v0.8h-0.8zM467.3,396.9h0.8v0.8h-0.8zM462.8,390.7h0.8v0.8h-0.8zM457.6,392.9h0.8v0.8h-0.8zM472.1,386.8h0.8v0.8h-0.8zM446.6,398.8h0.8v0.8h-0.8zM462.6,381.1h0.8v0.8h-0.8zM459.7,390.9h0.8v0.8h-0.8zM469.5,393.2h0.8v0.8h-0.8zM461.8,385.7h0.8v0.8h-0.8zM459.4,388.8h0.8v0.8h-0.8zM458.3,384.9h0.8v0.8h-0.8zM457.2,378.9h0.8v0.8h-0.8zM457.7,391.8h0.8v0.8h-0.8zM469.1,389.5h0.8v0.8h-0.8zM453.7,380.8h0.8v0.8h-0.8zM478.4,399.8h0.8v0.8h-0.8zM470.8,384.3h0.8v0.8h-0.8zM452.6,386.5h0.8v0.8h-0.8zM460.6,393.4h0.8v0.8h-0.8zM462.6,380.9h0.8v0.8h-0.8zM454.7,391.7h0.8v0.8h-0.8zM471.0,392.0h0.8v0.8h-0.8zM462.9,391.6h0.8v0.8h-0.8zM451.9,387.3h0.8v0.8h-0.8zM454.9,387.4h0.8v0.8h-0.8zM460.2,382.4h0.8v0.8h-0.8zM469.8,386.9h0.8v0.8h-0.8zM474.6,387.4h0.8v0.8h-0.8zM461.6,382.3h0.8v0.8h-0.8zM458.3,391.7h0.8v0.8h-0.8zM464.9,398.9h0.8v0.8h-0.8zM468.5,383.7h0.8v0.8h-0.8zM456.1,385.7h0.8v0.8h-0.8zM473.1,394.6h0.8v0.8h-0.8zM440.2,385.9h0.8v0.8h-0.8zM478.9,379.4h0.8v0.8h-0.8zM464.0,390.9h0.8v0.8h-0.8zM465.7,384.9h0.8v0.8h-0.8zM462.3,384.4h0.8v0.8h-0.8zM463.5,385.9h0.8v0.8h-0.8zM478.0,393.4h0.8v0.8h-0.8zM455.5,387.9h0.8v0.8h-0.8zM478.1,384.8h0.8v0.8h-0.8zM466.2,397.4h0.8v0.8h-0.8zM457.5,393.0h0.8v0.8h-0.8zM462.0,392.2h0.8v0.8h-0.8zM462.2,392.7h0.8v0.8h-0.8zM470.4,399.2h0.8v0.8h-0.8zM456.8,394.0h0.8v0.8h-0.8zM468.8,378.7h0.8v0.8h-0.8zM475.2,399.9h0.8v0.8h-0.8zM478.2,381.8h0.8v0.8h-0.8zM457.0,398.8h0.8v0.8h-0.8zM463.0,386.7h0.8v0.8h-0.8zM455.3,395.3h0.8v0.8h-0.8zM445.5,385.1h0.8v0.8h-0.8zM468.1,376.0h0.8v0.8h-0.8zM471.5,386.6h0.8v0.8h-0.8zM464.7,387.6h0.8v0.8h-0.8zM465.3,385.2h0.8v0.8h-0.8zM455.6,388.5h0.8v0.8h-0.8zM474.5,390.9h0.8v0.8h-0.8zM465.6,383.4h0.8v0.8h-0.8zM464.7,398.6h0.8v0.8h-0.8zM462.7,387.7h0.8v0.8h-0.8zM457.5,402.5h0.8v0.8h-0.8zM463.2,393.0h0.8v0.8h-0.8zM448.3,393.1h0.8v0.8h-0.8zM467.1,381.9h0.8v0.8h-0.8zM463.3,386.6h0.8v0.8h-0.8zM471.3,389.7h0.8v0.8h-0.8zM461.3,385.5h0.8v0.8h-0.8zM479.4,389.9h0.8v0.8h-0.8zM465.3,389.7h0.8v0.8h-0.8zM467.0,388.9h0.8v0.8h-0.8zM461.9,396.1h0.8v0.8h-0.8zM460.6,383.8h0.8v0.8h-0.8zM457.1,387.9h0.8v0.8h-0.8zM460.9,386.7h0.8v0.8h-0.8zM464.1,387.8h0.8v0.8h-0.8zM469.1,385.5h0.8v0.8h-0.8zM459.4,386.9h0.8v0.8h-0.8zM458.3,390.0h0.8v0.8h-0.8zM455.4,380.1h0.8v0.8h-0.8zM476.4,372.8h0.8v0.8h-0.8zM454.5,390.8h0.8v0.8h-0.8zM460.3,392.3h0.8v0.8h-0.8zM442.7,388.7h0.8v0.8h-0.8zM476.7,390.4h0.8v0.8h-0.8zM459.5,395.8h0.8v0.8h-0.8zM463.0,397.9h0.8v0.8h-0.8zM457.3,388.5h0.8v0.8h-0.8zM463.5,388.1h0.8v0.8h-0.8zM478.5,394.6h0.8v0.8h-0.8zM471.3,390.4h0.8v0.8h-0.8zM463.2,386.4h0.8v0.8h-0.8zM469.2,385.7h0.8v0.8h-0.8zM472.6,385.6h0.8v0.8h-0.8zM454.9,384.2h0.8v0.8h-0.8zM472.3,391.2h0.8v0.8h-0.8zM464.2,376.8h0.8v0.8h-0.8zM463.1,378.5h0.8v0.8h-0.8zM469.9,392.0h0.8v0.8h-0.8zM461.9,387.9h0.8v0.8h-0.8zM464.6,384.9h0.8v0.8h-0.8zM458.4,386.4h0.8v0.8h-0.8zM474.5,400.3h0.8v0.8h-0.8zM454.8,381.6h0.8v0.8h-0.8zM456.1,383.5h0.8v0.8h-0.8zM466.3,386.1h0.8v0.8h-0.8zM460.2,391.2h0.8v0.8h-0.8zM457.6,384.8h0.8v0.8h-0.8zM469.4,385.3h0.8v0.8h-0.8zM462.1,401.9h0.8v0.8h-0.8zM462.7,381.4h0.8v0.8h-0.8zM455.1,395.8h0.8v0.8h-0.8zM471.9,395.3h0.8v0.8h-0.8zM466.4,398.9h0.8v0.8h-0.8zM480.1,392.8h0.8v0.8h-0.8zM465.4,386.7h0.8v0.8h-0.8zM473.8,398.8h0.8v0.8h-0.8zM467.0,382.9h0.8v0.8h-0.8zM467.6,379.7h0.8v0.8h-0.8zM464.5,397.4h0.8v0.8h-0.8zM460.4,389.9h0.8v0.8h-0.8zM471.8,379.2h0.8v0.8h-0.8zM464.6,394.4h0.8v0.8h-0.8zM461.1,382.6h0.8v0.8h-0.8zM463.8,395.5h0.8v0.8h-0.8zM467.7,386.7h0.8v0.8h-0.8zM464.1,395.0h0.8v0.8h-0.8zM489.2,384.0h0.8v0.8h-0.8zM475.7,387.4h0.8v0.8h-0.8zM467.8,390.8h0.8v0.8h-0.8zM470.5,392.9h0.8v0.8h-0.8zM485.1,385.5h0.8v0.8h-0.8zM452.7,398.7h0.8v0.8h-0.8zM463.1,385.6h0.8v0.8h-0.8zM469.4,384.5h0.8v0.8h-0.8zM468.5,387.1h0.8v0.8h-0.8zM472.0,382.8h0.8v0.8h-0.8zM459.2,387.9h0.8v0.8h-0.8zM450.7,389.7h0.8v0.8h-0.8zM443.2,383.4h0.8v0.8h-0.8zM447.3,386.3h0.8v0.8h-0.8zM473.0,394.8h0.8v0.8h-0.8zM450.8,381.3h0.8v0.8h-0.8zM459.6,394.2h0.8v0.8h-0.8zM466.6,383.2h0.8v0.8h-0.8zM453.5,397.4h0.8v0.8h-0.8zM458.7,382.4h0.8v0.8h-0.8zM477.8,387.8h0.8v0.8h-0.8zM459.2,390.6h0.8v0.8h-0.8zM461.0,390.3h0.8v0.8h-0.8zM472.0,377.8h0.8v0.8h-0.8zM476.0,384.9h0.8v0.8h-0.8zM468.7,393.1h0.8v0.8h-0.8zM464.6,387.8h0.8v0.8h-0.8zM461.7,391.0h0.8v0.8h-0.8zM467.3,392.0h0.8v0.8h-0.8zM462.0,386.4h0.8v0.8h-0.8zM470.0,382.5h0.8v0.8h-0.8zM466.0,390.3h0.8v0.8h-0.8zM456.9,387.5h0.8v0.8h-0.8zM460.4,388.1h0.8v0.8h-0.8zM458.4,394.2h0.8v0.8h-0.8zM472.4,390.9h0.8v0.8h-0.8zM470.0,380.3h0.8v0.8h-0.8zM472.0,393.7h0.8v0.8h-0.8zM468.1,389.3h0.8v0.8h-0.8zM474.1,387.5h0.8v0.8h-0.8zM467.1,392.2h0.8v0.8h-0.8zM476.6,396.0h0.8v0.8h-0.8zM471.6,394.7h0.8v0.8h-0.8zM467.3,381.2h0.8v0.8h-0.8zM458.0,385.5h0.8v0.8h-0.8zM469.3,378.8h0.8v0.8h-0.8zM475.3,391.6h0.8v0.8h-0.8zM470.1,392.9h0.8v0.8h-0.8zM468.0,394.1h0.8v0.8h-0.8zM456.9,380.0h0.8v0.8h-0.8zM463.0,389.8h0.8v0.8h-0.8zM447.3,393.4h0.8v0.8h-0.8zM453.7,385.9h0.8v0.8h-0.8zM465.4,378.9h0.8v0.8h-0.8zM483.2,381.4h0.8v0.8h-0.8zM463.2,376.6h0.8v0.8h-0.8zM468.2,391.4h0.8v0.8h-0.8zM461.7,380.0h0.8v0.8h-0.8zM473.2,378.9h0.8v0.8h-0.8zM461.8,391.4h0.8v0.8h-0.8zM462.1,385.5h0.8v0.8h-0.8zM457.8,388.5h0.8v0.8h-0.8zM454.7,393.9h0.8v0.8h-0.8zM456.8,382.0h0.8v0.8h-0.8zM480.0,391.5h0.8v0.8h-0.8zM459.3,375.1h0.8v0.8h-0.8zM455.5,382.7h0.8v0.8h-0.8zM474.4,380.3h0.8v0.8h-0.8zM462.7,386.6h0.8v0.8h-0.8zM476.8,388.3h0.8v0.8h-0.8zM468.8,382.4h0.8v0.8h-0.8zM466.4,394.2h0.8v0.8h-0.8zM471.5,378.4h0.8v0.8h-0.8zM467.9,390.6h0.8v0.8h-0.8zM467.7,397.6h0.8v0.8h-0.8zM464.2,401.0h0.8v0.8h-0.8zM459.8,390.4h0.8v0.8h-0.8zM460.5,389.9h0.8v0.8h-0.8zM465.5,386.8h0.8v0.8h-0.8zM457.5,391.4h0.8v0.8h-0.8zM469.8,388.5h0.8v0.8h-0.8zM480.1,385.7h0.8v0.8h-0.8zM449.9,395.1h0.8v0.8h-0.8zM477.5,380.0h0.8v0.8h-0.8zM462.7,379.9h0.8v0.8h-0.8zM451.5,388.1h0.8v0.8h-0.8zM446.9,379.2h0.8v0.8h-0.8zM471.5,399.4h0.8v0.8h-0.8zM464.5,381.0h0.8v0.8h-0.8zM468.1,383.3h0.8v0.8h-0.8zM456.1,393.7h0.8v0.8h-0.8zM470.1,386.5h0.8v0.8h-0.8zM471.0,379.8h0.8v0.8h-0.8zM470.2,384.8h0.8v0.8h-0.8zM455.6,377.3h0.8v0.8h-0.8zM473.5,380.7h0.8v0.8h-0.8zM470.3,379.8h0.8v0.8h-0.8zM459.3,386.9h0.8v0.8h-0.8zM442.4,387.6h0.8v0.8h-0.8zM466.5,387.1h0.8v0.8h-0.8zM462.3,392.4h0.8v0.8h-0.8zM467.0,384.3h0.8v0.8h-0.8zM464.8,383.7h0.8v0.8h-0.8zM452.7,402.9h0.8v0.8h-0.8zM471.7,393.1h0.8v0.8h-0.8zM462.2,398.4h0.8v0.8h-0.8zM475.2,390.8h0.8v0.8h-0.8zM458.6,396.5h0.8v0.8h-0.8zM482.9,389.0h0.8v0.8h-0.8zM452.4,378.4h0.8v0.8h-0.8zM464.1,385.6h0.8v0.8h-0.8zM463.9,381.7h0.8v0.8h-0.8zM469.4,400.0h0.8v0.8h-0.8zM460.4,383.2h0.8v0.8h-0.8zM474.7,391.0h0.8v0.8h-0.8zM469.8,389.1h0.8v0.8h-0.8zM468.9,388.6h0.8v0.8h-0.8zM464.2,382.9h0.8v0.8h-0.8zM470.7,386.9h0.8v0.8h-0.8zM468.2,377.8h0.8v0.8h-0.8zM457.5,381.7h0.8v0.8h-0.8zM473.9,396.2h0.8v0.8h-0.8zM473.0,383.5h0.8v0.8h-0.8zM465.6,390.2h0.8v0.8h-0.8zM461.6,392.7h0.8v0.8h-0.8zM462.1,387.7h0.8v0.8h-0.8zM467.7,377.0h0.8v0.8h-0.8zM463.5,389.3h0.8v0.8h-0.8zM476.0,380.2h0.8v0.8h-0.8zM464.7,383.5h0.8v0.8h-0.8zM475.2,384.4h0.8v0.8h-0.8zM486.4,389.6h0.8v0.8h-0.8zM462.6,384.2h0.8v0.8h-0.8zM472.6,381.8h0.8v0.8h-0.8zM463.0,386.8h0.8v0.8h-0.8zM467.5,398.4h0.8v0.8h-0.8zM469.5,387.8h0.8v0.8h-0.8zM473.8,390.6h0.8v0.8h-0.8zM473.3,395.5h0.8v0.8h-0.8zM450.9,392.2h0.8v0.8h-0.8zM482.6,377.7h0.8v0.8h-0.8zM467.0,393.2h0.8v0.8h-0.8zM466.2,382.3h0.8v0.8h-0.8zM471.0,385.2h0.8v0.8h-0.8zM459.9,384.7h0.8v0.8h-0.8zM463.1,382.9h0.8v0.8h-0.8zM452.9,393.5h0.8v0.8h-0.8zM466.3,384.6h0.8v0.8h-0.8zM466.8,391.5h0.8v0.8h-0.8zM465.5,378.4h0.8v0.8h-0.8zM461.3,376.9h0.8v0.8h-0.8zM465.2,395.1h0.8v0.8h-0.8zM471.7,387.4h0.8v0.8h-0.8zM459.2,385.4h0.8v0.8h-0.8zM465.8,383.6h0.8v0.8h-0.8zM452.9,392.1h0.8v0.8h-0.8zM466.3,396.8h0.8v0.8h-0.8zM462.2,389.2h0.8v0.8h-0.8zM473.4,392.7h0.8v0.8h-0.8zM469.6,378.9h0.8v0.8h-0.8zM472.0,380.2h0.8v0.8h-0.8zM467.0,375.9h0.8v0.8h-0.8zM456.1,384.1h0.8v0.8h-0.8zM467.4,391.5h0.8v0.8h-0.8zM467.6,389.1h0.8v0.8h-0.8zM459.1,391.5h0.8v0.8h-0.8zM450.4,384.4h0.8v0.8h-0.8zM462.2,401.2h0.8v0.8h-0.8zM466.9,384.1h0.8v0.8h-0.8zM459.7,386.0h0.8v0.8h-0.8zM469.4,389.2h0.8v0.8h-0.8zM464.5,388.6h0.8v0.8h-0.8zM478.6,388.5h0.8v0.8h-0.8zM474.8,377.6h0.8v0.8h-0.8zM465.8,388.3h0.8v0.8h-0.8zM469.1,382.7h0.8v0.8h-0.8zM457.2,396.4h0.8v0.8h-0.8zM457.2,387.3h0.8v0.8h-0.8zM466.6,390.2h0.8v0.8h-0.8zM460.1,374.9h0.8v0.8h-0.8zM469.8,388.5h0.8v0.8h-0.8zM458.0,387.6h0.8v0.8h-0.8zM454.8,389.1h0.8v0.8h-0.8zM444.0,371.9h0.8v0.8h-0.8zM429.1,374.5h0.8v0.8h-0.8zM452.2,374.9h0.8v0.8h-0.8zM449.1,360.4h0.8v0.8h-0.8zM431.8,381.2h0.8v0.8h-0.8zM450.9,346.1h0.8v0.8h-0.8zM441.1,375.9h0.8v0.8h-0.8zM426.9,372.5h0.8v0.8h-0.8zM435.6,362.7h0.8v0.8h-0.8zM424.3,367.2h0.8v0.8h-0.8zM441.4,371.4h0.8v0.8h-0.8zM447.7,373.0h0.8v0.8h-0.8zM466.2,378.9h0.8v0.8h-0.8zM428.3,364.4h0.8v0.8h-0.8zM433.3,370.8h0.8v0.8h-0.8zM447.6,382.5h0.8v0.8h-0.8zM435.9,371.8h0.8v0.8h-0.8zM443.5,355.0h0.8v0.8h-0.8zM455.5,368.4h0.8v0.8h-0.8zM428.5,374.3h0.8v0.8h-0.8zM438.7,370.6h0.8v0.8h-0.8zM436.3,369.3h0.8v0.8h-0.8zM443.7,380.1h0.8v0.8h-0.8zM436.6,376.2h0.8v0.8h-0.8zM442.9,371.6h0.8v0.8h-0.8zM447.7,357.1h0.8v0.8h-0.8zM440.8,359.7h0.8v0.8h-0.8zM449.7,375.6h0.8v0.8h-0.8zM452.9,358.3h0.8v0.8h-0.8zM433.0,363.4h0.8v0.8h-0.8zM446.0,370.5h0.8v0.8h-0.8zM445.5,367.5h0.8v0.8h-0.8zM444.3,375.3h0.8v0.8h-0.8zM439.9,358.6h0.8v0.8h-0.8zM459.3,357.0h0.8v0.8h-0.8zM443.5,373.6h0.8v0.8h-0.8zM450.7,372.7h0.8v0.8h-0.8zM464.1,378.8h0.8v0.8h-0.8zM434.5,365.0h0.8v0.8h-0.8zM464.3,373.8h0.8v0.8h-0.8zM445.0,380.0h0.8v0.8h-0.8zM446.6,373.6h0.8v0.8h-0.8zM452.2,374.8h0.8v0.8h-0.8zM441.8,377.1h0.8v0.8h-0.8zM443.0,363.8h0.8v0.8h-0.8zM452.3,374.5h0.8v0.8h-0.8zM436.0,372.8h0.8v0.8h-0.8zM440.6,371.5h0.8v0.8h-0.8zM455.6,376.1h0.8v0.8h-0.8zM434.7,360.9h0.8v0.8h-0.8zM437.0,362.4h0.8v0.8h-0.8zM451.5,382.6h0.8v0.8h-0.8zM434.0,367.0h0.8v0.8h-0.8zM443.8,375.0h0.8v0.8h-0.8zM454.2,367.7h0.8v0.8h-0.8zM446.1,365.3h0.8v0.8h-0.8zM438.2,365.4h0.8v0.8h-0.8zM445.3,374.2h0.8v0.8h-0.8zM433.5,374.4h0.8v0.8h-0.8zM428.5,375.9h0.8v0.8h-0.8zM455.1,379.4h0.8v0.8h-0.8zM428.7,373.1h0.8v0.8h-0.8zM438.6,371.7h0.8v0.8h-0.8zM455.3,362.6h0.8v0.8h-0.8zM442.4,360.5h0.8v0.8h-0.8zM438.5,352.2h0.8v0.8h-0.8zM443.0,350.8h0.8v0.8h-0.8zM439.7,373.1h0.8v0.8h-0.8zM458.0,360.0h0.8v0.8h-0.8zM452.3,363.9h0.8v0.8h-0.8zM424.5,376.9h0.8v0.8h-0.8zM446.2,372.4h0.8v0.8h-0.8zM448.3,373.6h0.8v0.8h-0.8zM436.2,371.8h0.8v0.8h-0.8zM442.0,369.0h0.8v0.8h-0.8zM438.2,375.2h0.8v0.8h-0.8zM454.9,371.1h0.8v0.8h-0.8zM456.1,363.0h0.8v0.8h-0.8zM462.5,364.1h0.8v0.8h-0.8zM442.5,368.6h0.8v0.8h-0.8zM456.2,371.7h0.8v0.8h-0.8zM449.2,363.5h0.8v0.8h-0.8zM455.5,376.9h0.8v0.8h-0.8zM434.0,366.7h0.8v0.8h-0.8zM453.0,374.7h0.8v0.8h-0.8zM430.9,363.8h0.8v0.8h-0.8zM447.6,367.0h0.8v0.8h-0.8zM448.6,363.4h0.8v0.8h-0.8zM436.8,371.6h0.8v0.8h-0.8zM448.1,361.7h0.8v0.8h-0.8zM454.3,371.8h0.8v0.8h-0.8zM445.5,369.5h0.8v0.8h-0.8zM453.4,370.6h0.8v0.8h-0.8zM444.1,368.6h0.8v0.8h-0.8zM458.0,379.5h0.8v0.8h-0.8zM418.5,363.4h0.8v0.8h-0.8zM421.4,364.1h0.8v0.8h-0.8zM441.0,362.3h0.8v0.8h-0.8zM449.6,369.7h0.8v0.8h-0.8zM448.2,359.0h0.8v0.8h-0.8zM442.8,372.4h0.8v0.8h-0.8zM430.3,356.6h0.8v0.8h-0.8zM444.8,391.4h0.8v0.8h-0.8zM438.0,367.5h0.8v0.8h-0.8zM450.7,378.2h0.8v0.8h-0.8zM450.3,366.5h0.8v0.8h-0.8zM444.9,372.2h0.8v0.8h-0.8zM446.2,373.2h0.8v0.8h-0.8zM438.3,371.0h0.8v0.8h-0.8zM440.8,364.3h0.8v0.8h-0.8zM443.4,375.5h0.8v0.8h-0.8zM446.0,370.4h0.8v0.8h-0.8zM445.3,368.9h0.8v0.8h-0.8zM443.1,366.6h0.8v0.8h-0.8zM424.5,370.3h0.8v0.8h-0.8zM438.3,364.7h0.8v0.8h-0.8zM436.2,372.6h0.8v0.8h-0.8zM443.1,370.5h0.8v0.8h-0.8zM447.4,371.6h0.8v0.8h-0.8zM446.7,374.3h0.8v0.8h-0.8zM455.1,374.1h0.8v0.8h-0.8zM448.0,376.2h0.8v0.8h-0.8zM440.5,361.1h0.8v0.8h-0.8zM443.5,356.8h0.8v0.8h-0.8zM438.2,370.0h0.8v0.8h-0.8zM458.7,371.2h0.8v0.8h-0.8zM439.1,372.6h0.8v0.8h-0.8zM449.7,370.6h0.8v0.8h-0.8zM452.9,363.7h0.8v0.8h-0.8zM455.1,357.9h0.8v0.8h-0.8zM444.5,373.3h0.8v0.8h-0.8zM449.8,365.3h0.8v0.8h-0.8zM426.1,359.4h0.8v0.8h-0.8zM434.6,370.0h0.8v0.8h-0.8zM463.0,365.0h0.8v0.8h-0.8zM458.0,363.9h0.8v0.8h-0.8zM445.0,370.6h0.8v0.8h-0.8zM466.1,370.6h0.8v0.8h-0.8zM425.2,364.8h0.8v0.8h-0.8zM451.3,367.2h0.8v0.8h-0.8zM452.0,367.5h0.8v0.8h-0.8zM447.8,373.4h0.8v0.8h-0.8zM467.3,368.1h0.8v0.8h-0.8zM437.8,374.7h0.8v0.8h-0.8zM452.2,357.7h0.8v0.8h-0.8zM451.8,364.7h0.8v0.8h-0.8zM445.7,376.5h0.8v0.8h-0.8zM456.6,364.8h0.8v0.8h-0.8zM448.9,365.3h0.8v0.8h-0.8zM423.0,367.8h0.8v0.8h-0.8zM429.0,363.4h0.8v0.8h-0.8zM448.2,361.7h0.8v0.8h-0.8zM439.0,358.9h0.8v0.8h-0.8zM433.6,371.5h0.8v0.8h-0.8zM451.8,355.6h0.8v0.8h-0.8zM453.6,368.0h0.8v0.8h-0.8zM439.0,360.9h0.8v0.8h-0.8zM448.7,364.5h0.8v0.8h-0.8zM437.2,369.6h0.8v0.8h-0.8zM449.4,358.5h0.8v0.8h-0.8zM449.1,368.6h0.8v0.8h-0.8zM452.6,375.5h0.8v0.8h-0.8zM445.9,362.4h0.8v0.8h-0.8zM455.7,372.8h0.8v0.8h-0.8zM436.8,363.8h0.8v0.8h-0.8zM443.3,374.7h0.8v0.8h-0.8zM446.4,380.7h0.8v0.8h-0.8zM433.3,375.7h0.8v0.8h-0.8zM437.9,367.0h0.8v0.8h-0.8zM441.8,378.4h0.8v0.8h-0.8zM458.5,357.1h0.8v0.8h-0.8zM448.7,372.8h0.8v0.8h-0.8zM449.5,371.1h0.8v0.8h-0.8zM432.9,375.5h0.8v0.8h-0.8zM455.6,364.0h0.8v0.8h-0.8zM450.2,373.7h0.8v0.8h-0.8zM449.3,372.8h0.8v0.8h-0.8zM434.3,364.9h0.8v0.8h-0.8zM448.1,373.3h0.8v0.8h-0.8zM455.3,362.8h0.8v0.8h-0.8zM437.7,365.0h0.8v0.8h-0.8zM439.5,379.4h0.8v0.8h-0.8zM458.4,369.4h0.8v0.8h-0.8zM457.6,365.9h0.8v0.8h-0.8zM446.9,369.0h0.8v0.8h-0.8zM445.8,364.3h0.8v0.8h-0.8zM432.1,373.1h0.8v0.8h-0.8zM440.9,363.6h0.8v0.8h-0.8zM435.7,355.0h0.8v0.8h-0.8zM435.0,369.9h0.8v0.8h-0.8zM436.8,356.0h0.8v0.8h-0.8zM436.0,354.3h0.8v0.8h-0.8zM449.2,352.0h0.8v0.8h-0.8zM444.4,378.6h0.8v0.8h-0.8zM445.7,371.8h0.8v0.8h-0.8zM431.8,382.1h0.8v0.8h-0.8zM442.2,374.1h0.8v0.8h-0.8zM468.9,360.1h0.8v0.8h-0.8zM444.9,362.3h0.8v0.8h-0.8zM446.0,366.3h0.8v0.8h-0.8zM447.9,368.7h0.8v0.8h-0.8zM440.8,372.8h0.8v0.8h-0.8zM451.1,362.9h0.8v0.8h-0.8zM451.1,362.3h0.8v0.8h-0.8zM438.4,372.9h0.8v0.8h-0.8zM454.6,370.7h0.8v0.8h-0.8zM468.9,363.1h0.8v0.8h-0.8zM448.4,367.3h0.8v0.8h-0.8zM427.4,373.0h0.8v0.8h-0.8zM446.5,370.6h0.8v0.8h-0.8zM445.6,371.2h0.8v0.8h-0.8zM443.5,357.9h0.8v0.8h-0.8zM447.6,368.4h0.8v0.8h-0.8zM439.5,357.1h0.8v0.8h-0.8zM446.2,371.0h0.8v0.8h-0.8zM461.3,367.0h0.8v0.8h-0.8zM450.1,370.3h0.8v0.8h-0.8zM441.3,365.1h0.8v0.8h-0.8zM439.4,370.0h0.8v0.8h-0.8zM453.8,372.7h0.8v0.8h-0.8zM409.8,380.4h0.8v0.8h-0.8zM469.8,379.9h0.8v0.8h-0.8zM474.2,385.9h0.8v0.8h-0.8zM459.5,390.4h0.8v0.8h-0.8zM480.2,375.0h0.8v0.8h-0.8zM435.5,369.0h0.8v0.8h-0.8zM459.5,398.7h0.8v0.8h-0.8zM458.9,379.9h0.8v0.8h-0.8zM460.2,371.1h0.8v0.8h-0.8zM459.2,398.0h0.8v0.8h-0.8zM457.5,375.0h0.8v0.8h-0.8zM458.0,394.7h0.8v0.8h-0.8zM457.0,395.2h0.8v0.8h-0.8zM454.7,381.2h0.8v0.8h-0.8zM436.9,387.1h0.8v0.8h-0.8zM464.1,394.5h0.8v0.8h-0.8zM472.6,374.8h0.8v0.8h-0.8zM418.9,378.7h0.8v0.8h-0.8zM485.1,352.8h0.8v0.8h-0.8zM443.1,389.4h0.8v0.8h-0.8zM475.0,370.6h0.8v0.8h-0.8zM458.7,376.2h0.8v0.8h-0.8zM452.4,375.6h0.8v0.8h-0.8zM457.2,385.7h0.8v0.8h-0.8zM435.5,393.4h0.8v0.8h-0.8zM422.2,360.9h0.8v0.8h-0.8zM424.4,391.9h0.8v0.8h-0.8zM432.0,390.5h0.8v0.8h-0.8zM449.6,383.2h0.8v0.8h-0.8zM448.6,401.9h0.8v0.8h-0.8zM459.7,362.9h0.8v0.8h-0.8zM429.3,389.0h0.8v0.8h-0.8zM455.8,389.8h0.8v0.8h-0.8zM478.3,378.4h0.8v0.8h-0.8zM428.0,393.2h0.8v0.8h-0.8zM432.0,384.5h0.8v0.8h-0.8zM430.1,390.7h0.8v0.8h-0.8zM486.0,362.2h0.8v0.8h-0.8zM444.2,395.8h0.8v0.8h-0.8zM465.9,390.7h0.8v0.8h-0.8zM473.5,380.2h0.8v0.8h-0.8zM446.3,382.9h0.8v0.8h-0.8zM464.4,392.1h0.8v0.8h-0.8zM431.9,385.8h0.8v0.8h-0.8zM467.7,383.5h0.8v0.8h-0.8zM444.0,387.4h0.8v0.8h-0.8zM437.6,378.3h0.8v0.8h-0.8zM416.8,382.0h0.8v0.8h-0.8zM474.8,380.3h0.8v0.8h-0.8zM420.3,365.6h0.8v0.8h-0.8zM434.9,361.8h0.8v0.8h-0.8zM441.9,375.4h0.8v0.8h-0.8zM463.7,361.2h0.8v0.8h-0.8zM401.3,390.0h0.8v0.8h-0.8zM494.3,384.8h0.8v0.8h-0.8zM433.1,396.0h0.8v0.8h-0.8zM453.6,374.4h0.8v0.8h-0.8zM446.1,382.5h0.8v0.8h-0.8zM501.9,382.8h0.8v0.8h-0.8zM454.1,394.2h0.8v0.8h-0.8zM485.9,397.4h0.8v0.8h-0.8zM407.8,385.9h0.8v0.8h-0.8zM446.5,396.0h0.8v0.8h-0.8zM450.4,398.4h0.8v0.8h-0.8zM442.4,367.3h0.8v0.8h-0.8zM433.9,378.5h0.8v0.8h-0.8zM453.9,380.8h0.8v0.8h-0.8zM465.7,395.9h0.8v0.8h-0.8zM490.7,373.1h0.8v0.8h-0.8zM423.0,389.4h0.8v0.8h-0.8zM432.0,370.4h0.8v0.8h-0.8zM483.1,359.9h0.8v0.8h-0.8zM436.8,400.7h0.8v0.8h-0.8zM466.5,394.7h0.8v0.8h-0.8zM439.0,372.7h0.8v0.8h-0.8zM460.1,379.3h0.8v0.8h-0.8zM449.2,364.2h0.8v0.8h-0.8zM473.4,380.6h0.8v0.8h-0.8zM474.4,389.3h0.8v0.8h-0.8zM439.2,381.5h0.8v0.8h-0.8zM475.4,372.5h0.8v0.8h-0.8zM437.5,376.9h0.8v0.8h-0.8zM460.6,389.7h0.8v0.8h-0.8zM463.8,382.1h0.8v0.8h-0.8zM428.5,384.8h0.8v0.8h-0.8zM450.6,375.1h0.8v0.8h-0.8zM456.9,395.6h0.8v0.8h-0.8zM442.7,372.9h0.8v0.8h-0.8zM452.8,387.8h0.8v0.8h-0.8zM436.1,392.7h0.8v0.8h-0.8zM454.4,372.7h0.8v0.8h-0.8zM430.8,401.4h0.8v0.8h-0.8zM451.4,385.1h0.8v0.8h-0.8zM496.5,371.7h0.8v0.8h-0.8zM442.8,392.0h0.8v0.8h-0.8zM435.6,385.7h0.8v0.8h-0.8zM459.9,355.8h0.8v0.8h-0.8zM444.7,370.4h0.8v0.8h-0.8zM476.7,354.3h0.8v0.8h-0.8zM462.6,397.2h0.8v0.8h-0.8zM456.0,369.1h0.8v0.8h-0.8zM448.8,371.8h0.8v0.8h-0.8zM473.5,384.9h0.8v0.8h-0.8zM470.8,385.7h0.8v0.8h-0.8zM466.7,367.0h0.8v0.8h-0.8zM448.3,390.6h0.8v0.8h-0.8zM426.0,379.5h0.8v0.8h-0.8zM460.6,376.4h0.8v0.8h-0.8zM427.0,387.5h0.8v0.8h-0.8zM440.0,388.7h0.8v0.8h-0.8zM429.9,394.6h0.8v0.8h-0.8zM456.3,391.4h0.8v0.8h-0.8zM399.8,382.9h0.8v0.8h-0.8zM430.2,385.5h0.8v0.8h-0.8zM475.0,382.2h0.8v0.8h-0.8zM443.9,387.7h0.8v0.8h-0.8zM420.6,388.2h0.8v0.8h-0.8zM429.1,400.6h0.8v0.8h-0.8zM444.6,379.3h0.8v0.8h-0.8zM474.7,383.6h0.8v0.8h-0.8zM428.3,374.8h0.8v0.8h-0.8zM452.4,392.9h0.8v0.8h-0.8zM445.5,370.3h0.8v0.8h-0.8zM434.7,382.1h0.8v0.8h-0.8zM433.0,373.7h0.8v0.8h-0.8zM485.6,378.1h0.8v0.8h-0.8zM470.4,345.2h0.8v0.8h-0.8zM480.9,371.5h0.8v0.8h-0.8zM433.4,385.9h0.8v0.8h-0.8zM443.4,370.4h0.8v0.8h-0.8zM445.1,388.0h0.8v0.8h-0.8zM423.3,373.1h0.8v0.8h-0.8zM451.3,374.7h0.8v0.8h-0.8zM458.3,397.8h0.8v0.8h-0.8zM480.4,397.1h0.8v0.8h-0.8zM476.9,371.1h0.8v0.8h-0.8zM447.8,398.0h0.8v0.8h-0.8zM451.8,370.4h0.8v0.8h-0.8zM432.7,370.5h0.8v0.8h-0.8zM480.9,366.7h0.8v0.8h-0.8zM436.8,370.0h0.8v0.8h-0.8zM472.2,368.6h0.8v0.8h-0.8zM442.9,372.9h0.8v0.8h-0.8zM471.1,389.3h0.8v0.8h-0.8zM442.8,389.8h0.8v0.8h-0.8zM433.1,378.9h0.8v0.8h-0.8zM479.4,377.8h0.8v0.8h-0.8zM464.6,386.5h0.8v0.8h-0.8zM468.8,389.0h0.8v0.8h-0.8zM431.5,382.3h0.8v0.8h-0.8zM439.0,371.4h0.8v0.8h-0.8zM463.5,363.5h0.8v0.8h-0.8zM465.2,381.8h0.8v0.8h-0.8zM501.6,381.2h0.8v0.8h-0.8zM409.8,381.4h0.8v0.8h-0.8zM459.2,380.5h0.8v0.8h-0.8zM453.4,380.1h0.8v0.8h-0.8zM438.3,362.4h0.8v0.8h-0.8zM416.2,403.1h0.8v0.8h-0.8zM452.4,367.2h0.8v0.8h-0.8zM447.4,389.4h0.8v0.8h-0.8zM473.5,386.3h0.8v0.8h-0.8zM436.2,382.3h0.8v0.8h-0.8zM441.3,382.0h0.8v0.8h-0.8zM439.6,400.6h0.8v0.8h-0.8zM464.9,392.4h0.8v0.8h-0.8zM479.3,397.5h0.8v0.8h-0.8zM498.0,360.6h0.8v0.8h-0.8zM443.3,401.0h0.8v0.8h-0.8zM501.6,389.9h0.8v0.8h-0.8zM447.7,379.0h0.8v0.8h-0.8zM456.3,385.6h0.8v0.8h-0.8zM454.4,370.8h0.8v0.8h-0.8zM451.0,380.2h0.8v0.8h-0.8zM429.4,381.0h0.8v0.8h-0.8zM492.5,389.6h0.8v0.8h-0.8zM411.1,352.5h0.8v0.8h-0.8zM430.8,370.9h0.8v0.8h-0.8zM466.7,390.0h0.8v0.8h-0.8zM471.6,369.9h0.8v0.8h-0.8zM434.5,373.3h0.8v0.8h-0.8zM447.7,383.7h0.8v0.8h-0.8zM452.5,389.4h0.8v0.8h-0.8zM455.8,383.5h0.8v0.8h-0.8zM452.3,341.2h0.8v0.8h-0.8zM436.8,361.5h0.8v0.8h-0.8zM419.1,402.1h0.8v0.8h-0.8zM451.2,392.2h0.8v0.8h-0.8z" fill="#1a1a1a" fill-opacity="0.7"/>
<path d="M456.2,357.8h0.8v0.8h-0.8zM429.6,386.5h0.8v0.8h-0.8zM482.3,401.2h0.8v0.8h-0.8zM468.9,365.0h0.8v0.8h-0.8zM450.5,378.5h0.8v0.8h-0.8zM462.7,397.4h0.8v0.8h-0.8zM460.2,399.9h0.8v0.8h-0.8zM451.4,370.5h0.8v0.8h-0.8zM406.7,363.5h0.8v0.8h-0.8zM451.8,345.7h0.8v0.8h-0.8zM447.5,351.6h0.8v0.8h-0.8zM430.4,395.5h0.8v0.8h-0.8zM494.9,351.5h0.8v0.8h-0.8zM462.3,372.8h0.8v0.8h-0.8zM409.2,362.0h0.8v0.8h-0.8zM457.0,369.3h0.8v0.8h-0.8zM460.5,348.8h0.8v0.8h-0.8zM464.8,379.9h0.8v0.8h-0.8zM422.7,377.4h0.8v0.8h-0.8zM496.7,395.9h0.8v0.8h-0.8zM465.2,374.7h0.8v0.8h-0.8zM478.4,370.9h0.8v0.8h-0.8zM474.1,366.3h0.8v0.8h-0.8zM459.0,386.9h0.8v0.8h-0.8zM462.0,379.4h0.8v0.8h-0.8zM442.0,365.0h0.8v0.8h-0.8zM469.0,370.5h0.8v0.8h-0.8zM447.7,366.6h0.8v0.8h-0.8zM432.7,380.8h0.8v0.8h-0.8zM491.1,356.1h0.8v0.8h-0.8zM430.4,373.2h0.8v0.8h-0.8zM424.1,372.2h0.8v0.8h-0.8zM446.7,385.0h0.8v0.8h-0.8zM428.6,397.0h0.8v0.8h-0.8zM407.9,367.1h0.8v0.8h-0.8zM428.5,370.6h0.8v0.8h-0.8zM488.0,398.7h0.8v0.8h-0.8zM420.5,387.3h0.8v0.8h-0.8zM437.9,370.3h0.8v0.8h-0.8zM463.4,382.2h0.8v0.8h-0.8zM482.9,387.0h0.8v0.8h-0.8zM452.7,392.1h0.8v0.8h-0.8zM482.6,380.4h0.8v0.8h-0.8zM443.0,395.6h0.8v0.8h-0.8zM452.9,392.6h0.8v0.8h-0.8zM447.4,372.3h0.8v0.8h-0.8zM459.0,379.3h0.8v0.8h-0.8zM472.8,370.0h0.8v0.8h-0.8zM478.5,379.7h0.8v0.8h-0.8zM446.6,384.6h0.8v0.8h-0.8zM432.3,381.1h0.8v0.8h-0.8zM463.8,376.4h0.8v0.8h-0.8zM467.7,374.5h0.8v0.8h-0.8zM464.6,363.9h0.8v0.8h-0.8zM481.8,374.1h0.8v0.8h-0.8zM436.5,392.3h0.8v0.8h-0.8zM451.0,389.3h0.8v0.8h-0.8zM442.7,394.6h0.8v0.8h-0.8zM451.2,382.2h0.8v0.8h-0.8zM418.0,386.5h0.8v0.8h-0.8zM472.2,397.4h0.8v0.8h-0.8zM461.5,402.2h0.8v0.8h-0.8zM476.4,403.3h0.8v0.8h-0.8zM445.3,389.2h0.8v0.8h-0.8zM460.4,389.4h0.8v0.8h-0.8zM465.5,390.1h0.8v0.8h-0.8zM475.3,379.0h0.8v0.8h-0.8zM414.7,399.7h0.8v0.8h-0.8zM460.0,385.0h0.8v0.8h-0.8zM466.1,374.1h0.8v0.8h-0.8zM457.6,389.9h0.8v0.8h-0.8zM446.8,349.9h0.8v0.8h-0.8zM415.9,398.4h0.8v0.8h-0.8zM432.3,387.3h0.8v0.8h-0.8zM440.2,394.9h0.8v0.8h-0.8zM472.0,388.1h0.8v0.8h-0.8zM449.1,380.5h0.8v0.8h-0.8zM485.8,376.4h0.8v0.8h-0.8zM439.7,378.0h0.8v0.8h-0.8zM454.4,382.9h0.8v0.8h-0.8zM457.1,375.4h0.8v0.8h-0.8zM481.7,388.4h0.8v0.8h-0.8zM492.2,393.0h0.8v0.8h-0.8zM462.0,374.1h0.8v0.8h-0.8zM469.5,393.5h0.8v0.8h-0.8zM449.8,380.2h0.8v0.8h-0.8zM445.9,377.9h0.8v0.8h-0.8zM438.3,389.9h0.8v0.8h-0.8zM478.7,388.4h0.8v0.8h-0.8zM485.2,369.0h0.8v0.8h-0.8zM411.4,386.0h0.8v0.8h-0.8zM434.9,397.1h0.8v0.8h-0.8zM423.1,382.3h0.8v0.8h-0.8zM400.7,396.5h0.8v0.8h-0.8zM493.3,378.1h0.8v0.8h-0.8zM464.2,374.1h0.8v0.8h-0.8zM466.7,386.0h0.8v0.8h-0.8zM404.4,387.9h0.8v0.8h-0.8zM443.8,356.9h0.8v0.8h-0.8zM453.9,373.0h0.8v0.8h-0.8zM478.6,385.7h0.8v0.8h-0.8zM477.4,372.5h0.8v0.8h-0.8zM456.2,363.4h0.8v0.8h-0.8zM421.2,384.7h0.8v0.8h-0.8zM495.5,372.9h0.8v0.8h-0.8zM477.0,398.1h0.8v0.8h-0.8zM427.4,382.4h0.8v0.8h-0.8zM474.4,393.0h0.8v0.8h-0.8zM461.1,376.9h0.8v0.8h-0.8zM461.5,397.2h0.8v0.8h-0.8zM425.7,386.9h0.8v0.8h-0.8zM465.2,388.8h0.8v0.8h-0.8zM497.6,370.7h0.8v0.8h-0.8zM479.8,376.5h0.8v0.8h-0.8zM440.3,384.6h0.8v0.8h-0.8zM418.2,393.9h0.8v0.8h-0.8zM459.5,382.5h0.8v0.8h-0.8zM445.2,380.9h0.8v0.8h-0.8zM467.5,380.5h0.8v0.8h-0.8zM436.7,368.4h0.8v0.8h-0.8zM458.0,396.1h0.8v0.8h-0.8zM435.0,388.6h0.8v0.8h-0.8zM442.1,387.1h0.8v0.8h-0.8zM431.1,353.7h0.8v0.8h-0.8zM423.7,382.9h0.8v0.8h-0.8zM435.0,384.4h0.8v0.8h-0.8zM447.0,365.0h0.8v0.8h-0.8zM470.5,389.0h0.8v0.8h-0.8zM479.6,394.2h0.8v0.8h-0.8zM503.6,380.9h0.8v0.8h-0.8zM496.4,388.5h0.8v0.8h-0.8zM461.5,396.7h0.8v0.8h-0.8zM434.7,356.7h0.8v0.8h-0.8zM460.7,377.6h0.8v0.8h-0.8zM443.7,371.4h0.8v0.8h-0.8zM464.6,394.2h0.8v0.8h-0.8zM454.7,382.3h0.8v0.8h-0.8zM439.3,370.0h0.8v0.8h-0.8zM472.2,372.1h0.8v0.8h-0.8zM481.5,392.5h0.8v0.8h-0.8z" fill="#1a1a1a" fill-opacity="0.3"/>
<rect x="398.50" y="319.80" width="106.90" height="84.00" stroke="#999" stroke-width="0.9" fill="none"/>
<text x="425.23" y="409.40" font-size="4.8" font-weight="400" text-anchor="middle" fill="#333">10<tspan font-size="3.3" dy="-1.8">1</tspan></text>
<text x="0.00" y="0.00" transform="translate(395.20,382.80) rotate(-90)" font-size="4.8" font-weight="400" text-anchor="middle" fill="#333">10<tspan font-size="3.3" dy="-1.8">1</tspan></text>
<text x="451.95" y="409.40" font-size="4.8" font-weight="400" text-anchor="middle" fill="#333">10<tspan font-size="3.3" dy="-1.8">2</tspan></text>
<text x="0.00" y="0.00" transform="translate(395.20,361.80) rotate(-90)" font-size="4.8" font-weight="400" text-anchor="middle" fill="#333">10<tspan font-size="3.3" dy="-1.8">2</tspan></text>
<text x="478.68" y="409.40" font-size="4.8" font-weight="400" text-anchor="middle" fill="#333">10<tspan font-size="3.3" dy="-1.8">3</tspan></text>
<text x="0.00" y="0.00" transform="translate(395.20,340.80) rotate(-90)" font-size="4.8" font-weight="400" text-anchor="middle" fill="#333">10<tspan font-size="3.3" dy="-1.8">3</tspan></text>
<text x="505.40" y="409.40" font-size="4.8" font-weight="400" text-anchor="middle" fill="#333">10<tspan font-size="3.3" dy="-1.8">4</tspan></text>
<text x="0.00" y="0.00" transform="translate(395.20,319.80) rotate(-90)" font-size="4.8" font-weight="400" text-anchor="middle" fill="#333">10<tspan font-size="3.3" dy="-1.8">4</tspan></text>
<rect x="431.40" y="358.20" width="25.00" height="19.50" stroke="#666" stroke-width="1.3" fill="none"/>
<rect x="450.20" y="378.00" width="25.40" height="25.50" stroke="#222" stroke-width="1.5" fill="none"/>
<text x="443.90" y="341.30" font-size="8.9" font-weight="400" text-anchor="middle" fill="#666" stroke="#666" stroke-width="0.3">A1</text>
<line x1="443.90" y1="343.20" x2="443.90" y2="352.50" stroke="#666" stroke-width="1.1"/>
<path d="M441.50,350.20 L443.90,354.80 L446.30,350.20 Z" fill="#666" stroke="none" stroke-width="1" stroke-linejoin="round"/>
<text x="479.00" y="363.60" font-size="8.9" font-weight="400" text-anchor="middle" fill="#111" stroke="#111" stroke-width="0.3">A2</text>
<line x1="476.30" y1="365.70" x2="471.20" y2="373.60" stroke="#111" stroke-width="1.2"/>
<path d="M470.00,375.50 L469.70,370.70 L473.80,373.20 Z" fill="#111" stroke="none" stroke-width="1" stroke-linejoin="round"/>
<text x="456.60" y="421.20" font-size="8.95" font-weight="700" text-anchor="middle" fill="#000">FITC – anti-fibrinogen</text>
<text x="0.00" y="0.00" transform="translate(12.40,359.60) rotate(-90)" font-size="9.0" font-weight="700" text-anchor="middle" fill="#000">PE – JON/A</text>
</svg></body></html>
